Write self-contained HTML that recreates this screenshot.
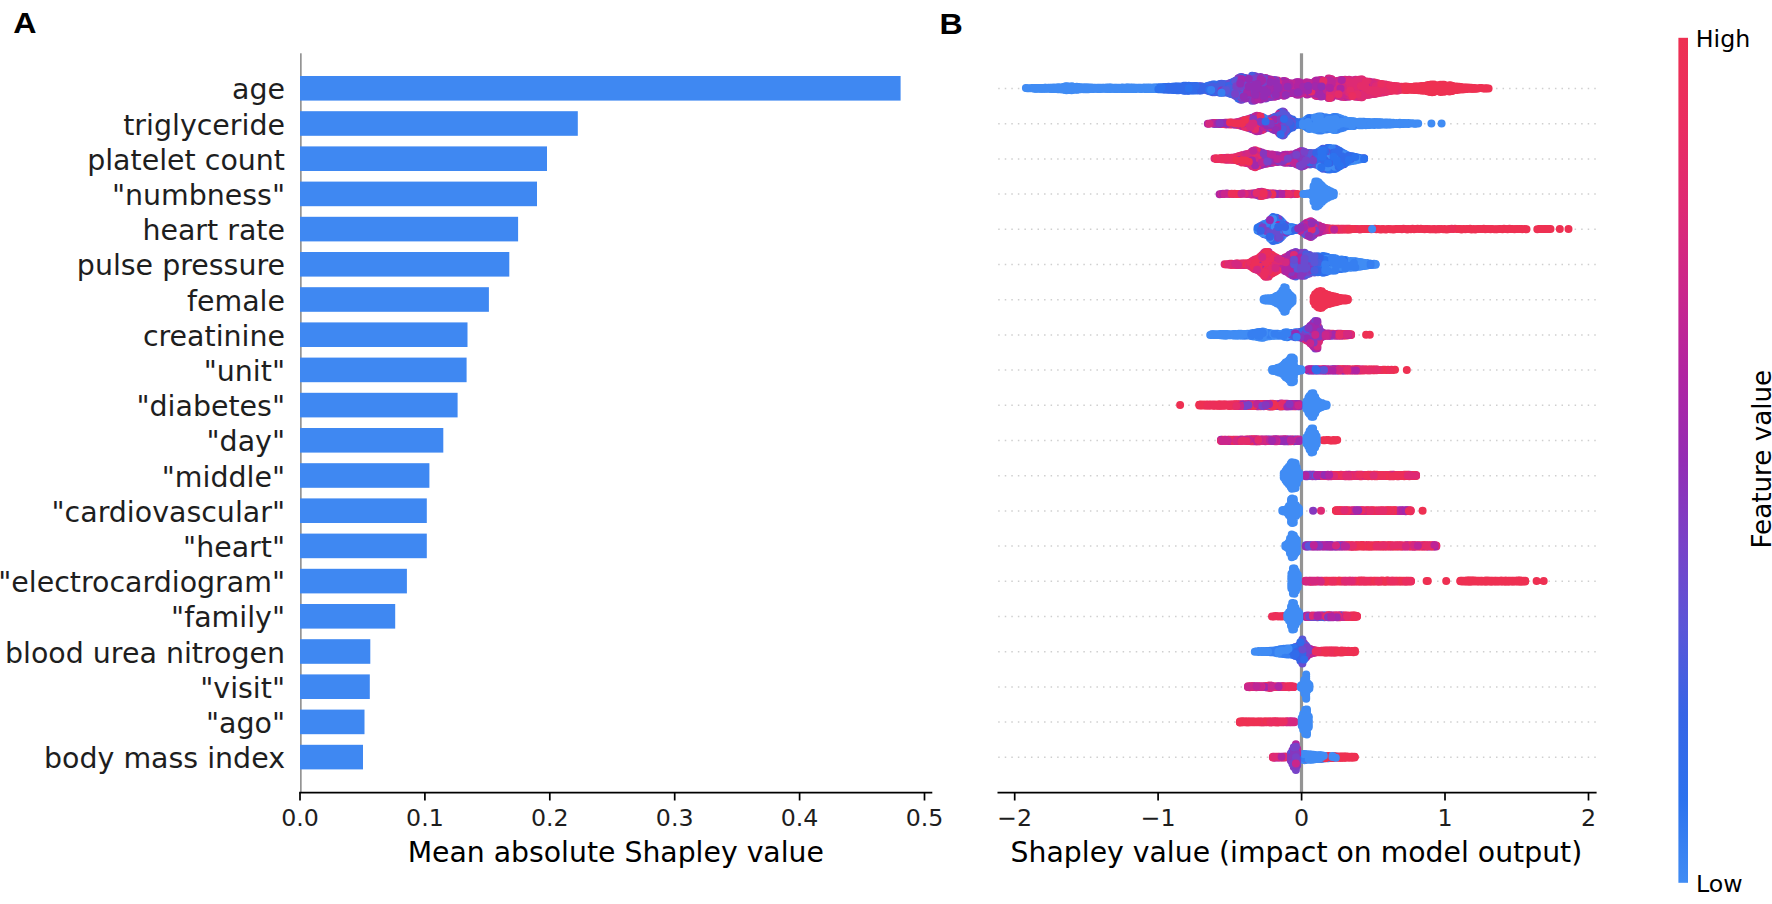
<!DOCTYPE html>
<html lang="en"><head><meta charset="utf-8"><title>Shapley value summary</title>
<style>html,body{margin:0;padding:0;background:#fff}svg{display:block}.dv{font-family:"DejaVu Sans","Liberation Sans",sans-serif}.lb{font-family:"Liberation Sans","DejaVu Sans",sans-serif;font-weight:bold;font-size:28.8px;fill:#000}.yl{font-size:28.45px;fill:#1e1e1e;text-anchor:end}.xt{font-size:23.7px;fill:#1e1e1e;text-anchor:middle}.xl{font-size:28.3px;fill:#000;text-anchor:middle}.cb{font-size:23.7px;fill:#000}.fv{font-size:26.2px;fill:#000;text-anchor:middle}.sw path{fill:none;stroke-width:8.0;stroke-linecap:round}</style></head><body>
<svg width="1772" height="904" viewBox="0 0 1772 904">
<defs><linearGradient id="cbg" x1="0" y1="1" x2="0" y2="0">
<stop offset="0.00" stop-color="#408cf4"/>
<stop offset="0.10" stop-color="#2c72ee"/>
<stop offset="0.20" stop-color="#3664e6"/>
<stop offset="0.30" stop-color="#5a56d8"/>
<stop offset="0.40" stop-color="#7842c8"/>
<stop offset="0.50" stop-color="#942cb4"/>
<stop offset="0.60" stop-color="#b024a2"/>
<stop offset="0.70" stop-color="#ca268c"/>
<stop offset="0.80" stop-color="#de2a74"/>
<stop offset="0.90" stop-color="#ea2d60"/>
<stop offset="1.00" stop-color="#ee3052"/>
</linearGradient></defs>
<rect width="1772" height="904" fill="#fff"/>
<text class="lb" transform="translate(13.3 33.4) scale(1.12 1)">A</text>
<text class="lb" transform="translate(939.6 33.9) scale(1.12 1)">B</text>
<g class="dv">
<rect x="300" y="53.3" width="1.7" height="739.3" fill="#949494"/>
<g fill="#3f88f2">
<rect x="300" y="76.00" width="600.6" height="24.6"/>
<rect x="300" y="111.20" width="277.8" height="24.6"/>
<rect x="300" y="146.40" width="247.0" height="24.6"/>
<rect x="300" y="181.60" width="237.0" height="24.6"/>
<rect x="300" y="216.80" width="218.1" height="24.6"/>
<rect x="300" y="252.00" width="209.3" height="24.6"/>
<rect x="300" y="287.20" width="188.9" height="24.6"/>
<rect x="300" y="322.40" width="167.5" height="24.6"/>
<rect x="300" y="357.60" width="166.6" height="24.6"/>
<rect x="300" y="392.80" width="157.6" height="24.6"/>
<rect x="300" y="428.00" width="143.3" height="24.6"/>
<rect x="300" y="463.20" width="129.4" height="24.6"/>
<rect x="300" y="498.40" width="126.8" height="24.6"/>
<rect x="300" y="533.60" width="126.8" height="24.6"/>
<rect x="300" y="568.80" width="106.9" height="24.6"/>
<rect x="300" y="604.00" width="95.2" height="24.6"/>
<rect x="300" y="639.20" width="70.3" height="24.6"/>
<rect x="300" y="674.40" width="69.8" height="24.6"/>
<rect x="300" y="709.60" width="64.5" height="24.6"/>
<rect x="300" y="744.80" width="63.0" height="24.6"/>
</g>
<text class="yl" x="285.0" y="99.3">age</text>
<text class="yl" x="285.0" y="134.5">triglyceride</text>
<text class="yl" x="285.0" y="169.7">platelet count</text>
<text class="yl" x="285.0" y="204.9">&quot;numbness&quot;</text>
<text class="yl" x="285.0" y="240.1">heart rate</text>
<text class="yl" x="285.0" y="275.3">pulse pressure</text>
<text class="yl" x="285.0" y="310.5">female</text>
<text class="yl" x="285.0" y="345.7">creatinine</text>
<text class="yl" x="285.0" y="380.9">&quot;unit&quot;</text>
<text class="yl" x="285.0" y="416.1">&quot;diabetes&quot;</text>
<text class="yl" x="285.0" y="451.3">&quot;day&quot;</text>
<text class="yl" x="285.0" y="486.5">&quot;middle&quot;</text>
<text class="yl" x="285.0" y="521.7">&quot;cardiovascular&quot;</text>
<text class="yl" x="285.0" y="556.9">&quot;heart&quot;</text>
<text class="yl" x="285.0" y="592.1">&quot;electrocardiogram&quot;</text>
<text class="yl" x="285.0" y="627.3">&quot;family&quot;</text>
<text class="yl" x="285.0" y="662.5">blood urea nitrogen</text>
<text class="yl" x="285.0" y="697.7">&quot;visit&quot;</text>
<text class="yl" x="285.0" y="732.9">&quot;ago&quot;</text>
<text class="yl" x="285.0" y="768.1">body mass index</text>
<path d="M299.2 792.6H932.3" stroke="#000" stroke-width="1.7" fill="none"/>
<text class="xt" x="300.0" y="826.4">0.0</text>
<text class="xt" x="424.9" y="826.4">0.1</text>
<text class="xt" x="549.8" y="826.4">0.2</text>
<text class="xt" x="674.7" y="826.4">0.3</text>
<text class="xt" x="799.6" y="826.4">0.4</text>
<text class="xt" x="924.5" y="826.4">0.5</text>
<path d="M300.0 792.6v8.0M424.9 792.6v8.0M549.8 792.6v8.0M674.7 792.6v8.0M799.6 792.6v8.0M924.5 792.6v8.0" stroke="#000" stroke-width="1.7" fill="none"/>
<text class="xl" x="615.8" y="861.8">Mean absolute Shapley value</text>
<path d="M998.2 88.5H1596M998.2 123.7H1596M998.2 158.9H1596M998.2 194.1H1596M998.2 229.3H1596M998.2 264.5H1596M998.2 299.7H1596M998.2 334.9H1596M998.2 370.1H1596M998.2 405.3H1596M998.2 440.5H1596M998.2 475.7H1596M998.2 510.9H1596M998.2 546.1H1596M998.2 581.3H1596M998.2 616.5H1596M998.2 651.7H1596M998.2 686.9H1596M998.2 722.1H1596M998.2 757.3H1596" stroke="#cfcfcf" stroke-width="1.5" stroke-dasharray="1.5 5.05" fill="none"/>
<rect x="1299.9" y="53.3" width="3.2" height="739.3" fill="#949494"/>
<g class="sw">
<path stroke="#b024a2" d="M1335.1 84.4h0M1284.1 81.0h0M1319.8 88.6h0M1280.9 90.0h0M1352.3 92.1h0M1284.1 82.9h0M1267.1 80.7h0M1292.6 88.1h0M1282.9 93.9h0M1319.8 90.3h0M1303.2 83.6h0M1341.7 96.8h0M1275.8 90.5h0M1294.2 83.4h0M1311.3 83.2h0M1311.3 90.0h0M1292.6 91.8h0M1328.4 82.6h0M1275.8 96.3h0M1294.2 89.7h0M1285.9 86.1h0M1345.1 94.9h0M1336.8 84.4h0M1282.9 95.3h0M1284.1 88.1h0M1318.5 95.8h0M1272.5 86.2h0"/>
<path stroke="#367ff1" d="M1207.5 89.4h0M1197.5 90.3h0"/>
<path stroke="#5a56d8" d="M1250.2 94.0h0M1252.1 81.8h0M1225.0 92.1h0M1223.3 92.7h0M1252.1 96.6h0M1250.2 82.3h0M1219.8 90.6h0M1214.8 88.5h0M1212.8 92.2h0M1247.1 88.2h0M1250.2 90.3h0M1238.3 90.5h0"/>
<path stroke="#694cd0" d="M1238.3 88.6h0M1238.3 82.5h0M1240.3 90.8h0M1250.2 88.1h0M1265.6 98.6h0M1255.2 76.3h0M1236.3 92.2h0M1250.2 86.4h0M1253.4 84.3h0M1250.2 95.9h0M1223.3 88.1h0M1253.4 90.5h0M1255.2 96.2h0M1238.3 84.0h0M1257.3 86.2h0M1238.3 92.2h0M1253.4 82.2h0"/>
<path stroke="#ec2e59" d="M1377.6 84.9h0"/>
<path stroke="#e42c6a" d="M1358.8 92.7h0M1377.6 83.3h0M1374.5 82.5h0M1360.9 81.7h0M1391.2 85.8h0M1360.9 90.3h0M1381.3 90.5h0M1357.4 90.5h0M1391.2 89.8h0M1370.7 82.5h0M1372.9 88.0h0M1377.6 91.6h0M1388.0 88.2h0M1382.8 88.1h0M1362.2 97.2h0M1360.9 79.4h0"/>
<path stroke="#a228ab" d="M1267.1 86.2h0M1264.1 80.3h0M1313.4 84.5h0M1301.4 89.7h0M1238.3 94.4h0M1265.6 96.5h0M1270.4 84.1h0M1270.4 86.2h0M1248.8 95.9h0M1296.4 90.2h0M1289.3 83.3h0M1297.8 94.5h0M1297.8 88.5h0M1270.4 90.6h0M1267.1 84.2h0M1260.6 99.5h0M1289.3 93.3h0M1294.2 91.7h0M1296.4 82.3h0M1268.7 86.3h0M1319.8 86.3h0"/>
<path stroke="#bd2597" d="M1316.5 90.3h0M1329.9 91.9h0M1291.0 86.9h0M1372.9 82.4h0M1287.6 93.6h0M1304.9 91.4h0M1326.6 92.3h0M1345.1 96.9h0M1343.6 90.5h0M1304.9 87.0h0M1326.6 84.8h0M1277.6 92.0h0M1326.6 94.1h0M1319.8 96.3h0M1340.5 80.3h0M1303.2 88.6h0M1316.5 96.0h0M1318.5 82.6h0M1326.6 86.4h0M1289.3 86.6h0M1316.5 82.6h0M1308.1 92.1h0M1274.4 92.6h0M1265.6 78.1h0M1323.4 90.2h0M1299.2 86.5h0"/>
<path stroke="#d42880" d="M1362.2 81.7h0M1349.1 88.5h0M1349.1 90.5h0M1313.4 93.8h0M1358.8 79.8h0M1282.9 82.9h0M1355.6 81.7h0M1360.9 92.6h0M1354.0 88.2h0M1321.5 84.3h0M1343.6 92.7h0M1326.6 90.4h0M1324.8 95.7h0M1336.8 93.6h0M1341.7 84.1h0M1354.0 84.4h0M1309.7 90.0h0M1321.5 90.4h0M1352.3 88.3h0M1346.9 80.3h0M1379.6 90.4h0M1297.8 90.1h0M1329.9 86.6h0M1350.3 88.1h0M1318.5 88.3h0M1315.1 95.3h0M1340.5 94.4h0M1315.1 91.9h0"/>
<path stroke="#ea2d60" d="M1397.9 88.2h0M1375.8 93.6h0M1393.2 86.1h0M1391.2 90.8h0M1363.8 92.1h0M1396.7 90.4h0M1381.3 86.2h0M1389.8 88.1h0M1394.5 86.1h0"/>
<path stroke="#8637be" d="M1233.6 92.7h0M1260.6 77.0h0M1265.6 84.2h0M1264.1 86.2h0M1262.2 82.5h0M1280.9 82.7h0M1264.1 92.4h0M1265.6 86.3h0M1257.3 79.5h0M1255.2 82.2h0M1253.4 98.6h0M1274.4 86.4h0M1267.1 78.8h0M1270.4 94.6h0M1268.7 92.5h0M1250.2 78.7h0M1243.6 84.4h0M1303.2 91.4h0M1258.4 84.2h0"/>
<path stroke="#ca268c" d="M1321.5 82.3h0M1367.6 83.6h0M1324.8 80.9h0M1345.1 79.7h0M1321.5 92.4h0M1285.9 93.1h0M1363.8 81.0h0M1303.2 85.1h0M1308.1 94.2h0M1304.9 88.4h0M1311.3 86.5h0M1358.8 94.6h0M1335.1 86.0h0M1328.4 94.1h0M1335.1 90.5h0M1369.4 81.8h0M1352.3 80.6h0M1374.5 90.3h0M1321.5 94.6h0M1345.1 92.4h0M1341.7 94.5h0M1340.5 84.5h0M1341.7 92.7h0M1335.1 94.4h0M1333.5 83.9h0M1336.8 83.1h0M1304.9 83.7h0M1345.1 81.5h0M1358.8 90.7h0M1333.5 90.2h0M1323.4 84.5h0"/>
<path stroke="#408cf4" d="M1078.3 87.0h0M1144.7 88.9h0M1110.6 89.0h0M1080.5 87.2h0M1155.2 87.5h0M1133.0 87.6h0M1115.7 87.8h0M1122.8 88.9h0M1133.0 88.9h0M1109.4 89.0h0M1127.6 88.6h0M1143.1 88.8h0M1044.8 88.8h0M1041.3 88.7h0M1102.6 88.8h0M1107.2 87.5h0M1052.7 88.9h0M1139.6 88.8h0M1126.4 88.4h0M1054.4 89.0h0M1042.8 88.0h0M1112.4 88.3h0M1075.2 88.6h0M1144.7 87.6h0M1097.4 88.5h0M1045.9 88.5h0M1051.3 87.8h0M1146.8 87.6h0M1117.3 88.9h0M1121.3 88.3h0M1044.8 87.7h0M1138.3 88.7h0M1041.3 88.0h0M1136.4 87.7h0M1117.3 87.7h0M1030.8 88.3h0M1115.7 88.2h0M1083.4 89.2h0M1144.7 88.6h0M1131.1 87.7h0M1148.4 88.3h0M1155.2 89.0h0M1032.6 88.0h0M1126.4 87.6h0M1136.4 88.9h0M1103.8 88.8h0M1138.3 88.0h0M1065.1 86.5h0M1117.3 88.4h0M1051.3 88.9h0M1114.3 88.9h0M1061.6 87.4h0M1057.9 88.3h0M1075.2 87.0h0M1110.6 87.6h0M1100.7 88.5h0M1070.3 89.9h0M1105.6 88.3h0M1076.8 89.8h0M1037.6 87.9h0M1150.3 88.9h0M1129.7 89.0h0M1121.3 87.7h0M1093.6 87.8h0M1146.8 89.0h0M1121.3 88.9h0M1054.4 87.6h0M1036.0 88.0h0M1138.3 87.8h0M1136.4 88.6h0"/>
<path stroke="#3664e6" d="M1209.4 87.1h0M1233.6 84.1h0M1209.4 85.5h0M1217.8 91.7h0M1190.4 88.2h0M1205.8 88.2h0M1212.8 90.5h0M1209.4 91.2h0M1217.8 89.7h0M1195.8 88.1h0M1236.3 84.4h0M1188.8 89.3h0M1199.2 90.4h0"/>
<path stroke="#2c72ee" d="M1158.4 88.0h0M1201.0 88.5h0M1223.3 90.3h0M1188.8 86.9h0M1223.3 84.0h0M1161.7 89.2h0M1214.8 86.1h0"/>
<path stroke="#942cb4" d="M1258.4 86.4h0M1272.5 96.5h0M1284.1 91.9h0M1296.4 84.4h0M1282.9 86.6h0M1260.6 90.3h0M1278.9 86.1h0M1278.9 84.0h0M1265.6 92.2h0M1277.6 96.1h0M1258.4 79.5h0M1262.2 94.5h0M1272.5 80.2h0M1262.2 98.4h0M1262.2 86.0h0M1240.3 99.4h0M1258.4 97.1h0M1247.1 90.1h0M1297.8 84.4h0M1260.6 95.2h0M1253.4 92.2h0M1268.7 95.2h0M1243.6 90.6h0M1247.1 96.2h0M1258.4 81.7h0"/>
<path stroke="#7842c8" d="M1235.2 84.9h0M1253.4 80.0h0M1257.3 77.8h0M1241.7 84.2h0M1241.7 99.8h0M1228.4 88.2h0M1236.3 90.0h0M1245.4 92.6h0M1252.1 100.8h0M1253.4 100.7h0M1253.4 76.0h0M1248.8 84.2h0M1260.6 92.9h0M1248.8 97.9h0M1253.4 96.5h0M1241.7 76.9h0M1262.2 92.3h0M1267.1 88.6h0M1238.3 80.3h0M1274.4 79.9h0"/>
<path stroke="#485ddf" d="M1240.3 77.2h0M1245.4 96.6h0M1238.3 96.5h0M1235.2 89.9h0M1204.5 86.9h0M1228.4 90.9h0M1241.7 88.4h0M1225.0 88.2h0M1248.8 82.3h0M1207.5 87.0h0M1231.3 91.9h0M1216.2 85.0h0M1216.2 89.8h0"/>
<path stroke="#316bea" d="M1175.3 90.0h0M1190.4 86.1h0M1187.7 88.2h0M1199.2 86.2h0M1197.5 86.3h0M1185.9 90.8h0M1204.5 88.2h0M1168.6 86.7h0M1187.7 90.7h0M1173.6 88.2h0M1187.7 89.4h0M1199.2 88.2h0M1176.8 90.2h0M1204.5 89.8h0M1187.7 85.9h0M1194.3 88.1h0M1183.9 87.2h0M1165.0 88.0h0M1238.3 98.4h0M1180.3 88.6h0M1203.0 89.8h0M1173.6 89.9h0M1185.9 89.3h0M1165.0 89.5h0M1235.2 86.2h0M1178.7 90.2h0M1182.2 88.3h0M1163.6 87.2h0M1205.8 89.9h0M1173.6 86.7h0"/>
<path stroke="#ee3052" d="M1405.1 86.6h0M1437.6 87.1h0M1429.0 88.6h0M1439.2 86.7h0M1444.1 86.5h0M1488.6 88.6h0M1424.0 89.4h0M1434.0 92.1h0M1427.1 86.7h0M1437.6 88.3h0M1429.0 90.1h0M1408.0 89.9h0M1399.6 88.3h0M1457.4 86.8h0M1425.0 88.2h0M1442.4 88.3h0M1479.9 88.1h0M1416.8 89.9h0M1445.5 88.2h0M1425.0 86.7h0M1435.5 86.8h0M1424.0 85.9h0M1409.8 89.7h0M1469.7 88.8h0M1452.3 90.9h0M1472.9 87.9h0M1420.5 86.4h0M1405.1 88.4h0M1447.6 90.8h0M1444.1 88.4h0M1430.2 84.7h0M1454.5 88.4h0M1439.2 88.3h0M1439.2 89.7h0M1449.4 85.3h0M1466.1 89.0h0M1447.6 88.2h0M1432.1 86.4h0M1485.1 88.5h0M1437.6 85.6h0M1457.4 88.0h0M1429.0 91.6h0M1449.4 91.4h0M1442.4 91.8h0M1416.8 86.6h0M1449.4 88.3h0M1464.4 88.3h0M1472.9 88.4h0M1459.1 88.4h0M1449.4 89.6h0M1401.8 86.8h0M1469.7 87.8h0M1435.5 88.5h0M1476.5 88.4h0M1459.1 86.7h0M1403.0 86.9h0M1435.5 91.2h0M1467.7 89.1h0M1406.6 89.9h0M1444.1 91.8h0M1421.7 90.5h0"/>
<path stroke="#de2a74" d="M1379.6 92.7h0M1379.6 88.3h0M1357.4 84.2h0M1343.6 96.7h0M1340.5 82.0h0M1352.3 94.3h0M1350.3 82.6h0M1355.6 96.7h0M1389.8 89.6h0M1362.2 94.7h0M1370.7 86.2h0M1352.3 86.3h0M1358.8 84.0h0M1315.1 88.5h0M1393.2 87.0h0M1372.9 92.1h0"/>
<path stroke="#7842c8" d="M1262.2 96.2h0M1250.2 97.8h0M1235.2 95.4h0M1241.7 93.8h0M1253.4 94.3h0M1231.3 84.2h0M1236.3 88.1h0M1241.7 82.8h0M1245.4 77.9h0M1240.3 79.4h0M1240.3 92.5h0M1240.3 88.1h0M1265.6 80.1h0M1275.8 84.2h0M1260.6 97.3h0"/>
<path stroke="#ca268c" d="M1323.4 82.6h0M1319.8 84.2h0M1374.5 94.1h0M1316.5 92.1h0M1309.7 88.4h0M1333.5 92.5h0M1324.8 90.1h0M1321.5 88.3h0M1343.6 84.3h0M1331.7 79.2h0M1349.1 83.9h0M1355.6 79.8h0M1309.7 84.9h0M1343.6 88.4h0M1324.8 82.5h0M1349.1 96.7h0M1341.7 82.0h0M1354.0 86.6h0M1338.5 82.8h0M1370.7 92.3h0M1299.2 88.0h0M1328.4 92.3h0M1367.6 94.8h0M1313.4 86.2h0M1323.4 95.7h0M1372.9 86.5h0M1319.8 92.6h0M1324.8 93.8h0M1345.1 83.8h0M1318.5 84.8h0M1331.7 92.9h0M1299.2 90.1h0M1340.5 96.3h0M1311.3 84.6h0M1289.3 91.4h0M1346.9 92.2h0M1338.5 84.6h0M1358.8 96.9h0"/>
<path stroke="#ee3052" d="M1430.2 88.5h0M1437.6 91.0h0M1464.4 89.2h0M1451.0 88.6h0M1421.7 86.1h0M1432.1 92.2h0M1420.5 90.3h0M1466.1 88.4h0M1486.4 88.3h0M1424.0 88.4h0M1440.4 86.4h0M1444.1 84.8h0M1467.7 88.1h0M1435.5 89.6h0M1425.0 89.5h0M1437.6 89.4h0M1435.5 85.3h0M1403.0 88.2h0M1420.5 88.5h0M1440.4 90.3h0M1432.1 84.4h0M1474.4 88.6h0M1434.0 84.5h0M1425.0 90.8h0M1442.4 86.4h0M1427.1 89.9h0M1406.6 88.2h0M1455.8 90.1h0M1452.3 88.1h0M1471.3 88.3h0M1460.9 89.6h0M1462.8 87.4h0M1411.6 87.0h0M1430.2 91.9h0M1401.8 89.8h0M1406.6 86.7h0M1477.8 88.5h0M1408.0 88.2h0M1439.2 90.9h0M1425.0 85.7h0M1403.0 89.8h0M1409.8 86.9h0M1430.2 90.1h0M1445.5 90.7h0M1427.1 85.3h0M1454.5 89.9h0M1452.3 89.5h0M1440.4 88.3h0M1457.4 89.9h0M1464.4 87.4h0M1427.1 91.3h0M1421.7 88.3h0M1408.0 86.7h0M1411.6 89.7h0M1442.4 84.8h0M1409.8 88.4h0M1440.4 91.9h0M1424.0 90.7h0M1415.0 86.6h0M1459.1 89.8h0M1434.0 88.1h0M1416.8 88.1h0M1471.3 88.8h0M1469.7 88.1h0M1434.0 90.3h0"/>
<path stroke="#408cf4" d="M1099.0 87.7h0M1039.6 88.7h0M1037.6 88.1h0M1083.4 87.5h0M1050.0 88.8h0M1090.7 88.6h0M1059.7 87.4h0M1122.8 88.4h0M1068.2 90.1h0M1129.7 88.0h0M1063.4 88.6h0M1065.1 90.1h0M1156.5 87.5h0M1141.2 88.2h0M1099.0 88.4h0M1097.4 88.9h0M1088.5 87.5h0M1059.7 88.3h0M1143.1 88.1h0M1126.4 89.0h0M1095.2 88.6h0M1105.6 88.8h0M1039.6 88.1h0M1066.5 88.6h0M1087.4 88.3h0M1073.2 86.7h0M1141.2 87.7h0M1036.0 88.7h0M1085.3 89.2h0M1131.1 88.4h0M1135.0 87.8h0M1095.2 88.8h0M1073.2 88.5h0M1083.4 88.3h0M1156.5 89.0h0M1153.1 89.0h0M1061.6 88.4h0M1153.1 88.1h0M1100.7 89.0h0M1068.2 86.5h0M1092.1 87.8h0M1124.4 88.4h0M1027.2 88.3h0M1048.2 87.8h0M1135.0 88.8h0M1063.4 86.9h0M1109.4 88.2h0M1048.2 88.8h0M1042.8 88.7h0M1073.2 89.9h0M1076.8 86.8h0M1141.2 88.9h0M1115.7 88.8h0M1081.9 89.1h0M1088.5 89.2h0M1081.9 87.4h0M1102.6 87.7h0M1151.4 88.5h0M1075.2 89.6h0M1080.5 88.1h0M1048.2 88.2h0M1071.6 90.3h0M1028.9 88.3h0M1092.1 88.1h0M1124.4 88.9h0M1139.6 87.7h0M1054.4 88.2h0M1056.2 88.1h0M1057.9 89.3h0M1052.7 87.8h0M1085.3 88.4h0M1052.7 88.2h0M1034.1 87.9h0M1066.5 90.3h0M1112.4 88.8h0M1129.7 87.6h0M1061.6 89.3h0M1070.3 88.5h0M1146.8 88.4h0M1087.4 89.1h0M1090.7 89.0h0"/>
<path stroke="#8637be" d="M1231.3 90.3h0M1257.3 82.1h0M1274.4 84.2h0M1257.3 98.8h0M1264.1 94.4h0M1253.4 78.0h0M1275.8 86.0h0M1245.4 79.9h0M1277.6 84.3h0M1243.6 94.2h0M1284.1 86.2h0M1268.7 79.5h0M1252.1 98.7h0M1255.2 80.5h0M1247.1 97.9h0M1238.3 78.3h0M1272.5 84.1h0M1260.6 88.5h0M1284.1 84.7h0M1241.7 86.1h0"/>
<path stroke="#ea2d60" d="M1345.1 88.0h0M1397.9 86.4h0M1375.8 88.4h0M1377.6 88.6h0"/>
<path stroke="#5a56d8" d="M1240.3 94.7h0M1214.8 92.3h0M1243.6 81.9h0M1223.3 86.3h0M1241.7 91.9h0M1201.0 86.2h0M1243.6 98.4h0M1235.2 88.1h0M1231.3 82.7h0"/>
<path stroke="#3664e6" d="M1211.2 85.0h0M1212.8 84.5h0M1229.8 86.8h0M1226.2 92.4h0M1203.0 86.7h0M1217.8 86.5h0M1212.8 88.6h0M1205.8 86.7h0M1226.2 88.1h0M1221.5 85.7h0"/>
<path stroke="#bd2597" d="M1324.8 92.2h0M1278.9 82.2h0M1318.5 94.1h0M1277.6 82.6h0M1280.9 86.6h0M1346.9 96.4h0M1346.9 84.3h0M1285.9 81.5h0M1280.9 84.7h0M1328.4 80.3h0M1336.8 95.5h0M1294.2 85.1h0M1294.2 86.8h0M1346.9 82.3h0M1301.4 83.6h0M1289.3 88.2h0M1301.4 88.2h0M1357.4 81.8h0M1315.1 90.1h0M1333.5 88.2h0M1296.4 86.1h0M1294.2 93.1h0M1349.1 95.0h0M1329.9 82.3h0M1326.6 88.0h0"/>
<path stroke="#b024a2" d="M1284.1 95.7h0M1282.9 92.1h0M1297.8 82.2h0M1318.5 92.4h0M1274.4 88.2h0M1291.0 88.2h0M1277.6 90.1h0M1270.4 88.5h0M1309.7 86.6h0M1289.3 90.3h0M1274.4 96.7h0M1324.8 86.6h0M1292.6 89.8h0M1309.7 91.7h0M1287.6 88.1h0M1296.4 92.3h0M1257.3 90.3h0M1306.7 94.4h0M1299.2 94.4h0M1258.4 90.5h0M1296.4 94.5h0M1267.1 82.8h0M1323.4 86.6h0"/>
<path stroke="#ec2e59" d="M1399.6 86.8h0"/>
<path stroke="#942cb4" d="M1260.6 83.6h0M1252.1 84.3h0M1245.4 86.2h0M1252.1 92.7h0M1272.5 82.1h0M1265.6 88.3h0M1250.2 84.6h0M1252.1 88.3h0M1267.1 95.9h0M1268.7 90.4h0M1245.4 98.6h0M1250.2 92.4h0M1247.1 84.5h0M1247.1 78.8h0"/>
<path stroke="#694cd0" d="M1243.6 86.2h0M1236.3 82.5h0M1236.3 80.4h0M1257.3 96.6h0M1226.2 84.2h0M1229.8 91.9h0M1248.8 80.5h0M1258.4 92.8h0M1225.0 86.3h0M1233.6 86.0h0M1236.3 96.3h0M1219.8 88.3h0M1241.7 90.4h0M1231.3 88.2h0M1235.2 82.8h0M1252.1 78.0h0M1252.1 94.4h0M1233.6 88.4h0M1247.1 80.5h0M1272.5 88.5h0"/>
<path stroke="#e42c6a" d="M1382.8 86.4h0M1357.4 92.4h0M1388.0 85.3h0M1362.2 93.0h0M1394.5 88.1h0M1363.8 86.4h0M1388.0 89.7h0M1370.7 88.1h0M1391.2 87.1h0M1367.6 81.8h0M1389.8 91.1h0M1384.9 86.2h0M1336.8 81.1h0M1386.3 91.8h0M1375.8 83.0h0M1379.6 86.1h0M1388.0 87.0h0M1372.9 94.1h0M1386.3 90.2h0M1389.8 86.9h0M1396.7 88.0h0M1358.8 88.3h0M1377.6 86.6h0"/>
<path stroke="#a228ab" d="M1301.4 91.2h0M1248.8 93.8h0M1264.1 88.4h0M1282.9 90.0h0M1274.4 90.4h0M1308.1 88.3h0M1284.1 93.7h0M1255.2 100.3h0M1275.8 92.4h0M1275.8 88.1h0M1315.1 83.0h0M1282.9 81.2h0M1294.2 88.1h0M1306.7 86.0h0M1287.6 83.0h0M1255.2 98.4h0M1272.5 92.7h0M1287.6 84.6h0M1262.2 78.2h0"/>
<path stroke="#d42880" d="M1363.8 82.7h0M1362.2 90.7h0M1350.3 92.4h0M1335.1 82.3h0M1285.9 88.1h0M1335.1 88.4h0M1363.8 88.0h0M1375.8 91.6h0M1329.9 96.3h0M1354.0 80.5h0M1336.8 90.0h0M1341.7 88.2h0M1340.5 92.3h0M1362.2 83.7h0M1372.9 84.2h0M1354.0 90.2h0M1313.4 88.1h0M1335.1 92.5h0M1324.8 84.6h0M1329.9 90.4h0M1350.3 96.1h0M1328.4 88.6h0M1338.5 92.3h0M1341.7 86.1h0M1370.7 84.4h0M1338.5 88.4h0M1336.8 88.2h0M1338.5 90.0h0M1331.7 88.1h0M1323.4 93.9h0M1333.5 94.7h0M1357.4 88.6h0M1349.1 79.8h0M1278.9 92.1h0M1355.6 88.5h0M1355.6 94.5h0M1365.9 90.4h0M1367.6 86.3h0M1354.0 92.1h0"/>
<path stroke="#485ddf" d="M1207.5 90.6h0M1229.8 84.9h0M1225.0 84.5h0M1228.4 83.9h0M1226.2 86.4h0M1245.4 94.4h0"/>
<path stroke="#2c72ee" d="M1192.3 86.2h0M1160.2 88.6h0M1161.7 88.4h0M1192.3 90.4h0M1197.5 88.5h0M1158.4 87.5h0"/>
<path stroke="#316bea" d="M1185.9 86.9h0M1163.6 89.4h0M1166.8 87.0h0M1183.9 89.3h0M1188.8 90.8h0M1166.8 88.3h0M1185.9 85.8h0M1178.7 86.5h0M1207.5 85.9h0M1211.2 86.6h0M1180.3 90.1h0M1180.3 86.4h0M1175.3 86.6h0M1190.4 90.4h0M1182.2 86.4h0M1172.2 89.8h0M1207.5 88.3h0M1165.0 87.1h0M1216.2 91.7h0M1211.2 91.6h0M1176.8 88.5h0M1178.7 88.4h0M1195.8 90.5h0M1194.3 90.6h0M1183.9 85.8h0M1170.3 88.1h0M1163.6 88.1h0M1168.6 89.8h0M1170.3 86.9h0"/>
<path stroke="#de2a74" d="M1349.1 86.1h0M1381.3 88.2h0M1369.4 83.8h0M1365.9 83.7h0M1324.8 88.0h0M1340.5 90.3h0M1369.4 88.2h0M1360.9 88.5h0M1365.9 95.1h0M1346.9 94.5h0M1363.8 95.7h0M1343.6 79.9h0M1374.5 88.1h0M1369.4 86.1h0M1386.3 84.8h0M1341.7 90.2h0M1363.8 90.0h0"/>
<path stroke="#ca268c" d="M1328.4 78.5h0M1292.6 86.9h0M1338.5 95.8h0M1338.5 80.7h0M1343.6 94.4h0M1309.7 83.3h0M1331.7 90.6h0M1303.2 93.0h0M1287.6 89.9h0M1318.5 86.5h0M1277.6 80.5h0M1350.3 94.3h0M1328.4 95.9h0M1354.0 82.5h0M1282.9 84.6h0M1313.4 82.9h0M1360.9 94.8h0M1291.0 90.2h0M1340.5 86.4h0M1355.6 92.4h0M1362.2 88.5h0M1291.0 85.3h0M1343.6 81.7h0M1333.5 86.2h0M1328.4 84.2h0M1355.6 86.0h0M1318.5 80.8h0M1308.1 84.4h0M1277.6 94.0h0M1304.9 93.0h0M1333.5 81.9h0"/>
<path stroke="#d42880" d="M1365.9 92.7h0M1306.7 92.4h0M1357.4 86.4h0M1329.9 78.8h0M1345.1 85.9h0M1374.5 84.2h0M1319.8 82.3h0M1326.6 82.4h0M1331.7 86.1h0M1354.0 94.3h0M1343.6 86.2h0M1336.8 92.0h0M1367.6 90.4h0M1375.8 85.0h0M1316.5 88.5h0M1357.4 96.5h0M1316.5 84.4h0M1362.2 85.9h0M1329.9 84.6h0M1338.5 86.6h0M1346.9 88.0h0M1319.8 80.3h0M1367.6 88.5h0M1306.7 90.2h0M1354.0 96.2h0M1374.5 86.5h0M1346.9 90.5h0M1370.7 94.1h0M1360.9 83.6h0M1306.7 84.4h0M1350.3 80.6h0M1291.0 93.1h0M1326.6 95.6h0M1336.8 86.2h0M1345.1 90.6h0M1384.9 88.1h0M1346.9 86.1h0"/>
<path stroke="#ec2e59" d="M1399.6 89.7h0"/>
<path stroke="#694cd0" d="M1216.2 88.5h0M1245.4 88.1h0M1231.3 86.2h0M1229.8 89.8h0M1245.4 82.3h0M1260.6 86.0h0M1233.6 94.8h0M1229.8 83.2h0M1268.7 97.1h0M1255.2 88.3h0M1245.4 90.6h0"/>
<path stroke="#3664e6" d="M1233.6 81.8h0M1209.4 88.3h0M1216.2 86.6h0M1236.3 94.5h0M1219.8 83.9h0M1243.6 78.2h0M1228.4 86.1h0M1217.8 84.9h0M1194.3 86.1h0M1187.7 87.0h0M1203.0 88.1h0M1201.0 90.4h0"/>
<path stroke="#408cf4" d="M1150.3 87.6h0M1150.3 88.2h0M1071.6 88.2h0M1148.4 89.0h0M1056.2 87.7h0M1080.5 89.3h0M1045.9 88.8h0M1155.2 88.2h0M1095.2 87.7h0M1037.6 88.7h0M1110.6 88.5h0M1124.4 87.7h0M1042.8 88.0h0M1151.4 88.9h0M1093.6 88.0h0M1105.6 87.7h0M1119.2 88.9h0M1090.7 87.5h0M1065.1 88.2h0M1153.1 87.6h0M1045.9 87.8h0M1103.8 87.7h0M1050.0 87.8h0M1056.2 89.0h0M1114.3 87.8h0M1093.6 88.9h0M1135.0 88.2h0M1103.8 88.3h0M1063.4 89.6h0M1066.5 86.3h0M1076.8 88.1h0M1099.0 88.9h0M1034.1 88.7h0M1114.3 88.0h0M1057.9 87.3h0M1122.8 87.6h0M1139.6 88.5h0M1109.4 87.6h0M1070.3 86.7h0M1034.1 88.5h0M1107.2 89.0h0M1107.2 88.3h0M1143.1 87.8h0M1112.4 87.8h0M1078.3 88.3h0M1044.8 88.0h0M1119.2 88.4h0M1081.9 88.2h0M1156.5 88.5h0M1092.1 88.9h0M1102.6 88.1h0M1087.4 87.4h0M1127.6 89.0h0M1059.7 89.2h0M1085.3 87.3h0M1039.6 88.0h0M1071.6 86.3h0M1097.4 87.8h0M1051.3 88.4h0M1100.7 87.7h0M1119.2 87.7h0M1148.4 87.7h0M1151.4 87.7h0M1025.9 88.0h0M1041.3 88.2h0M1078.3 89.6h0M1133.0 88.1h0M1068.2 88.5h0M1127.6 87.6h0M1050.0 88.4h0M1036.0 88.3h0M1131.1 89.0h0M1088.5 88.1h0"/>
<path stroke="#316bea" d="M1176.8 86.4h0M1217.8 88.3h0M1229.8 93.5h0M1188.8 85.8h0M1172.2 88.1h0M1182.2 90.2h0M1175.3 88.1h0M1183.9 88.0h0M1183.9 90.7h0M1192.3 88.3h0M1166.8 89.6h0M1214.8 84.4h0M1172.2 86.7h0M1168.6 88.2h0M1185.9 88.4h0M1170.3 89.8h0M1195.8 86.1h0"/>
<path stroke="#485ddf" d="M1219.8 92.7h0M1212.8 86.6h0M1233.6 90.5h0M1231.3 93.9h0M1221.5 88.6h0M1211.2 88.1h0M1219.8 85.8h0M1252.1 75.8h0M1221.5 83.7h0M1229.8 88.2h0M1214.8 90.1h0M1240.3 97.4h0M1228.4 92.8h0"/>
<path stroke="#2c72ee" d="M1160.2 89.3h0M1160.2 87.2h0M1209.4 90.0h0M1161.7 87.3h0M1188.8 88.2h0M1158.4 89.2h0"/>
<path stroke="#ee3052" d="M1413.8 90.0h0M1466.1 87.5h0M1418.6 88.5h0M1445.5 87.3h0M1471.3 87.8h0M1418.6 86.4h0M1439.2 85.7h0M1440.4 84.8h0M1472.9 88.7h0M1451.0 91.1h0M1405.1 89.9h0M1462.8 89.2h0M1413.8 88.2h0M1445.5 89.8h0M1462.8 88.3h0M1454.5 86.7h0M1481.8 88.1h0M1467.7 87.5h0M1447.6 87.1h0M1444.1 89.9h0M1424.0 86.9h0M1445.5 85.8h0M1455.8 88.5h0M1434.0 86.5h0M1447.6 85.9h0M1474.4 87.9h0M1429.0 86.7h0M1455.8 86.6h0M1452.3 85.8h0M1429.0 85.0h0M1442.4 90.2h0M1474.4 88.7h0M1451.0 89.6h0M1451.0 87.2h0M1483.4 88.5h0M1447.6 89.8h0M1415.0 89.9h0M1449.4 86.6h0M1430.2 86.7h0M1415.0 88.1h0M1418.6 90.2h0M1452.3 87.0h0M1432.1 90.2h0M1427.1 88.0h0M1413.8 86.7h0M1411.6 88.4h0M1401.8 88.6h0M1460.9 87.0h0M1451.0 85.5h0M1432.1 88.4h0M1460.9 88.1h0"/>
<path stroke="#8637be" d="M1264.1 84.6h0M1221.5 90.4h0M1248.8 90.5h0M1243.6 92.2h0M1270.4 97.0h0M1252.1 80.0h0M1241.7 97.9h0M1241.7 80.9h0M1275.8 80.4h0M1247.1 94.2h0M1267.1 97.7h0M1258.4 77.6h0M1284.1 90.3h0M1250.2 80.5h0M1265.6 90.2h0M1282.9 88.4h0"/>
<path stroke="#bd2597" d="M1365.9 85.7h0M1328.4 86.1h0M1292.6 83.5h0M1304.9 85.4h0M1321.5 80.1h0M1329.9 80.3h0M1287.6 91.9h0M1331.7 81.7h0M1323.4 88.1h0M1296.4 88.1h0M1306.7 82.2h0M1280.9 93.9h0M1328.4 90.1h0M1301.4 86.7h0M1311.3 93.3h0M1323.4 92.1h0M1291.0 83.4h0M1315.1 84.9h0M1326.6 80.9h0M1274.4 81.9h0M1301.4 93.0h0M1268.7 81.7h0M1301.4 85.1h0M1328.4 98.0h0M1299.2 84.1h0M1292.6 85.0h0M1291.0 91.5h0M1331.7 83.8h0M1268.7 83.6h0M1285.9 90.4h0M1315.1 81.3h0M1278.9 90.0h0M1308.1 82.4h0M1331.7 97.4h0M1315.1 93.6h0M1313.4 89.9h0M1306.7 88.4h0"/>
<path stroke="#5a56d8" d="M1252.1 90.5h0M1225.0 90.3h0M1243.6 88.1h0M1262.2 84.3h0M1241.7 95.9h0M1258.4 94.9h0M1235.2 92.0h0M1226.2 90.3h0M1265.6 94.6h0M1235.2 81.1h0"/>
<path stroke="#de2a74" d="M1329.9 94.0h0M1369.4 94.8h0M1331.7 95.1h0M1358.8 86.3h0M1355.6 90.4h0M1381.3 92.6h0M1360.9 97.2h0M1352.3 84.7h0M1384.9 92.0h0M1370.7 90.1h0M1375.8 86.3h0M1352.3 82.7h0M1362.2 79.5h0M1357.4 80.0h0M1382.8 92.5h0M1350.3 84.7h0M1369.4 92.6h0M1379.6 83.9h0M1363.8 84.8h0M1350.3 86.1h0M1349.1 82.1h0M1349.1 92.7h0M1358.8 81.5h0M1355.6 83.9h0M1352.3 90.0h0M1363.8 93.6h0M1367.6 92.6h0M1375.8 90.0h0"/>
<path stroke="#b024a2" d="M1258.4 99.0h0M1316.5 94.0h0M1313.4 91.9h0M1304.9 89.8h0M1289.3 85.1h0M1311.3 88.3h0M1267.1 94.3h0M1341.7 79.9h0M1297.8 86.1h0M1316.5 86.3h0M1280.9 88.0h0M1285.9 83.5h0M1278.9 94.4h0M1309.7 93.3h0M1248.8 92.3h0M1316.5 80.5h0M1270.4 92.5h0M1329.9 88.1h0M1303.2 89.7h0M1272.5 94.6h0M1270.4 79.6h0M1299.2 82.3h0M1264.1 82.4h0M1318.5 90.2h0M1340.5 88.4h0M1267.1 90.2h0M1280.9 91.8h0"/>
<path stroke="#7842c8" d="M1248.8 88.1h0M1245.4 84.0h0M1255.2 92.4h0M1255.2 86.5h0M1255.2 78.5h0M1235.2 93.9h0M1238.3 86.4h0M1257.3 92.3h0M1240.3 86.3h0M1247.1 82.8h0M1240.3 81.5h0M1262.2 90.5h0M1253.4 86.5h0M1262.2 88.4h0M1236.3 86.3h0M1253.4 88.1h0M1265.6 82.2h0M1274.4 94.4h0M1264.1 78.6h0M1252.1 86.3h0M1243.6 80.2h0M1247.1 86.5h0"/>
<path stroke="#367ff1" d="M1221.5 92.8h0M1211.2 89.9h0"/>
<path stroke="#e42c6a" d="M1329.9 97.9h0M1323.4 80.9h0M1365.9 88.0h0M1386.3 88.1h0M1365.9 81.6h0M1360.9 86.1h0M1391.2 88.3h0M1384.9 84.6h0M1382.8 90.1h0M1397.9 90.4h0M1377.6 93.3h0M1372.9 90.3h0M1382.8 84.2h0M1388.0 91.3h0M1350.3 90.4h0M1384.9 89.9h0M1374.5 91.9h0M1338.5 94.2h0M1311.3 91.6h0M1357.4 94.3h0M1369.4 90.4h0M1386.3 86.8h0M1377.6 90.1h0"/>
<path stroke="#a228ab" d="M1262.2 80.3h0M1292.6 93.1h0M1247.1 92.2h0M1321.5 96.6h0M1264.1 98.0h0M1315.1 86.3h0M1319.8 94.2h0M1260.6 81.5h0M1241.7 78.9h0M1303.2 86.7h0M1257.3 94.9h0M1308.1 90.2h0M1268.7 88.4h0M1258.4 88.5h0M1260.6 79.0h0M1272.5 90.4h0M1278.9 88.4h0M1299.2 92.1h0"/>
<path stroke="#ea2d60" d="M1396.7 86.3h0M1389.8 85.5h0M1381.3 83.9h0M1393.2 90.5h0M1393.2 88.0h0M1394.5 90.5h0M1352.3 95.9h0M1393.2 89.2h0"/>
<path stroke="#942cb4" d="M1270.4 82.0h0M1275.8 94.4h0M1255.2 94.5h0M1277.6 86.6h0M1264.1 90.3h0M1255.2 84.5h0M1255.2 90.1h0M1257.3 88.4h0M1275.8 82.5h0M1267.1 92.2h0M1264.1 96.0h0M1277.6 88.3h0M1285.9 95.1h0M1297.8 92.4h0M1248.8 86.4h0M1257.3 83.9h0M1287.6 86.7h0M1240.3 83.6h0M1321.5 86.5h0M1243.6 96.8h0M1308.1 86.1h0M1248.8 78.8h0"/>
<path stroke="#ca268c" d="M1258.7 117.9h0M1256.9 115.8h0M1227.8 124.2h0M1248.4 125.4h0M1225.0 124.2h0M1255.1 122.0h0M1265.6 123.7h0"/>
<path stroke="#2c72ee" d="M1321.3 116.5h0"/>
<path stroke="#5a56d8" d="M1277.3 129.2h0M1277.3 125.3h0M1280.6 132.4h0M1282.8 115.5h0M1284.0 114.4h0M1294.6 123.3h0M1262.1 125.4h0M1295.9 125.0h0M1275.7 128.3h0M1280.6 125.8h0"/>
<path stroke="#942cb4" d="M1260.5 130.5h0M1243.7 120.2h0M1284.0 112.3h0M1251.9 117.9h0M1265.6 119.4h0M1267.4 119.8h0M1256.9 123.3h0"/>
<path stroke="#ee3052" d="M1219.8 123.2h0M1223.3 123.6h0M1216.5 123.9h0M1216.5 123.2h0"/>
<path stroke="#de2a74" d="M1272.4 118.0h0M1236.7 123.3h0"/>
<path stroke="#316bea" d="M1290.8 119.6h0M1301.4 124.8h0M1301.4 122.1h0M1282.8 133.5h0"/>
<path stroke="#3664e6" d="M1272.4 119.9h0M1274.3 125.4h0M1290.8 121.2h0M1286.1 119.2h0M1282.8 117.5h0"/>
<path stroke="#367ff1" d="M1348.8 125.7h0M1340.4 118.5h0M1314.9 127.6h0M1335.3 125.5h0M1336.9 117.3h0M1343.9 127.6h0M1309.4 119.8h0M1323.5 117.7h0M1306.4 127.1h0M1377.5 122.3h0M1338.5 123.3h0M1321.3 128.7h0M1335.3 129.8h0M1299.5 123.7h0M1353.8 125.9h0M1326.4 129.5h0M1347.3 124.9h0M1324.8 129.4h0M1336.9 119.4h0M1308.0 120.4h0M1345.5 126.6h0M1306.4 125.5h0M1318.5 123.3h0M1324.8 117.6h0M1367.2 125.0h0M1303.0 121.8h0M1314.9 119.4h0M1330.4 119.8h0M1341.8 123.4h0M1311.2 118.5h0"/>
<path stroke="#408cf4" d="M1416.7 123.5h0M1389.8 123.6h0M1364.1 123.6h0M1398.4 123.5h0M1401.6 123.9h0M1393.1 123.3h0M1338.5 117.8h0M1399.8 122.8h0M1364.1 121.8h0M1314.9 123.3h0M1394.6 123.8h0M1357.5 123.4h0M1367.2 123.5h0M1399.8 124.2h0M1304.6 121.1h0M1380.8 123.5h0M1370.9 122.3h0M1350.6 124.8h0M1323.5 125.3h0M1393.1 122.8h0M1406.9 123.3h0M1394.6 123.0h0M1343.9 125.4h0M1360.8 123.7h0M1369.3 122.1h0M1309.4 123.3h0M1326.4 119.5h0M1345.5 120.3h0M1398.4 123.0h0M1309.4 126.9h0M1316.5 123.6h0M1403.4 123.9h0M1331.7 121.9h0M1311.2 121.7h0M1318.5 122.0h0M1362.6 125.2h0M1377.5 124.7h0M1341.8 126.4h0M1359.1 125.2h0M1362.6 121.7h0M1399.8 123.6h0M1324.8 123.4h0M1319.8 123.6h0M1351.9 121.3h0M1306.4 123.5h0M1340.4 128.5h0M1335.3 127.6h0M1308.0 126.6h0M1321.3 120.0h0M1413.5 123.5h0M1311.2 119.9h0M1389.8 124.5h0M1338.5 127.6h0M1369.3 125.0h0M1312.8 125.0h0M1328.4 127.0h0M1394.6 124.1h0M1403.4 123.0h0M1338.5 125.5h0M1406.9 123.7h0M1376.1 124.7h0M1341.8 120.2h0M1312.8 120.0h0M1319.8 130.3h0M1377.5 123.7h0M1365.8 123.8h0M1364.1 125.1h0M1380.8 124.6h0M1336.9 127.9h0M1384.8 124.4h0M1418.2 123.4h0M1408.5 123.0h0M1360.8 125.2h0M1374.6 124.9h0M1338.5 129.1h0M1318.5 130.4h0M1343.9 121.6h0M1308.0 118.6h0M1357.5 125.1h0M1396.4 122.9h0M1393.1 124.2h0"/>
<path stroke="#694cd0" d="M1275.7 125.7h0M1280.6 116.9h0M1270.9 128.1h0M1280.6 121.5h0M1284.0 116.9h0M1284.0 125.5h0M1270.9 120.3h0M1287.3 123.3h0"/>
<path stroke="#e42c6a" d="M1240.3 125.5h0M1260.5 123.5h0M1225.0 123.2h0"/>
<path stroke="#485ddf" d="M1289.2 118.3h0M1286.1 117.0h0M1290.8 127.5h0M1248.4 121.4h0M1289.2 125.1h0M1294.6 121.5h0M1284.0 134.7h0M1253.3 117.4h0M1269.0 127.8h0"/>
<path stroke="#bd2597" d="M1233.5 123.2h0M1262.1 118.9h0M1256.9 125.3h0M1214.4 123.3h0M1250.3 128.4h0M1251.9 127.3h0"/>
<path stroke="#ec2e59" d="M1214.4 123.1h0"/>
<path stroke="#8637be" d="M1277.3 119.8h0M1214.4 123.9h0M1251.9 129.1h0M1247.0 119.5h0M1262.1 127.9h0"/>
<path stroke="#d42880" d="M1221.0 123.9h0M1256.9 117.4h0M1231.4 124.3h0"/>
<path stroke="#b024a2" d="M1251.9 121.8h0"/>
<path stroke="#a228ab" d="M1255.1 126.8h0M1240.3 121.5h0M1272.4 123.3h0"/>
<path stroke="#7842c8" d="M1280.6 123.3h0M1279.2 121.5h0M1262.1 117.1h0M1218.1 123.5h0M1282.8 111.6h0M1258.7 123.5h0M1248.4 127.8h0"/>
<path stroke="#5a56d8" d="M1295.9 123.4h0M1290.8 123.6h0M1284.0 127.7h0M1297.6 123.7h0M1287.3 116.9h0M1289.2 123.2h0M1275.7 123.8h0M1280.6 114.8h0"/>
<path stroke="#e42c6a" d="M1247.0 125.4h0M1267.4 121.4h0M1251.9 125.1h0"/>
<path stroke="#ee3052" d="M1242.0 120.9h0"/>
<path stroke="#3664e6" d="M1295.9 121.9h0M1289.2 126.9h0M1292.5 127.4h0M1287.3 125.7h0M1292.5 119.5h0M1280.6 112.5h0M1287.3 130.2h0"/>
<path stroke="#a228ab" d="M1260.5 120.0h0M1270.9 118.9h0M1221.0 123.1h0M1274.3 127.8h0M1221.0 123.4h0M1256.9 129.1h0M1250.3 120.2h0M1284.0 121.2h0M1264.0 129.0h0M1245.0 121.9h0M1253.3 129.5h0"/>
<path stroke="#2c72ee" d="M1319.8 127.0h0M1286.1 132.0h0"/>
<path stroke="#8637be" d="M1274.3 129.9h0M1260.5 125.5h0M1272.4 127.1h0"/>
<path stroke="#942cb4" d="M1274.3 123.4h0M1275.7 116.8h0M1272.4 129.0h0M1211.4 123.2h0M1262.1 121.6h0M1256.9 131.2h0M1277.3 131.0h0M1277.3 123.5h0M1258.7 119.9h0"/>
<path stroke="#b024a2" d="M1247.0 121.5h0M1225.0 122.8h0M1265.6 127.6h0M1251.9 123.5h0"/>
<path stroke="#ca268c" d="M1227.8 122.8h0"/>
<path stroke="#de2a74" d="M1238.4 125.0h0M1255.1 119.7h0M1262.1 130.0h0M1218.1 123.8h0M1260.5 128.6h0"/>
<path stroke="#7842c8" d="M1279.2 127.3h0M1279.2 129.5h0M1258.7 121.8h0M1264.0 120.0h0M1258.7 127.4h0"/>
<path stroke="#694cd0" d="M1286.1 121.6h0M1280.6 130.0h0M1292.5 121.7h0M1231.4 123.8h0M1269.0 119.2h0M1216.5 123.7h0M1287.3 118.9h0M1284.0 132.7h0M1289.2 119.9h0M1277.3 117.7h0M1260.5 127.2h0"/>
<path stroke="#d42880" d="M1258.7 116.0h0M1253.3 125.3h0M1233.5 124.4h0M1243.7 121.7h0M1256.9 127.3h0M1236.7 122.3h0"/>
<path stroke="#367ff1" d="M1355.6 123.6h0M1316.5 117.5h0M1304.6 123.7h0M1321.3 125.5h0M1316.5 129.4h0M1323.5 119.4h0M1336.9 123.5h0M1309.4 121.4h0M1333.6 123.8h0M1340.4 127.1h0M1333.6 125.7h0M1336.9 129.7h0M1321.3 123.6h0M1335.3 117.1h0M1299.5 122.3h0M1333.6 117.0h0M1331.7 125.1h0M1301.4 123.6h0M1319.8 118.2h0M1304.6 122.1h0M1365.8 121.9h0M1333.6 127.7h0M1321.3 130.5h0M1330.4 118.1h0M1341.8 124.9h0M1350.6 123.6h0M1326.4 123.2h0M1311.2 128.6h0M1308.0 128.3h0M1304.6 125.9h0M1333.6 119.0h0M1321.3 121.5h0M1335.3 123.7h0M1333.6 121.5h0M1280.6 128.0h0M1330.4 123.4h0"/>
<path stroke="#408cf4" d="M1374.6 122.0h0M1321.3 118.0h0M1312.8 123.3h0M1345.5 125.3h0M1345.5 122.0h0M1312.8 121.7h0M1286.1 125.7h0M1311.2 123.8h0M1348.8 121.3h0M1341.8 119.0h0M1351.9 123.3h0M1350.6 125.9h0M1365.8 125.2h0M1382.5 122.6h0M1316.5 119.5h0M1328.4 118.2h0M1350.6 121.0h0M1353.8 123.6h0M1319.8 125.4h0M1321.3 126.8h0M1319.8 120.1h0M1379.2 122.3h0M1343.9 123.2h0M1333.6 130.0h0M1379.2 124.7h0M1318.5 120.2h0M1387.7 123.3h0M1297.6 124.5h0M1343.9 119.5h0M1415.1 123.7h0M1323.5 129.3h0M1386.2 122.6h0M1389.8 122.6h0M1355.6 125.3h0M1396.4 123.5h0M1353.8 122.4h0M1355.6 121.7h0M1306.4 119.8h0M1387.7 122.6h0M1372.4 124.8h0M1369.3 123.5h0M1323.5 127.5h0M1386.2 124.4h0M1353.8 121.2h0M1348.8 123.3h0M1328.4 121.6h0M1391.0 122.7h0M1330.4 129.0h0M1328.4 123.6h0M1384.8 122.6h0M1330.4 125.3h0M1370.9 124.7h0M1379.2 123.6h0M1311.2 125.5h0M1324.8 119.8h0M1367.2 121.9h0M1372.4 122.2h0M1398.4 124.1h0M1391.0 123.5h0"/>
<path stroke="#316bea" d="M1294.6 125.5h0M1272.4 121.5h0M1264.0 122.0h0M1287.3 127.7h0M1269.0 125.6h0M1297.6 122.6h0M1279.2 117.6h0"/>
<path stroke="#485ddf" d="M1279.2 125.3h0M1286.1 127.9h0M1277.3 116.1h0M1282.8 123.5h0M1287.3 121.1h0"/>
<path stroke="#ea2d60" d="M1251.9 119.9h0M1226.4 122.7h0M1230.0 124.4h0M1258.7 125.5h0M1247.0 127.4h0"/>
<path stroke="#bd2597" d="M1242.0 126.0h0M1255.1 116.5h0M1256.9 121.7h0M1234.9 122.7h0M1226.4 124.3h0M1279.2 133.3h0M1279.2 113.7h0M1250.3 123.6h0"/>
<path stroke="#ec2e59" d="M1223.3 124.1h0M1250.3 122.0h0"/>
<path stroke="#5a56d8" d="M1286.1 115.0h0M1282.8 113.2h0M1279.2 131.5h0M1292.5 123.3h0M1282.8 125.3h0M1279.2 115.4h0M1292.5 125.4h0M1284.0 130.5h0"/>
<path stroke="#367ff1" d="M1331.7 118.0h0M1311.2 127.1h0M1331.7 127.4h0M1338.5 121.8h0M1328.4 128.8h0M1304.6 124.6h0M1340.4 124.9h0M1347.3 126.1h0M1340.4 120.3h0M1318.5 128.9h0M1264.0 118.0h0M1316.5 125.3h0M1336.9 121.4h0M1318.5 116.6h0M1314.9 121.7h0M1341.8 128.1h0M1312.8 126.8h0M1326.4 117.4h0M1312.8 118.6h0M1308.0 125.1h0M1353.8 124.9h0M1347.3 122.0h0M1338.5 119.8h0M1330.4 127.2h0M1324.8 125.3h0"/>
<path stroke="#3664e6" d="M1290.8 125.3h0M1275.7 121.2h0M1289.2 128.7h0"/>
<path stroke="#694cd0" d="M1282.8 121.3h0M1272.4 125.6h0M1279.2 119.5h0M1282.8 127.7h0M1279.2 123.6h0M1282.8 119.4h0M1282.8 135.4h0M1286.1 130.1h0M1286.1 123.8h0M1265.6 125.4h0M1284.0 123.8h0"/>
<path stroke="#7842c8" d="M1282.8 131.2h0M1262.1 123.3h0M1267.4 127.3h0M1227.8 123.4h0"/>
<path stroke="#de2a74" d="M1236.7 124.7h0M1256.9 119.4h0M1231.4 122.5h0M1233.5 122.7h0M1258.7 129.5h0"/>
<path stroke="#b024a2" d="M1230.0 123.3h0M1277.3 121.5h0M1243.7 125.3h0M1269.0 123.7h0M1258.7 131.0h0M1245.0 125.0h0M1207.8 123.8h0"/>
<path stroke="#ca268c" d="M1275.7 119.2h0M1260.5 118.2h0M1245.0 123.6h0M1264.0 125.3h0M1270.9 126.9h0M1243.7 126.6h0M1238.4 121.9h0"/>
<path stroke="#bd2597" d="M1255.1 130.5h0M1240.3 123.7h0M1213.1 123.3h0M1247.0 123.5h0M1255.1 118.1h0M1242.0 124.8h0M1264.0 127.1h0"/>
<path stroke="#2c72ee" d="M1299.5 124.7h0M1308.0 123.4h0M1309.4 118.0h0M1306.4 121.7h0"/>
<path stroke="#485ddf" d="M1267.4 123.5h0M1274.3 117.2h0M1289.2 122.0h0M1274.3 121.2h0M1282.8 129.3h0"/>
<path stroke="#a228ab" d="M1277.3 127.5h0M1255.1 123.3h0M1219.8 123.9h0M1274.3 119.5h0M1264.0 123.2h0M1270.9 121.9h0M1218.1 123.2h0M1250.3 118.6h0"/>
<path stroke="#942cb4" d="M1253.3 127.6h0M1226.4 123.5h0M1250.3 125.3h0M1267.4 125.6h0M1275.7 130.1h0M1270.9 125.3h0M1223.3 122.9h0"/>
<path stroke="#ea2d60" d="M1260.5 116.6h0"/>
<path stroke="#ec2e59" d="M1253.3 121.6h0M1255.1 125.3h0"/>
<path stroke="#e42c6a" d="M1245.0 126.8h0M1269.0 121.6h0M1248.4 119.3h0M1255.1 129.0h0"/>
<path stroke="#8637be" d="M1270.9 123.7h0M1280.6 119.4h0M1243.7 123.3h0M1234.9 124.4h0M1253.3 119.1h0M1260.5 121.8h0M1219.8 123.2h0"/>
<path stroke="#d42880" d="M1250.3 126.9h0M1248.4 123.5h0M1253.3 123.6h0M1209.1 123.7h0M1242.0 122.2h0"/>
<path stroke="#ee3052" d="M1238.4 123.6h0M1242.0 123.5h0M1245.0 120.1h0M1234.9 123.5h0M1230.0 122.6h0"/>
<path stroke="#316bea" d="M1284.0 118.9h0M1280.6 134.5h0M1265.6 121.4h0"/>
<path stroke="#408cf4" d="M1359.1 121.8h0M1336.9 125.6h0M1309.4 125.3h0M1331.7 123.4h0M1335.3 121.1h0M1323.5 121.7h0M1345.5 123.6h0M1403.4 123.7h0M1380.8 122.3h0M1319.8 116.7h0M1328.4 125.0h0M1319.8 128.5h0M1372.4 123.3h0M1309.4 128.9h0M1410.3 123.4h0M1351.9 125.7h0M1314.9 129.6h0M1401.6 123.0h0M1347.3 123.8h0M1324.8 121.7h0M1331.7 129.1h0M1357.5 121.9h0M1316.5 127.6h0M1326.4 127.6h0M1401.6 123.6h0M1326.4 121.6h0M1328.4 119.7h0M1408.5 123.4h0M1316.5 121.2h0M1318.5 127.3h0M1376.1 122.3h0M1341.8 121.8h0M1406.9 123.2h0M1374.6 123.3h0M1384.8 123.3h0M1308.0 122.1h0M1331.7 119.6h0M1318.5 118.1h0M1319.8 121.6h0M1404.7 123.1h0M1335.3 119.1h0M1360.8 121.8h0M1314.9 117.5h0M1340.4 121.9h0M1408.5 124.0h0M1387.7 124.5h0M1359.1 123.7h0M1370.9 123.4h0M1347.3 120.9h0M1324.8 127.5h0M1312.8 128.4h0M1330.4 121.5h0M1411.7 123.3h0M1362.6 123.4h0M1382.5 123.5h0M1323.5 123.7h0M1303.0 123.3h0M1318.5 125.2h0M1326.4 125.3h0M1376.1 123.3h0M1340.4 123.8h0M1382.5 124.4h0M1303.0 125.2h0M1386.2 123.7h0M1396.4 124.0h0M1404.7 123.4h0M1404.7 123.8h0M1391.0 124.3h0M1314.9 125.4h0M1350.6 121.9h0"/>
<path stroke="#408cf4" d="M1431.4 123.5h0M1441.6 123.5h0"/>
<path stroke="#694cd0" d="M1306.0 162.3h0M1314.8 164.2h0M1318.2 152.0h0M1310.0 156.8h0M1318.2 163.3h0"/>
<path stroke="#ca268c" d="M1263.7 154.8h0M1275.9 161.9h0M1250.2 160.6h0M1250.2 155.2h0M1253.4 156.8h0M1257.1 162.4h0M1258.8 151.6h0M1272.1 156.5h0"/>
<path stroke="#de2a74" d="M1229.5 158.0h0M1260.3 154.6h0M1241.8 155.2h0M1219.9 158.4h0M1214.5 158.6h0M1257.1 158.6h0M1252.0 158.6h0M1235.2 160.1h0M1265.5 161.9h0M1260.3 156.3h0M1241.8 158.4h0M1258.8 155.3h0M1241.8 157.1h0M1255.2 158.9h0"/>
<path stroke="#d42880" d="M1216.5 159.0h0M1248.8 155.4h0M1273.7 156.6h0M1229.5 158.5h0M1246.7 163.0h0M1239.9 158.5h0M1231.3 157.7h0M1265.5 157.0h0"/>
<path stroke="#2c72ee" d="M1345.3 160.8h0M1328.0 164.9h0M1332.1 168.8h0M1325.0 157.0h0M1340.1 164.2h0M1333.5 164.5h0M1356.9 157.4h0M1329.8 152.4h0M1329.8 156.8h0M1327.0 156.6h0M1335.0 156.4h0M1332.1 162.9h0"/>
<path stroke="#942cb4" d="M1252.0 164.4h0M1294.2 154.6h0M1306.0 164.5h0M1275.9 155.4h0M1303.1 157.0h0M1304.3 160.3h0M1301.4 166.4h0M1291.3 160.9h0"/>
<path stroke="#367ff1" d="M1338.7 160.7h0M1347.1 162.1h0M1329.8 167.5h0M1336.8 158.9h0M1323.0 154.8h0M1335.0 169.0h0"/>
<path stroke="#485ddf" d="M1335.0 160.7h0M1304.3 153.7h0M1362.1 159.0h0M1327.0 148.2h0M1325.0 164.2h0M1319.8 158.9h0M1323.0 148.7h0M1314.8 154.8h0M1310.0 164.4h0M1316.3 162.9h0M1292.7 162.3h0M1362.1 158.4h0M1360.4 158.5h0"/>
<path stroke="#ec2e59" d="M1239.9 160.4h0M1218.1 158.4h0M1216.5 158.2h0"/>
<path stroke="#7842c8" d="M1304.3 162.5h0M1311.6 155.1h0M1316.3 160.8h0M1323.0 164.5h0M1304.3 158.5h0M1308.1 162.5h0"/>
<path stroke="#e42c6a" d="M1245.2 162.7h0M1218.1 158.9h0M1255.2 162.8h0"/>
<path stroke="#ee3052" d="M1252.0 157.0h0M1238.5 157.5h0"/>
<path stroke="#408cf4" d="M1358.7 159.6h0M1340.1 151.3h0M1348.8 161.5h0M1332.1 154.9h0M1332.1 150.4h0M1327.0 162.7h0M1345.3 158.9h0M1345.3 154.3h0M1333.5 163.0h0M1360.4 158.2h0M1358.7 158.4h0M1362.1 159.0h0M1347.1 160.5h0M1336.8 156.8h0M1336.8 164.5h0M1329.8 160.7h0M1335.0 158.8h0"/>
<path stroke="#a228ab" d="M1303.1 151.5h0M1268.6 162.9h0M1297.8 163.0h0M1292.7 155.1h0M1250.2 162.1h0M1260.3 158.8h0M1296.3 158.5h0M1277.5 155.3h0M1268.6 156.6h0M1294.2 156.9h0M1275.9 156.9h0"/>
<path stroke="#316bea" d="M1328.0 154.3h0M1333.5 150.7h0M1348.8 158.6h0M1341.9 152.5h0M1333.5 168.7h0M1304.3 163.8h0M1327.0 158.9h0M1336.8 151.3h0"/>
<path stroke="#8637be" d="M1311.6 160.4h0M1270.8 156.6h0M1287.8 156.8h0M1283.9 162.4h0M1311.6 158.6h0M1279.1 158.4h0M1364.1 158.6h0M1308.1 160.5h0"/>
<path stroke="#5a56d8" d="M1344.0 160.3h0M1318.2 154.3h0M1350.7 156.2h0M1310.0 154.9h0M1325.0 168.1h0M1313.1 164.1h0M1347.1 157.1h0M1308.1 153.3h0"/>
<path stroke="#b024a2" d="M1297.8 156.6h0M1268.6 154.6h0M1291.3 154.5h0M1294.2 158.8h0M1270.8 161.0h0M1250.2 158.8h0M1267.3 154.0h0M1291.3 158.7h0M1260.3 163.0h0M1279.1 155.9h0"/>
<path stroke="#3664e6" d="M1332.1 152.7h0M1333.5 166.6h0M1355.3 158.9h0M1310.0 160.8h0M1344.0 158.6h0M1328.0 148.1h0M1344.0 164.2h0M1319.8 160.5h0M1329.8 165.0h0M1321.3 163.2h0M1325.0 166.3h0M1310.0 152.9h0M1311.6 164.1h0"/>
<path stroke="#ea2d60" d="M1222.7 158.2h0M1239.9 161.5h0M1224.8 159.4h0M1241.8 162.4h0M1253.4 164.8h0"/>
<path stroke="#bd2597" d="M1280.7 159.9h0M1261.8 152.6h0M1292.7 158.6h0M1285.6 162.7h0M1243.2 160.5h0M1289.0 160.4h0M1299.8 162.4h0M1257.1 153.1h0M1280.7 158.6h0M1258.8 163.8h0M1289.0 154.9h0M1261.8 159.0h0M1270.8 158.7h0"/>
<path stroke="#7842c8" d="M1301.4 150.9h0M1303.1 165.9h0M1350.7 157.3h0"/>
<path stroke="#485ddf" d="M1321.3 165.2h0M1333.5 158.4h0M1314.8 153.3h0M1311.6 162.5h0M1316.3 155.0h0M1323.0 162.9h0M1316.3 158.9h0M1319.8 162.5h0"/>
<path stroke="#a228ab" d="M1289.0 158.8h0M1301.4 153.0h0M1267.3 155.6h0M1304.3 155.1h0M1252.0 151.4h0M1296.3 162.6h0M1261.8 154.5h0"/>
<path stroke="#ca268c" d="M1282.5 157.1h0M1279.1 157.3h0M1272.1 159.0h0M1250.2 164.1h0M1267.3 163.5h0M1255.2 154.3h0M1236.4 158.6h0M1255.2 152.4h0M1252.0 153.2h0M1258.8 153.2h0"/>
<path stroke="#694cd0" d="M1313.1 156.9h0M1314.8 156.9h0M1313.1 155.4h0M1296.3 164.2h0M1303.1 162.6h0M1303.1 153.3h0M1306.0 154.5h0"/>
<path stroke="#316bea" d="M1353.8 158.7h0M1332.1 160.7h0M1364.1 158.3h0M1338.7 165.0h0M1328.0 169.2h0M1328.0 150.0h0M1332.1 158.9h0M1329.8 149.9h0M1319.8 153.1h0"/>
<path stroke="#b024a2" d="M1291.3 156.5h0M1270.8 162.8h0M1261.8 164.8h0M1257.1 160.7h0M1280.7 161.6h0M1283.9 155.1h0M1277.5 162.1h0M1279.1 160.2h0M1280.7 157.4h0M1250.2 156.6h0M1287.8 162.5h0"/>
<path stroke="#8637be" d="M1283.9 158.9h0M1308.1 164.1h0M1299.8 157.2h0"/>
<path stroke="#ee3052" d="M1218.1 159.1h0M1226.7 157.7h0M1221.3 159.2h0"/>
<path stroke="#3664e6" d="M1340.1 162.1h0M1336.8 166.0h0M1296.3 160.4h0M1336.8 152.8h0M1325.0 149.3h0M1327.0 154.2h0M1304.3 157.0h0M1341.9 160.5h0M1321.3 149.9h0"/>
<path stroke="#942cb4" d="M1299.8 164.0h0M1296.3 153.2h0M1321.3 154.2h0M1258.8 159.0h0M1304.3 165.6h0M1294.2 160.9h0M1297.8 158.6h0M1306.0 152.9h0M1299.8 155.3h0M1260.3 152.4h0"/>
<path stroke="#de2a74" d="M1265.5 160.4h0M1253.4 154.7h0M1263.7 157.0h0M1226.7 159.7h0M1263.7 158.9h0M1246.7 154.3h0"/>
<path stroke="#367ff1" d="M1335.0 165.2h0M1338.7 152.6h0M1350.7 161.2h0M1329.8 154.2h0M1323.0 152.6h0M1332.1 156.8h0M1338.7 154.9h0M1327.0 165.3h0M1333.5 160.5h0M1319.8 150.9h0"/>
<path stroke="#bd2597" d="M1235.2 157.2h0M1301.4 157.0h0M1297.8 160.6h0M1260.3 164.9h0M1252.0 155.3h0M1289.0 162.6h0M1253.4 166.6h0M1263.7 160.7h0M1299.8 151.8h0M1265.5 163.8h0M1285.6 160.9h0M1232.8 159.7h0M1267.3 156.8h0"/>
<path stroke="#408cf4" d="M1323.0 160.6h0M1328.0 152.1h0M1321.3 158.8h0M1356.9 160.0h0M1332.1 166.6h0M1325.0 158.6h0M1340.1 159.0h0M1352.2 158.7h0M1328.0 161.1h0M1333.5 148.7h0M1328.0 156.7h0M1352.2 161.1h0M1341.9 158.5h0M1355.3 160.5h0M1338.7 158.6h0M1338.7 156.5h0M1344.0 162.5h0"/>
<path stroke="#ec2e59" d="M1219.9 159.0h0M1216.5 159.1h0M1221.3 158.5h0M1257.1 151.4h0M1221.3 158.1h0"/>
<path stroke="#e42c6a" d="M1222.7 159.3h0M1238.5 161.0h0M1263.7 162.1h0M1246.7 161.2h0M1255.2 150.3h0M1229.5 159.5h0M1268.6 158.7h0M1261.8 160.6h0M1277.5 157.1h0"/>
<path stroke="#ea2d60" d="M1243.2 156.8h0M1255.2 167.2h0M1224.8 158.4h0M1257.1 164.4h0M1238.5 156.3h0M1231.3 158.5h0M1245.2 158.8h0M1253.4 160.9h0M1246.7 156.3h0"/>
<path stroke="#5a56d8" d="M1308.1 156.9h0M1341.9 164.8h0M1319.8 154.9h0M1319.8 164.8h0M1308.1 155.0h0M1299.8 160.4h0M1325.0 153.2h0M1311.6 156.7h0M1329.8 158.5h0"/>
<path stroke="#2c72ee" d="M1336.8 168.0h0M1318.2 161.2h0M1338.7 162.7h0M1327.0 150.3h0M1327.0 169.3h0M1340.1 156.6h0M1308.1 159.0h0M1335.0 150.2h0M1358.7 157.8h0M1345.3 163.1h0M1329.8 147.9h0M1323.0 166.5h0M1329.8 169.5h0M1340.1 153.1h0M1335.0 148.4h0M1335.0 154.3h0"/>
<path stroke="#d42880" d="M1258.8 162.0h0M1258.8 156.7h0M1252.0 162.5h0M1257.1 154.9h0M1224.8 158.1h0M1228.4 159.5h0M1265.5 153.7h0M1267.3 158.7h0"/>
<path stroke="#485ddf" d="M1318.2 156.7h0M1325.0 154.7h0M1336.8 149.4h0M1327.0 160.7h0M1316.3 156.5h0M1352.2 159.7h0M1336.8 154.8h0M1313.1 153.4h0M1306.0 156.5h0M1323.0 168.7h0M1314.8 162.2h0"/>
<path stroke="#942cb4" d="M1313.1 162.5h0M1272.1 162.8h0M1291.3 163.0h0M1263.7 164.0h0M1282.5 161.5h0M1299.8 153.1h0M1301.4 160.6h0M1292.7 160.3h0M1282.5 155.8h0M1285.6 158.9h0"/>
<path stroke="#ec2e59" d="M1222.7 158.8h0"/>
<path stroke="#694cd0" d="M1303.1 155.3h0M1316.3 164.5h0M1344.0 155.0h0M1319.8 157.0h0M1301.4 154.6h0M1303.1 158.8h0M1306.0 158.9h0"/>
<path stroke="#ca268c" d="M1239.9 157.6h0M1248.8 158.8h0M1287.8 154.8h0M1257.1 156.6h0M1243.2 155.3h0M1297.8 164.7h0M1273.7 162.3h0M1245.2 154.6h0M1260.3 160.7h0"/>
<path stroke="#367ff1" d="M1347.1 158.9h0M1332.1 148.6h0M1328.0 167.4h0M1321.3 160.6h0M1352.2 156.3h0M1350.7 160.2h0M1344.0 153.4h0M1340.1 154.7h0M1360.4 159.2h0"/>
<path stroke="#5a56d8" d="M1310.0 159.0h0M1318.2 165.3h0M1327.0 152.2h0M1311.6 153.2h0M1313.1 158.5h0M1301.4 162.8h0M1303.1 160.6h0"/>
<path stroke="#b024a2" d="M1297.8 154.9h0M1258.8 165.8h0M1265.5 155.2h0M1273.7 158.8h0M1285.6 154.7h0M1314.8 159.0h0M1289.0 157.0h0M1267.3 160.3h0"/>
<path stroke="#de2a74" d="M1232.8 158.4h0M1239.9 155.9h0M1243.2 158.9h0M1282.5 158.5h0M1287.8 160.9h0M1255.2 156.7h0M1248.8 157.3h0M1261.8 156.4h0"/>
<path stroke="#408cf4" d="M1332.1 164.7h0M1328.0 158.9h0M1319.8 166.5h0M1327.0 167.2h0M1345.3 156.7h0M1335.0 162.8h0M1335.0 166.7h0M1333.5 154.5h0M1341.9 154.2h0M1356.9 158.6h0M1353.8 160.5h0M1347.1 155.3h0"/>
<path stroke="#3664e6" d="M1350.7 159.0h0M1316.3 152.9h0M1325.0 160.5h0M1310.0 162.4h0M1353.8 156.8h0M1301.4 164.8h0M1333.5 152.8h0M1329.8 162.8h0M1323.0 158.9h0"/>
<path stroke="#e42c6a" d="M1236.4 157.2h0M1258.8 160.3h0M1257.1 166.1h0M1253.4 152.9h0M1253.4 158.8h0M1228.4 158.6h0M1228.4 157.8h0M1273.7 160.6h0"/>
<path stroke="#ea2d60" d="M1243.2 162.1h0M1238.5 158.7h0M1226.7 158.5h0M1232.8 157.7h0M1231.3 159.8h0M1248.8 160.5h0M1235.2 158.9h0M1250.2 153.3h0M1219.9 159.0h0"/>
<path stroke="#d42880" d="M1245.2 156.9h0M1252.0 166.0h0M1275.9 158.7h0M1253.4 162.6h0M1246.7 158.5h0M1255.2 160.6h0M1248.8 153.7h0M1277.5 160.4h0M1248.8 163.6h0"/>
<path stroke="#a228ab" d="M1297.8 152.7h0M1255.2 165.3h0M1272.1 160.9h0M1273.7 155.0h0M1299.8 159.0h0M1285.6 156.9h0M1282.5 160.3h0M1238.5 160.1h0M1275.9 160.5h0M1252.0 160.6h0M1280.7 155.9h0"/>
<path stroke="#8637be" d="M1296.3 157.1h0M1265.5 158.4h0M1263.7 153.4h0M1301.4 158.4h0M1292.7 156.9h0M1279.1 161.4h0M1268.6 160.9h0M1283.9 160.4h0"/>
<path stroke="#bd2597" d="M1277.5 158.9h0M1294.2 162.7h0M1272.1 154.5h0M1253.4 150.8h0M1270.8 154.5h0M1283.9 156.7h0M1261.8 162.6h0"/>
<path stroke="#316bea" d="M1325.0 151.3h0M1344.0 157.0h0M1341.9 156.3h0M1335.0 152.5h0M1338.7 166.7h0M1352.2 157.3h0M1338.7 150.6h0M1348.8 155.8h0M1348.8 157.2h0M1325.0 162.5h0M1340.1 160.8h0M1341.9 163.0h0M1314.8 160.4h0M1318.2 158.4h0"/>
<path stroke="#ee3052" d="M1248.8 161.8h0M1236.4 160.2h0M1241.8 160.3h0M1245.2 160.6h0"/>
<path stroke="#7842c8" d="M1304.3 151.8h0M1306.0 160.4h0M1267.3 161.6h0M1299.8 165.7h0M1287.8 158.8h0M1296.3 154.8h0M1303.1 164.2h0M1313.1 160.5h0"/>
<path stroke="#2c72ee" d="M1321.3 167.6h0M1323.0 150.6h0M1336.8 160.3h0M1355.3 156.9h0M1321.3 151.9h0M1333.5 156.7h0M1336.8 162.2h0M1328.0 163.2h0M1364.1 159.1h0M1321.3 156.6h0M1340.1 166.0h0M1348.8 160.1h0M1323.0 156.5h0"/>
<path stroke="#ca268c" d="M1291.0 194.2h0M1292.8 193.7h0M1286.0 193.8h0M1255.3 194.6h0M1228.0 193.7h0M1279.3 193.7h0"/>
<path stroke="#de2a74" d="M1253.6 194.3h0M1275.9 193.7h0"/>
<path stroke="#b024a2" d="M1295.8 194.1h0M1253.6 193.5h0"/>
<path stroke="#a228ab" d="M1270.6 194.3h0M1261.7 194.1h0"/>
<path stroke="#8637be" d="M1243.1 193.6h0"/>
<path stroke="#ee3052" d="M1251.7 194.0h0M1265.6 194.0h0M1260.1 193.7h0"/>
<path stroke="#e42c6a" d="M1248.8 193.8h0"/>
<path stroke="#d42880" d="M1280.5 193.7h0M1294.4 193.7h0"/>
<path stroke="#ec2e59" d="M1259.0 193.6h0"/>
<path stroke="#ea2d60" d="M1273.9 194.0h0M1253.6 194.0h0"/>
<path stroke="#bd2597" d="M1272.4 193.5h0M1265.6 195.0h0M1267.4 193.2h0"/>
<path stroke="#a228ab" d="M1226.4 193.6h0"/>
<path stroke="#bd2597" d="M1273.9 194.3h0M1246.9 193.9h0M1233.1 194.0h0"/>
<path stroke="#ee3052" d="M1297.5 194.1h0M1256.7 193.8h0M1234.6 193.8h0"/>
<path stroke="#7842c8" d="M1259.0 195.8h0"/>
<path stroke="#ea2d60" d="M1240.2 194.0h0M1272.4 193.9h0M1270.6 194.0h0M1260.1 195.8h0"/>
<path stroke="#ec2e59" d="M1270.6 193.4h0M1236.4 194.0h0M1268.7 193.5h0M1251.7 193.5h0"/>
<path stroke="#d42880" d="M1251.7 194.4h0M1229.6 194.1h0"/>
<path stroke="#b024a2" d="M1219.6 194.2h0M1261.7 191.7h0"/>
<path stroke="#de2a74" d="M1284.3 194.1h0"/>
<path stroke="#ca268c" d="M1221.6 194.0h0M1273.9 193.5h0M1268.7 194.1h0M1250.5 193.9h0"/>
<path stroke="#8637be" d="M1255.3 193.2h0"/>
<path stroke="#942cb4" d="M1277.2 194.0h0M1256.7 194.8h0"/>
<path stroke="#d42880" d="M1268.7 194.3h0M1260.1 192.0h0"/>
<path stroke="#de2a74" d="M1244.7 193.7h0M1265.6 192.7h0"/>
<path stroke="#ee3052" d="M1272.4 194.3h0M1287.3 193.9h0M1261.7 196.0h0M1238.0 193.9h0"/>
<path stroke="#bd2597" d="M1255.3 194.1h0"/>
<path stroke="#694cd0" d="M1267.4 194.0h0"/>
<path stroke="#b024a2" d="M1282.4 194.0h0M1223.0 193.7h0"/>
<path stroke="#ca268c" d="M1267.4 194.6h0M1224.5 194.0h0M1259.0 192.0h0M1241.5 193.8h0"/>
<path stroke="#e42c6a" d="M1256.7 193.0h0M1288.9 193.9h0M1263.6 195.5h0M1263.6 192.3h0"/>
<path stroke="#ec2e59" d="M1231.7 193.8h0M1263.6 193.6h0"/>
<path stroke="#408cf4" d="M1327.3 189.7h0M1330.4 192.8h0M1313.6 201.7h0M1323.7 194.1h0M1320.1 186.1h0M1315.3 189.5h0M1320.1 195.7h0M1315.3 195.7h0M1322.0 185.8h0M1328.5 195.6h0M1317.0 185.2h0M1320.1 193.7h0M1320.1 202.1h0M1322.0 202.1h0M1313.6 188.0h0M1318.5 183.9h0M1315.3 192.1h0M1315.3 183.5h0M1323.7 198.0h0M1320.1 203.8h0M1323.7 196.3h0M1313.6 189.9h0M1318.5 197.7h0M1318.5 191.8h0M1318.5 203.6h0M1323.7 191.7h0M1317.0 189.9h0M1320.1 190.1h0M1313.6 191.8h0M1318.5 185.9h0M1322.0 195.8h0M1318.5 194.2h0M1323.7 200.2h0M1315.3 185.7h0M1325.1 195.7h0M1318.5 200.0h0M1310.1 193.5h0M1317.0 196.1h0M1306.9 193.7h0M1315.3 206.3h0M1303.3 194.1h0M1315.3 204.6h0M1325.1 193.8h0M1328.5 194.0h0M1331.9 194.2h0M1327.3 198.1h0M1325.1 199.3h0M1322.0 194.0h0M1330.4 191.2h0M1318.5 196.0h0M1331.9 191.9h0M1312.1 195.5h0M1323.7 187.7h0M1333.7 192.7h0M1327.3 191.6h0M1310.1 193.6h0"/>
<path stroke="#408cf4" d="M1317.0 206.4h0M1325.1 188.6h0M1320.1 200.1h0M1317.0 198.4h0M1320.1 197.6h0M1308.2 193.6h0M1310.1 194.3h0M1330.4 195.3h0M1322.0 197.9h0M1318.5 188.0h0M1333.7 195.2h0M1325.1 192.4h0M1313.6 197.6h0M1320.1 191.7h0M1313.6 200.0h0M1317.0 200.2h0M1312.1 193.9h0M1320.1 184.1h0M1317.0 202.4h0M1331.9 195.9h0M1317.0 187.3h0M1315.3 187.8h0M1328.5 197.1h0M1315.3 193.7h0M1315.3 198.2h0M1317.0 193.7h0M1318.5 189.7h0M1312.1 192.3h0M1330.4 196.5h0M1327.3 193.9h0M1315.3 202.3h0M1325.1 197.5h0M1328.5 190.6h0M1317.0 181.4h0M1318.5 201.6h0M1322.0 187.9h0M1325.1 190.3h0M1323.7 189.9h0M1333.7 193.7h0M1317.0 204.2h0M1328.5 192.3h0M1330.4 194.1h0M1317.0 183.6h0M1313.6 194.0h0M1322.0 189.6h0M1304.8 193.9h0M1313.6 196.1h0M1320.1 188.1h0M1318.5 205.6h0M1317.0 191.6h0M1327.3 196.3h0M1322.0 191.6h0M1313.6 186.0h0M1315.3 181.5h0M1315.3 200.0h0M1318.5 182.3h0M1322.0 200.2h0"/>
<path stroke="#b024a2" d="M1325.4 228.0h0"/>
<path stroke="#ec2e59" d="M1348.0 228.8h0M1337.7 229.1h0M1419.1 228.9h0M1427.6 229.1h0M1332.5 228.7h0M1393.8 229.4h0M1334.2 228.7h0M1376.4 229.3h0M1412.6 228.8h0M1329.2 229.7h0M1366.1 228.9h0M1459.8 229.1h0"/>
<path stroke="#5a56d8" d="M1274.8 235.8h0M1281.2 237.2h0M1273.0 231.2h0M1281.2 233.3h0M1268.1 224.5h0"/>
<path stroke="#694cd0" d="M1305.3 227.7h0M1269.9 223.4h0M1291.5 229.2h0M1274.8 224.6h0M1274.8 231.6h0"/>
<path stroke="#3664e6" d="M1266.4 229.3h0M1262.6 231.2h0M1279.6 231.1h0M1273.0 227.0h0M1281.2 221.1h0M1269.9 225.3h0M1274.8 222.3h0"/>
<path stroke="#408cf4" d="M1281.2 225.1h0M1273.0 229.1h0M1273.0 224.9h0M1271.5 222.7h0M1262.6 224.9h0M1274.8 229.4h0M1273.0 223.2h0M1271.5 225.1h0M1268.1 231.3h0M1291.5 227.3h0M1269.9 221.7h0M1259.0 229.0h0"/>
<path stroke="#942cb4" d="M1279.6 235.0h0M1320.2 226.5h0M1298.2 229.8h0M1311.7 232.9h0M1316.8 225.6h0"/>
<path stroke="#8637be" d="M1306.7 227.3h0M1308.8 228.9h0"/>
<path stroke="#bd2597" d="M1313.7 223.1h0M1310.6 231.3h0M1318.7 228.8h0"/>
<path stroke="#367ff1" d="M1296.7 228.9h0M1286.4 225.9h0M1264.1 230.8h0M1285.1 231.0h0M1278.2 231.3h0M1296.7 228.6h0M1290.3 229.1h0"/>
<path stroke="#ee3052" d="M1468.3 229.1h0M1504.0 228.8h0M1482.2 229.0h0M1549.0 228.9h0M1550.5 229.1h0M1444.4 229.1h0M1448.3 229.2h0M1512.4 228.9h0M1516.0 228.9h0M1519.6 228.9h0M1492.0 229.1h0M1475.2 229.4h0M1453.1 229.1h0M1414.1 229.3h0M1477.1 229.1h0M1371.4 229.3h0M1497.1 229.3h0M1443.3 229.3h0M1483.8 228.8h0M1388.6 228.9h0M1509.5 228.8h0M1502.5 229.2h0M1486.9 228.9h0M1408.7 229.0h0M1458.5 229.1h0M1499.4 228.9h0"/>
<path stroke="#7842c8" d="M1322.2 231.1h0M1305.3 229.0h0M1278.2 239.6h0M1325.4 230.2h0M1271.5 229.3h0M1301.8 230.7h0"/>
<path stroke="#316bea" d="M1262.6 228.9h0M1271.5 239.4h0M1269.9 229.4h0M1268.1 226.8h0"/>
<path stroke="#485ddf" d="M1306.7 231.1h0M1268.1 235.7h0M1301.8 226.5h0M1305.3 230.9h0M1273.0 233.4h0M1268.1 222.4h0M1282.9 228.9h0"/>
<path stroke="#d42880" d="M1334.2 229.4h0M1315.5 229.3h0M1325.4 229.1h0M1311.7 235.0h0M1316.8 231.1h0"/>
<path stroke="#ea2d60" d="M1338.9 229.4h0M1324.1 227.8h0M1327.5 228.2h0"/>
<path stroke="#2c72ee" d="M1276.5 229.2h0M1279.6 232.7h0M1269.9 234.8h0M1273.0 239.3h0M1281.2 231.3h0M1282.9 231.4h0M1278.2 233.0h0M1274.8 233.6h0M1276.5 227.0h0M1259.0 231.1h0"/>
<path stroke="#a228ab" d="M1274.8 219.9h0M1264.1 229.2h0M1308.8 222.3h0M1301.8 227.7h0M1310.6 233.3h0"/>
<path stroke="#e42c6a" d="M1308.8 232.4h0M1330.8 229.1h0M1336.0 229.5h0M1338.9 229.3h0"/>
<path stroke="#de2a74" d="M1330.8 228.8h0M1320.2 230.6h0M1337.7 228.7h0M1320.2 227.8h0"/>
<path stroke="#ca268c" d="M1303.7 233.1h0M1306.7 222.8h0M1311.7 227.3h0"/>
<path stroke="#8637be" d="M1311.7 221.7h0M1301.8 228.9h0M1308.8 227.6h0M1276.5 220.3h0M1278.2 229.0h0M1310.6 229.2h0M1313.7 235.0h0"/>
<path stroke="#3664e6" d="M1260.7 229.2h0M1276.5 233.7h0M1276.5 238.0h0M1276.5 224.4h0M1285.1 233.2h0M1271.5 218.7h0M1281.2 223.3h0M1288.4 226.7h0"/>
<path stroke="#367ff1" d="M1288.4 228.9h0M1282.9 222.7h0M1281.2 229.0h0M1257.6 230.4h0"/>
<path stroke="#694cd0" d="M1322.2 229.0h0M1279.6 225.3h0M1279.6 221.6h0M1310.6 235.1h0M1271.5 226.9h0M1306.7 228.9h0"/>
<path stroke="#bd2597" d="M1320.2 231.7h0M1330.8 229.5h0M1316.8 227.2h0"/>
<path stroke="#ee3052" d="M1361.0 229.1h0M1417.6 228.8h0M1470.1 228.8h0M1397.3 229.1h0M1429.5 229.3h0M1348.0 229.2h0M1356.1 229.1h0M1505.7 229.0h0M1455.0 228.8h0M1422.7 229.1h0M1378.2 229.1h0M1543.7 229.1h0M1489.0 229.0h0M1410.9 229.2h0M1354.7 229.0h0M1405.8 229.1h0M1471.5 229.4h0M1545.7 229.0h0M1524.8 229.1h0M1510.7 229.1h0M1415.8 229.1h0M1456.5 229.0h0M1395.6 229.1h0M1403.5 228.8h0M1327.5 230.0h0M1463.2 229.0h0M1449.6 228.9h0M1522.5 229.2h0M1480.4 229.1h0M1425.7 229.0h0M1465.3 229.2h0"/>
<path stroke="#316bea" d="M1308.8 234.3h0M1273.0 241.1h0M1279.6 238.7h0M1279.6 219.5h0M1276.5 217.8h0M1271.5 220.7h0M1279.6 223.1h0M1295.1 228.9h0M1260.7 232.0h0"/>
<path stroke="#de2a74" d="M1311.7 231.1h0"/>
<path stroke="#e42c6a" d="M1318.7 227.5h0M1324.1 229.0h0M1316.8 228.8h0"/>
<path stroke="#408cf4" d="M1282.9 235.5h0M1278.2 220.7h0M1264.1 224.0h0M1293.1 230.5h0M1266.4 225.1h0M1257.6 229.2h0M1269.9 230.7h0M1271.5 233.2h0M1290.3 231.1h0M1290.3 227.0h0"/>
<path stroke="#7842c8" d="M1273.0 220.8h0M1266.4 227.3h0M1300.2 229.2h0M1285.1 224.9h0M1308.8 230.9h0M1278.2 218.7h0M1303.7 225.1h0"/>
<path stroke="#485ddf" d="M1264.1 225.5h0M1264.1 227.3h0M1274.8 238.1h0M1264.1 232.6h0"/>
<path stroke="#a228ab" d="M1310.6 224.9h0"/>
<path stroke="#5a56d8" d="M1264.1 234.2h0M1308.8 224.1h0M1269.9 226.9h0M1260.7 226.1h0"/>
<path stroke="#ea2d60" d="M1344.3 228.7h0M1348.0 229.4h0M1351.1 229.2h0M1340.9 229.3h0M1349.6 228.9h0M1344.3 229.0h0M1336.0 229.1h0M1344.3 229.6h0"/>
<path stroke="#ec2e59" d="M1390.3 229.3h0M1342.6 228.7h0M1342.6 229.5h0M1381.6 229.3h0M1349.6 228.8h0M1346.3 228.8h0M1401.9 229.3h0M1340.9 228.8h0M1385.4 229.4h0M1367.9 229.0h0M1364.7 228.9h0M1342.6 229.1h0M1372.9 229.1h0"/>
<path stroke="#b024a2" d="M1329.2 229.3h0M1315.5 227.1h0"/>
<path stroke="#d42880" d="M1327.5 229.4h0M1310.6 226.9h0M1313.7 231.4h0"/>
<path stroke="#2c72ee" d="M1268.1 229.0h0M1281.2 235.5h0M1278.2 235.5h0M1274.8 217.9h0M1278.2 222.8h0M1286.4 229.2h0M1279.6 228.8h0M1296.7 229.7h0M1271.5 231.1h0M1291.5 230.9h0M1288.4 227.9h0"/>
<path stroke="#ca268c" d="M1318.7 225.6h0M1313.7 233.2h0"/>
<path stroke="#367ff1" d="M1266.4 234.7h0M1268.1 233.8h0M1260.7 227.6h0M1293.1 227.6h0M1282.9 233.3h0M1266.4 223.6h0M1273.0 237.1h0M1276.5 240.3h0M1281.2 227.1h0"/>
<path stroke="#5a56d8" d="M1282.9 227.1h0M1308.8 225.4h0M1306.7 233.5h0M1285.1 229.4h0"/>
<path stroke="#ca268c" d="M1298.2 229.0h0M1306.7 235.3h0M1324.1 230.4h0M1313.7 224.9h0M1313.7 228.9h0M1310.6 221.3h0M1310.6 236.9h0"/>
<path stroke="#2c72ee" d="M1276.5 222.2h0M1259.0 227.0h0M1257.6 227.8h0M1276.5 235.7h0M1295.1 228.2h0"/>
<path stroke="#b024a2" d="M1315.5 233.2h0M1303.7 229.1h0M1316.8 232.7h0M1318.7 230.6h0M1320.2 228.9h0M1301.8 231.6h0M1318.7 232.5h0M1278.2 225.1h0M1305.3 224.1h0"/>
<path stroke="#8637be" d="M1286.4 232.4h0M1315.5 225.1h0M1303.7 230.9h0M1311.7 225.5h0M1311.7 236.6h0"/>
<path stroke="#316bea" d="M1279.6 227.1h0M1273.0 235.3h0M1288.4 231.6h0M1305.3 226.0h0M1282.9 224.8h0M1266.4 233.1h0M1274.8 240.3h0M1273.0 217.1h0"/>
<path stroke="#485ddf" d="M1271.5 237.5h0M1305.3 234.0h0M1271.5 235.1h0"/>
<path stroke="#ea2d60" d="M1337.7 229.5h0M1338.9 228.7h0M1346.3 229.1h0M1340.9 229.5h0"/>
<path stroke="#408cf4" d="M1293.1 229.3h0M1286.4 227.6h0M1286.4 230.6h0M1269.9 238.3h0M1262.6 233.3h0M1288.4 230.5h0M1274.8 226.8h0M1273.0 219.0h0"/>
<path stroke="#d42880" d="M1313.7 227.1h0M1329.2 228.5h0"/>
<path stroke="#7842c8" d="M1315.5 230.9h0M1266.4 230.9h0M1305.3 232.2h0M1278.2 237.7h0M1262.6 227.3h0"/>
<path stroke="#ec2e59" d="M1438.1 229.0h0M1451.7 228.8h0M1346.3 229.5h0M1357.9 228.9h0M1434.2 229.1h0M1332.5 228.8h0M1359.9 229.4h0M1374.9 228.8h0"/>
<path stroke="#ee3052" d="M1399.0 229.0h0M1386.9 229.3h0M1420.9 228.8h0M1478.9 229.1h0M1424.6 229.3h0M1500.7 228.9h0M1430.8 229.2h0M1542.0 229.1h0M1435.8 229.4h0M1494.2 229.2h0M1461.5 229.4h0M1485.3 229.2h0M1392.0 229.3h0M1441.2 228.9h0M1521.4 228.9h0M1336.0 228.7h0M1540.2 228.9h0M1400.3 229.0h0M1538.4 229.1h0M1432.6 229.2h0M1526.5 229.3h0M1407.3 229.4h0M1514.5 229.3h0M1362.8 229.0h0M1507.6 229.3h0M1490.6 229.2h0M1332.5 229.5h0M1495.8 229.2h0M1439.2 229.2h0M1380.3 229.4h0M1473.8 229.0h0M1383.2 229.0h0M1446.3 229.4h0M1352.7 229.0h0M1466.8 229.0h0M1537.3 229.3h0M1369.6 229.0h0M1349.6 229.4h0M1517.9 229.0h0M1547.3 229.1h0"/>
<path stroke="#e42c6a" d="M1311.7 229.4h0"/>
<path stroke="#694cd0" d="M1276.5 231.2h0M1269.9 232.9h0M1310.6 223.2h0M1279.6 237.0h0"/>
<path stroke="#bd2597" d="M1334.2 229.4h0M1306.7 224.9h0M1300.2 230.4h0M1322.2 227.1h0"/>
<path stroke="#3664e6" d="M1285.1 226.9h0M1269.9 236.8h0M1295.1 230.1h0M1278.2 227.1h0M1260.7 230.7h0"/>
<path stroke="#a228ab" d="M1303.7 227.3h0"/>
<path stroke="#942cb4" d="M1269.9 219.9h0M1308.8 236.0h0M1311.7 223.2h0M1298.2 228.4h0M1300.2 227.7h0"/>
<path stroke="#408cf4" d="M1372.1 229.1h0"/>
<path stroke="#ee3052" d="M1559.8 229.1h0M1568.5 229.1h0"/>
<path stroke="#ea2d60" d="M1271.9 266.4h0M1268.7 276.6h0M1252.1 266.0h0M1271.9 260.4h0M1252.1 261.3h0M1268.7 260.0h0M1273.6 262.2h0M1280.7 265.8h0M1258.7 268.8h0M1255.2 259.4h0"/>
<path stroke="#ca268c" d="M1270.6 270.2h0M1282.5 264.3h0M1280.7 264.1h0M1258.7 264.3h0M1271.9 262.3h0M1240.3 263.7h0M1268.7 262.5h0"/>
<path stroke="#367ff1" d="M1313.3 265.8h0M1328.1 259.6h0M1330.2 260.1h0M1343.9 264.6h0M1325.2 258.5h0M1369.3 264.5h0M1340.4 262.3h0M1341.6 261.4h0M1330.2 264.5h0M1326.9 269.9h0M1335.4 262.3h0M1333.7 259.9h0M1316.2 272.0h0M1355.3 261.2h0M1335.4 258.2h0M1326.9 262.4h0M1330.2 266.3h0M1374.0 263.8h0M1347.2 264.6h0M1323.0 268.8h0"/>
<path stroke="#5a56d8" d="M1302.6 275.6h0M1301.0 254.5h0M1309.4 262.3h0M1314.4 258.2h0M1309.4 266.3h0M1299.6 266.5h0M1313.3 269.9h0M1307.8 266.2h0M1313.3 262.5h0"/>
<path stroke="#316bea" d="M1317.9 256.3h0M1316.2 266.5h0M1321.3 268.7h0"/>
<path stroke="#d42880" d="M1260.5 260.2h0M1264.0 253.0h0M1280.7 269.1h0M1243.5 264.6h0M1264.0 270.9h0M1231.8 264.8h0M1289.6 266.4h0M1295.7 256.2h0M1243.5 265.1h0"/>
<path stroke="#e42c6a" d="M1273.6 259.9h0M1265.3 264.2h0M1262.2 264.3h0M1271.9 271.8h0M1280.7 267.3h0M1265.3 255.8h0M1255.2 265.9h0M1262.2 259.0h0M1253.7 264.4h0M1240.3 264.9h0M1267.1 266.4h0M1264.0 269.0h0M1275.6 262.5h0M1267.1 276.6h0"/>
<path stroke="#de2a74" d="M1265.3 251.9h0M1270.6 266.1h0M1236.6 265.0h0M1224.6 264.2h0M1271.9 264.4h0M1282.5 266.0h0M1275.6 269.9h0M1270.6 260.3h0M1280.7 259.5h0M1262.2 255.1h0M1268.7 272.6h0M1255.2 261.0h0M1273.6 266.6h0M1260.5 262.1h0"/>
<path stroke="#ec2e59" d="M1273.6 270.4h0M1262.2 267.9h0M1262.2 266.0h0M1265.3 253.7h0M1253.7 262.1h0M1248.4 263.3h0M1237.9 264.5h0M1241.8 264.2h0M1277.4 262.2h0M1245.1 263.5h0M1260.5 270.4h0M1271.9 270.1h0M1226.6 264.6h0"/>
<path stroke="#bd2597" d="M1289.6 272.0h0M1268.7 266.1h0M1277.4 260.0h0"/>
<path stroke="#8637be" d="M1295.7 268.2h0M1285.6 266.1h0M1304.5 266.4h0M1304.5 273.8h0M1295.7 270.2h0M1299.6 274.7h0M1289.6 258.7h0M1297.5 257.7h0M1307.8 268.2h0"/>
<path stroke="#7842c8" d="M1295.7 252.1h0M1317.9 258.3h0M1307.8 264.1h0M1307.8 269.8h0M1297.5 259.9h0M1299.6 253.9h0M1302.6 259.7h0M1301.0 272.0h0M1284.4 260.3h0M1297.5 264.1h0M1304.5 275.8h0M1301.0 262.6h0M1285.6 268.0h0M1284.4 266.5h0"/>
<path stroke="#2c72ee" d="M1337.1 262.7h0M1323.0 255.9h0M1321.3 260.0h0M1359.1 264.4h0M1330.2 270.6h0M1321.3 266.4h0M1350.5 262.6h0M1326.9 266.2h0M1316.2 267.9h0M1321.3 258.0h0M1332.0 270.5h0M1319.6 264.4h0M1323.0 258.1h0"/>
<path stroke="#942cb4" d="M1295.7 266.2h0M1285.6 259.0h0M1306.3 272.5h0M1284.4 268.7h0M1287.8 264.5h0M1297.5 262.3h0M1294.0 275.7h0M1307.8 254.9h0"/>
<path stroke="#b024a2" d="M1292.5 255.2h0M1292.5 253.2h0"/>
<path stroke="#3664e6" d="M1316.2 256.7h0M1319.6 260.2h0M1311.6 271.9h0M1311.6 268.1h0M1306.3 274.4h0M1319.6 266.4h0M1314.4 266.5h0"/>
<path stroke="#ee3052" d="M1267.1 264.5h0M1245.1 264.5h0M1271.9 273.6h0M1262.2 269.8h0M1262.2 262.4h0M1252.1 264.3h0M1253.7 268.4h0"/>
<path stroke="#694cd0" d="M1302.6 262.1h0M1291.0 256.5h0M1309.4 255.1h0M1289.6 260.5h0M1307.8 262.6h0M1302.6 266.8h0"/>
<path stroke="#485ddf" d="M1295.7 276.4h0M1304.5 264.3h0M1311.6 266.5h0M1309.4 257.1h0M1314.4 264.4h0"/>
<path stroke="#a228ab" d="M1301.0 252.9h0M1297.5 253.6h0M1294.0 269.2h0"/>
<path stroke="#408cf4" d="M1375.6 264.8h0M1337.1 264.5h0M1333.7 266.5h0M1341.6 264.1h0M1350.5 264.2h0M1369.3 265.1h0M1359.1 265.3h0M1337.1 267.2h0M1352.1 262.5h0M1353.9 264.4h0M1367.2 264.5h0M1355.3 263.0h0M1341.6 262.8h0M1353.9 266.0h0M1350.5 260.9h0M1357.5 261.8h0M1328.1 268.7h0M1340.4 266.2h0M1347.2 260.8h0M1374.0 264.8h0M1352.1 264.3h0M1348.6 262.7h0M1326.9 260.7h0M1348.6 261.0h0M1357.5 265.4h0M1357.5 266.8h0M1353.9 267.2h0M1347.2 262.4h0"/>
<path stroke="#3664e6" d="M1309.4 260.9h0M1311.6 260.7h0M1323.0 266.4h0M1311.6 258.3h0M1306.3 262.3h0M1317.9 266.1h0M1316.2 258.4h0M1313.3 258.8h0M1309.4 271.5h0"/>
<path stroke="#de2a74" d="M1270.6 264.6h0M1260.5 266.5h0M1267.1 268.3h0M1232.9 263.9h0M1255.2 267.4h0M1277.4 258.3h0"/>
<path stroke="#942cb4" d="M1291.0 266.0h0M1285.6 264.5h0M1291.0 264.6h0M1299.6 272.5h0M1297.5 266.3h0M1302.6 269.0h0M1307.8 258.6h0"/>
<path stroke="#a228ab" d="M1289.6 273.7h0M1291.0 270.1h0M1299.6 264.4h0M1295.7 254.3h0M1289.6 262.5h0M1294.0 266.4h0M1284.4 264.2h0"/>
<path stroke="#7842c8" d="M1304.5 252.8h0M1291.0 260.3h0M1304.5 254.5h0M1304.5 272.0h0M1292.5 270.9h0M1311.6 264.4h0M1287.8 258.0h0M1297.5 275.0h0M1309.4 273.5h0M1295.7 264.0h0M1302.6 271.1h0"/>
<path stroke="#b024a2" d="M1297.5 272.6h0M1291.0 258.4h0M1289.6 268.1h0"/>
<path stroke="#ee3052" d="M1275.6 257.2h0M1273.6 268.5h0M1257.1 260.8h0M1264.0 255.3h0M1252.1 262.6h0M1270.6 268.4h0M1273.6 272.4h0M1257.1 262.2h0M1246.7 263.4h0M1231.8 263.8h0M1265.3 258.0h0M1268.7 274.7h0"/>
<path stroke="#8637be" d="M1285.6 260.9h0M1297.5 255.8h0M1284.4 258.0h0M1297.5 271.0h0M1301.0 264.5h0M1295.7 260.0h0M1306.3 270.5h0M1289.6 270.0h0M1295.7 272.6h0M1299.6 256.1h0M1307.8 256.7h0M1294.0 252.9h0M1301.0 260.3h0M1301.0 273.7h0"/>
<path stroke="#694cd0" d="M1299.6 270.3h0M1295.7 262.5h0M1299.6 268.7h0M1306.3 264.4h0"/>
<path stroke="#ea2d60" d="M1262.2 260.8h0M1258.7 270.6h0M1268.7 253.7h0M1265.3 268.7h0M1264.0 262.3h0M1265.3 270.4h0M1275.6 266.2h0M1270.6 274.1h0M1243.5 263.5h0M1268.7 264.4h0M1265.3 266.5h0"/>
<path stroke="#bd2597" d="M1295.7 257.9h0M1278.8 267.6h0M1245.1 265.1h0M1292.5 268.6h0M1278.8 264.1h0M1291.0 274.2h0M1264.0 264.6h0M1292.5 259.6h0M1287.8 272.3h0"/>
<path stroke="#485ddf" d="M1309.4 269.7h0M1291.0 262.1h0M1313.3 264.3h0M1313.3 267.9h0M1309.4 267.8h0"/>
<path stroke="#5a56d8" d="M1314.4 260.2h0M1314.4 272.5h0M1302.6 255.3h0M1307.8 273.8h0M1302.6 264.5h0M1304.5 260.4h0M1313.3 260.7h0"/>
<path stroke="#367ff1" d="M1338.8 267.6h0M1340.4 268.5h0M1326.9 256.7h0M1353.9 261.4h0M1367.2 265.5h0M1333.7 270.5h0M1360.7 262.3h0M1362.5 266.1h0M1330.2 258.0h0M1328.1 257.7h0M1335.4 268.7h0M1337.1 265.8h0M1341.6 266.0h0M1357.5 262.8h0M1343.9 268.5h0M1333.7 258.2h0M1340.4 264.1h0M1341.6 269.0h0M1332.0 260.2h0M1364.2 264.1h0M1332.0 264.5h0M1337.1 269.0h0M1330.2 268.3h0M1372.3 264.6h0"/>
<path stroke="#d42880" d="M1289.6 256.9h0M1282.5 262.5h0M1270.6 262.2h0M1277.4 266.6h0M1241.8 265.0h0M1287.8 262.1h0M1285.6 257.3h0M1267.1 274.7h0M1278.8 266.1h0M1264.0 257.2h0"/>
<path stroke="#2c72ee" d="M1323.0 272.7h0M1325.2 256.4h0M1321.3 270.7h0M1360.7 266.4h0M1316.2 264.3h0M1317.9 268.2h0M1350.5 267.6h0M1325.2 268.5h0M1338.8 266.1h0M1338.8 262.6h0M1325.2 262.6h0"/>
<path stroke="#ec2e59" d="M1258.7 260.0h0M1275.6 271.4h0M1277.4 264.5h0M1262.2 271.8h0M1273.6 264.6h0M1248.4 264.3h0M1240.3 264.4h0"/>
<path stroke="#316bea" d="M1319.6 262.4h0M1311.6 262.4h0M1362.5 264.4h0M1314.4 268.3h0M1317.9 272.3h0M1317.9 264.1h0M1319.6 270.6h0"/>
<path stroke="#e42c6a" d="M1268.7 268.6h0M1241.8 263.6h0M1230.0 263.8h0M1246.7 264.2h0M1260.5 268.5h0M1264.0 273.2h0M1278.8 260.5h0M1257.1 264.2h0M1264.0 266.5h0M1273.6 256.2h0M1253.7 260.2h0M1267.1 260.1h0"/>
<path stroke="#ca268c" d="M1292.5 264.4h0M1268.7 252.0h0M1262.2 273.5h0M1265.3 274.6h0M1277.4 268.4h0M1284.4 270.6h0"/>
<path stroke="#408cf4" d="M1335.4 260.0h0M1347.2 266.0h0M1359.1 262.0h0M1328.1 266.3h0M1352.1 261.2h0M1359.1 266.5h0M1326.9 264.3h0M1333.7 264.4h0M1326.9 258.8h0M1360.7 264.5h0M1326.9 271.8h0M1372.3 264.5h0M1326.9 268.4h0M1355.3 264.2h0M1359.1 262.9h0M1332.0 266.5h0M1352.1 265.6h0M1333.7 268.7h0M1365.8 265.6h0M1328.1 264.2h0M1370.6 264.5h0M1328.1 261.8h0"/>
<path stroke="#942cb4" d="M1301.0 270.2h0M1294.0 257.6h0M1292.5 275.4h0M1294.0 271.1h0M1299.6 262.4h0M1292.5 257.7h0M1304.5 256.4h0M1292.5 273.0h0"/>
<path stroke="#ca268c" d="M1270.6 256.5h0M1282.5 269.2h0M1270.6 254.6h0M1265.3 260.1h0"/>
<path stroke="#ee3052" d="M1230.0 264.7h0M1258.7 262.3h0M1232.9 264.7h0M1271.9 255.0h0M1250.3 264.4h0M1264.0 259.8h0M1232.9 264.1h0M1252.1 267.3h0M1267.1 270.8h0M1267.1 257.9h0M1268.7 258.2h0M1270.6 271.9h0M1267.1 262.4h0M1271.9 256.5h0M1260.5 258.6h0M1246.7 265.1h0M1267.1 251.9h0M1271.9 258.8h0"/>
<path stroke="#7842c8" d="M1304.5 270.3h0M1301.0 265.9h0M1307.8 271.8h0M1306.3 266.5h0M1291.0 254.3h0M1309.4 264.2h0M1307.8 260.3h0M1302.6 257.3h0M1302.6 253.1h0"/>
<path stroke="#e42c6a" d="M1248.4 265.3h0M1280.7 262.5h0M1273.6 258.2h0M1231.8 264.4h0M1237.9 263.6h0M1267.1 272.3h0M1260.5 272.1h0M1257.1 266.2h0M1271.9 268.2h0M1255.2 264.3h0M1268.7 255.9h0M1278.8 269.5h0M1268.7 270.7h0M1275.6 258.9h0"/>
<path stroke="#316bea" d="M1325.2 272.3h0M1323.0 260.3h0M1319.6 268.4h0M1338.8 268.9h0M1313.3 271.2h0M1325.2 266.5h0"/>
<path stroke="#bd2597" d="M1294.0 273.2h0M1278.8 262.3h0M1287.8 256.2h0M1282.5 267.7h0M1284.4 262.3h0M1275.6 261.0h0M1289.6 264.6h0"/>
<path stroke="#408cf4" d="M1362.5 262.5h0M1365.8 263.0h0M1365.8 264.2h0M1335.4 266.6h0M1347.2 267.8h0M1338.8 260.9h0M1348.6 264.3h0M1323.0 262.0h0M1352.1 267.4h0M1364.2 265.9h0M1348.6 267.5h0M1367.2 263.1h0M1323.0 264.3h0M1372.3 264.0h0M1316.2 262.6h0M1375.6 264.1h0M1374.0 264.4h0M1375.6 263.9h0M1332.0 268.4h0M1337.1 259.6h0M1343.9 266.2h0M1364.2 262.7h0M1345.4 260.0h0M1321.3 262.3h0M1355.3 265.6h0M1345.4 262.4h0M1341.6 267.6h0M1357.5 264.5h0M1333.7 262.2h0M1345.4 264.6h0M1369.3 263.6h0"/>
<path stroke="#a228ab" d="M1282.5 259.5h0M1260.5 264.4h0M1289.6 254.8h0M1299.6 259.9h0M1295.7 274.5h0M1287.8 270.3h0"/>
<path stroke="#2c72ee" d="M1323.0 270.8h0M1325.2 260.1h0M1340.4 260.1h0M1343.9 260.1h0M1330.2 262.3h0M1321.3 264.5h0"/>
<path stroke="#8637be" d="M1306.3 260.3h0M1301.0 275.7h0M1291.0 272.2h0M1301.0 256.7h0M1301.0 258.4h0M1292.5 262.3h0M1302.6 273.3h0M1311.6 270.3h0"/>
<path stroke="#de2a74" d="M1230.0 264.2h0M1275.6 264.4h0M1250.3 266.0h0M1235.1 264.8h0M1294.0 255.0h0M1255.2 269.2h0M1228.1 264.3h0M1257.1 267.9h0M1265.3 276.8h0M1282.5 261.1h0M1280.7 260.8h0"/>
<path stroke="#ea2d60" d="M1258.7 266.4h0M1235.1 264.5h0M1250.3 262.5h0M1277.4 270.3h0M1236.6 263.6h0M1270.6 258.4h0M1258.7 258.0h0M1264.0 275.6h0M1265.3 262.3h0M1267.1 256.3h0M1265.3 272.4h0M1257.1 258.9h0M1260.5 256.4h0"/>
<path stroke="#ec2e59" d="M1255.2 262.4h0M1253.7 266.3h0M1267.1 253.7h0"/>
<path stroke="#3664e6" d="M1316.2 260.2h0M1319.6 258.1h0M1316.2 269.9h0M1317.9 270.5h0M1317.9 260.1h0"/>
<path stroke="#b024a2" d="M1292.5 266.5h0M1287.8 260.1h0M1291.0 268.5h0M1294.0 261.8h0M1299.6 258.0h0M1285.6 271.3h0M1287.8 266.3h0M1285.6 269.6h0M1287.8 268.1h0"/>
<path stroke="#485ddf" d="M1313.3 257.3h0M1317.9 262.5h0M1309.4 258.6h0M1314.4 270.6h0M1306.3 254.3h0M1306.3 258.0h0"/>
<path stroke="#367ff1" d="M1335.4 264.2h0M1338.8 264.4h0M1338.8 259.7h0M1337.1 261.0h0M1348.6 265.8h0M1355.3 267.4h0M1332.0 262.2h0M1345.4 266.7h0M1341.6 259.6h0M1335.4 270.4h0M1370.6 263.8h0M1325.2 270.2h0M1370.6 264.9h0M1343.9 262.1h0M1353.9 263.0h0M1345.4 268.6h0M1325.2 264.6h0M1332.0 258.1h0M1350.5 266.0h0M1328.1 271.0h0"/>
<path stroke="#5a56d8" d="M1314.4 256.2h0M1294.0 264.3h0M1304.5 268.4h0M1297.5 268.7h0M1306.3 256.4h0M1314.4 262.3h0M1311.6 256.6h0"/>
<path stroke="#694cd0" d="M1304.5 258.7h0M1304.5 262.6h0M1301.0 268.3h0M1294.0 259.8h0M1306.3 268.1h0"/>
<path stroke="#d42880" d="M1275.6 267.9h0M1257.1 269.8h0M1236.6 264.3h0M1262.2 257.1h0M1285.6 262.3h0M1237.9 265.0h0M1235.1 263.8h0M1278.8 259.0h0"/>
<path stroke="#408cf4" d="M1285.7 299.6h0M1287.7 303.4h0M1287.7 305.1h0M1290.6 303.5h0M1277.2 297.5h0M1287.7 292.3h0M1263.7 300.0h0M1272.1 300.9h0M1278.9 294.9h0M1285.7 293.7h0M1278.9 298.2h0M1290.6 299.6h0M1268.9 298.3h0M1275.6 302.5h0M1273.9 297.4h0M1289.0 295.7h0M1282.4 308.5h0M1270.3 298.5h0M1284.2 309.7h0M1289.0 301.6h0M1265.2 300.4h0M1285.7 303.2h0M1282.4 299.5h0M1282.4 294.8h0M1284.2 301.6h0M1280.6 293.3h0M1275.6 297.7h0M1285.7 301.3h0M1277.2 299.5h0M1265.2 298.6h0M1284.2 293.6h0M1275.6 296.5h0M1285.7 297.2h0M1289.0 297.4h0M1282.4 306.1h0M1285.7 311.3h0"/>
<path stroke="#ee3052" d="M1325.3 293.8h0M1318.5 299.7h0M1328.5 295.1h0M1339.1 297.7h0M1323.8 301.6h0M1318.5 303.9h0M1315.1 303.1h0M1331.9 295.9h0M1343.8 300.4h0M1320.5 305.6h0M1320.5 295.2h0M1323.8 299.5h0M1326.8 299.6h0M1331.9 299.7h0M1325.3 305.1h0M1330.4 297.6h0M1343.8 299.3h0M1316.9 297.1h0M1328.5 301.9h0M1342.7 300.6h0M1315.1 294.3h0M1345.7 300.5h0M1331.9 303.1h0M1323.8 304.0h0M1316.9 292.8h0M1340.9 300.8h0M1328.5 299.3h0M1334.0 299.8h0M1347.7 298.9h0M1320.5 297.5h0M1334.0 297.8h0M1337.0 297.2h0M1323.8 293.2h0M1318.5 297.2h0M1328.5 303.9h0M1315.1 297.9h0M1347.7 300.1h0"/>
<path stroke="#408cf4" d="M1287.7 294.4h0M1287.7 297.8h0M1292.5 297.3h0M1290.6 297.7h0M1278.9 301.2h0M1273.9 299.2h0M1284.2 305.6h0M1277.2 295.7h0M1287.7 301.0h0M1278.9 304.1h0M1290.6 301.3h0M1278.9 299.2h0M1284.2 287.2h0M1263.7 299.3h0M1280.6 303.8h0M1280.6 295.3h0M1289.0 294.2h0M1284.2 303.4h0M1278.9 302.6h0M1285.7 287.7h0M1275.6 301.3h0M1284.2 295.4h0M1268.9 299.6h0M1263.7 299.0h0M1284.2 311.8h0M1289.0 299.5h0M1285.7 289.4h0M1284.2 291.0h0M1278.9 296.2h0M1268.9 300.6h0M1282.4 301.6h0M1280.6 297.4h0M1289.0 303.0h0M1282.4 290.5h0M1292.5 301.8h0M1282.4 297.1h0M1285.7 295.3h0"/>
<path stroke="#ee3052" d="M1318.5 291.4h0M1325.3 299.4h0M1326.8 296.0h0M1315.1 304.7h0M1337.0 301.8h0M1326.8 302.7h0M1335.5 296.8h0M1321.8 295.1h0M1318.5 295.6h0M1321.8 293.4h0M1315.1 299.3h0M1315.1 301.4h0M1321.8 306.0h0M1330.4 301.5h0M1337.0 298.3h0M1325.3 297.9h0M1321.8 301.7h0M1321.8 291.2h0M1313.7 301.9h0M1345.7 299.6h0M1337.0 300.9h0M1320.5 301.9h0M1320.5 303.8h0M1326.8 304.2h0M1313.7 299.3h0M1323.8 295.0h0M1316.9 294.9h0M1323.8 305.9h0M1335.5 300.8h0M1318.5 301.5h0M1313.7 298.0h0M1320.5 293.2h0M1316.9 306.3h0M1343.8 298.6h0M1342.7 298.4h0M1320.5 291.1h0"/>
<path stroke="#ee3052" d="M1335.5 298.2h0M1325.3 301.4h0M1313.7 297.1h0M1334.0 296.4h0M1316.9 301.7h0M1318.5 293.3h0M1339.1 299.3h0M1337.0 299.7h0M1320.5 307.9h0M1334.0 300.8h0M1328.5 297.3h0M1345.7 298.5h0M1325.3 303.1h0M1335.5 302.2h0M1318.5 307.6h0M1326.8 300.9h0M1313.7 301.0h0M1335.5 299.5h0M1321.8 307.8h0M1340.9 299.7h0M1339.1 301.3h0M1323.8 297.3h0M1318.5 305.4h0M1315.1 295.9h0M1342.7 299.7h0M1326.8 298.1h0M1334.0 302.6h0M1316.9 304.2h0M1321.8 299.6h0M1320.5 299.6h0M1331.9 301.2h0M1330.4 299.7h0M1325.3 295.9h0M1330.4 295.7h0M1321.8 297.4h0M1347.7 299.5h0M1321.8 303.9h0M1316.9 299.6h0M1340.9 298.2h0M1326.8 294.8h0M1331.9 297.7h0M1330.4 303.5h0"/>
<path stroke="#408cf4" d="M1289.0 304.8h0M1285.7 291.7h0M1280.6 305.7h0M1265.2 299.6h0M1282.4 303.9h0M1284.2 289.0h0M1273.9 301.6h0M1275.6 299.7h0M1290.6 295.5h0M1287.7 299.7h0M1267.0 298.5h0M1284.2 299.7h0M1284.2 307.5h0M1270.3 299.4h0M1267.0 299.5h0M1277.2 301.7h0M1285.7 305.3h0M1285.7 307.6h0M1287.7 296.0h0M1270.3 300.4h0M1280.6 299.6h0M1280.6 301.5h0M1272.1 299.8h0M1277.2 303.4h0M1292.5 299.4h0M1284.2 297.5h0M1287.7 306.7h0M1272.1 298.0h0M1285.7 309.2h0M1267.0 300.4h0M1282.4 292.7h0"/>
<path stroke="#ca268c" d="M1310.3 334.7h0M1319.0 333.2h0M1312.2 330.9h0M1315.3 322.7h0M1306.9 334.8h0M1329.2 335.7h0"/>
<path stroke="#d42880" d="M1322.3 332.6h0M1335.7 335.4h0M1315.3 330.8h0M1322.3 335.0h0M1320.4 336.4h0"/>
<path stroke="#942cb4" d="M1305.6 334.5h0M1312.2 332.9h0M1313.6 326.6h0M1310.3 326.1h0M1319.0 331.3h0M1305.6 336.2h0M1315.3 344.4h0M1335.7 334.0h0"/>
<path stroke="#316bea" d="M1288.4 336.4h0"/>
<path stroke="#b024a2" d="M1319.0 329.5h0M1315.3 328.8h0M1337.6 333.7h0M1310.3 330.6h0M1315.3 342.7h0M1313.6 330.4h0M1312.2 342.8h0M1320.4 334.8h0"/>
<path stroke="#bd2597" d="M1330.9 334.7h0M1337.6 334.4h0M1317.4 323.3h0M1313.6 322.8h0M1317.4 343.7h0M1300.5 332.0h0M1313.6 324.9h0"/>
<path stroke="#a228ab" d="M1295.4 334.6h0"/>
<path stroke="#408cf4" d="M1249.7 335.5h0M1213.8 335.1h0M1264.4 337.3h0M1220.3 334.0h0M1247.5 335.6h0M1276.4 333.8h0M1252.5 333.1h0M1230.4 335.2h0M1242.2 333.9h0M1218.5 334.4h0M1266.3 336.7h0M1247.5 333.8h0M1238.9 335.6h0M1281.4 334.5h0M1259.6 334.7h0M1229.0 334.5h0M1233.9 334.0h0M1235.4 335.4h0M1256.4 336.8h0M1272.9 335.7h0M1242.2 334.5h0M1235.4 334.7h0M1232.3 335.2h0M1269.9 336.2h0M1223.8 334.7h0M1213.8 334.4h0M1247.5 334.6h0M1268.3 336.3h0M1217.3 335.1h0M1264.4 336.0h0M1226.9 334.0h0M1251.2 333.7h0M1261.6 333.4h0M1233.9 334.6h0M1262.8 331.6h0M1254.4 334.8h0M1254.4 336.5h0M1217.3 334.3h0"/>
<path stroke="#ec2e59" d="M1344.4 335.4h0"/>
<path stroke="#3664e6" d="M1293.5 336.5h0M1305.6 337.9h0"/>
<path stroke="#694cd0" d="M1298.3 335.9h0M1302.0 336.6h0"/>
<path stroke="#7842c8" d="M1322.3 336.7h0M1313.6 332.5h0M1319.0 327.7h0M1303.8 334.5h0M1308.6 334.7h0M1302.0 333.2h0M1308.6 332.2h0"/>
<path stroke="#5a56d8" d="M1293.5 334.9h0M1305.6 329.8h0M1296.6 334.8h0"/>
<path stroke="#485ddf" d="M1315.3 332.5h0M1308.6 338.9h0M1303.8 331.1h0"/>
<path stroke="#e42c6a" d="M1342.9 334.5h0"/>
<path stroke="#2c72ee" d="M1296.6 333.4h0"/>
<path stroke="#367ff1" d="M1257.9 334.6h0M1259.6 331.9h0M1283.5 333.4h0M1287.1 334.5h0M1268.3 334.5h0M1266.3 334.5h0M1249.7 333.7h0M1271.7 333.8h0M1259.6 337.5h0M1232.3 334.8h0M1264.4 334.5h0M1261.6 334.6h0M1288.4 334.5h0"/>
<path stroke="#de2a74" d="M1306.9 332.4h0M1330.9 333.7h0M1317.4 325.9h0"/>
<path stroke="#8637be" d="M1312.2 328.5h0M1315.3 340.7h0M1313.6 344.6h0M1303.8 338.4h0"/>
<path stroke="#2c72ee" d="M1291.5 336.3h0M1300.5 335.0h0M1287.1 337.2h0M1303.8 332.7h0M1288.4 332.9h0M1289.9 336.2h0M1296.6 332.4h0"/>
<path stroke="#942cb4" d="M1308.6 341.3h0M1302.0 338.0h0M1330.9 335.8h0M1303.8 336.7h0M1308.6 337.1h0M1313.6 334.9h0M1312.2 324.6h0"/>
<path stroke="#ec2e59" d="M1346.3 335.4h0M1342.9 334.0h0"/>
<path stroke="#408cf4" d="M1222.1 334.5h0M1284.9 336.9h0M1279.8 333.9h0M1211.8 334.6h0M1242.2 335.5h0M1230.4 334.2h0M1220.3 335.3h0M1245.7 335.5h0M1215.2 334.5h0M1229.0 334.2h0M1210.2 334.9h0M1232.3 334.2h0M1252.5 336.2h0M1298.3 333.4h0M1233.9 335.4h0M1226.9 335.5h0M1223.8 335.4h0M1237.3 334.5h0M1256.4 332.6h0M1245.7 334.0h0M1261.6 337.4h0M1220.3 334.5h0M1225.6 335.0h0M1230.4 335.0h0M1269.9 333.3h0M1235.4 334.0h0M1223.8 334.1h0M1252.5 334.8h0M1229.0 335.2h0M1211.8 335.1h0M1271.7 335.6h0M1276.4 334.9h0M1277.9 334.7h0M1245.7 334.5h0M1213.8 334.3h0"/>
<path stroke="#a228ab" d="M1305.6 331.3h0M1312.2 340.7h0M1312.2 337.0h0M1319.0 339.9h0M1313.6 328.5h0M1313.6 340.9h0M1315.3 337.0h0"/>
<path stroke="#367ff1" d="M1284.9 332.4h0M1284.9 334.5h0M1284.9 336.1h0M1277.9 333.8h0M1254.4 332.9h0M1272.9 334.5h0M1244.2 335.4h0M1262.8 334.8h0M1266.3 332.7h0M1268.3 333.1h0M1271.7 334.4h0M1251.2 335.7h0M1269.9 334.7h0M1283.5 334.9h0M1262.8 336.0h0"/>
<path stroke="#ca268c" d="M1315.3 324.6h0M1319.0 338.1h0M1334.6 335.5h0M1329.2 333.7h0"/>
<path stroke="#ee3052" d="M1349.6 334.3h0M1332.9 333.8h0M1342.9 335.4h0"/>
<path stroke="#5a56d8" d="M1317.4 332.2h0M1291.5 333.0h0M1312.2 339.0h0M1320.4 332.7h0M1298.3 332.2h0M1306.9 331.0h0"/>
<path stroke="#8637be" d="M1317.4 328.2h0M1324.1 333.4h0M1302.0 334.8h0"/>
<path stroke="#d42880" d="M1344.4 334.5h0M1341.0 334.8h0M1346.3 334.7h0M1305.6 339.7h0"/>
<path stroke="#bd2597" d="M1319.0 334.4h0M1341.0 335.7h0M1341.0 333.7h0M1312.2 344.8h0M1317.4 341.8h0"/>
<path stroke="#ea2d60" d="M1351.1 334.7h0M1335.7 334.9h0M1351.1 334.3h0"/>
<path stroke="#3664e6" d="M1295.4 335.9h0M1302.0 331.5h0"/>
<path stroke="#7842c8" d="M1332.9 335.6h0M1315.3 321.0h0M1315.3 348.4h0"/>
<path stroke="#e42c6a" d="M1339.3 333.7h0"/>
<path stroke="#316bea" d="M1293.5 332.9h0M1289.9 333.2h0"/>
<path stroke="#b024a2" d="M1312.2 334.5h0M1313.6 346.5h0M1334.6 334.0h0M1317.4 348.2h0M1310.3 328.5h0"/>
<path stroke="#408cf4" d="M1215.2 335.1h0M1272.9 333.8h0M1241.0 335.6h0M1295.4 332.3h0M1211.8 334.3h0M1257.9 337.1h0M1238.9 334.5h0M1241.0 333.8h0M1244.2 334.6h0M1225.6 334.0h0M1287.1 335.7h0M1281.4 335.5h0M1262.8 337.8h0M1279.8 334.9h0M1274.6 334.8h0M1281.4 333.9h0M1249.7 334.5h0M1226.9 334.9h0M1261.6 335.9h0M1277.9 335.7h0M1276.4 335.7h0M1222.1 334.0h0M1264.4 333.3h0M1215.2 334.4h0M1225.6 335.5h0M1287.1 332.2h0M1264.4 332.0h0M1218.5 335.1h0M1217.3 334.7h0M1244.2 334.1h0M1238.9 333.8h0M1241.0 334.6h0M1289.9 334.5h0M1274.6 335.7h0M1222.1 335.3h0M1218.5 334.6h0M1237.3 335.4h0M1237.3 334.0h0M1259.6 333.1h0"/>
<path stroke="#316bea" d="M1300.5 333.3h0"/>
<path stroke="#ec2e59" d="M1348.1 335.3h0"/>
<path stroke="#ee3052" d="M1349.6 334.7h0M1344.4 334.0h0"/>
<path stroke="#b024a2" d="M1313.6 336.7h0M1320.4 338.1h0M1327.8 335.7h0M1317.4 335.0h0M1337.6 335.7h0M1315.3 346.5h0M1325.6 333.7h0M1308.6 330.5h0M1313.6 338.8h0M1310.3 339.2h0M1317.4 330.2h0"/>
<path stroke="#694cd0" d="M1300.5 335.8h0M1310.3 341.3h0M1306.9 336.7h0"/>
<path stroke="#ea2d60" d="M1334.6 334.6h0"/>
<path stroke="#de2a74" d="M1351.1 335.1h0M1329.2 334.4h0M1349.6 335.1h0M1319.0 341.6h0M1306.9 340.5h0"/>
<path stroke="#a228ab" d="M1312.2 326.4h0M1310.3 332.7h0M1315.3 327.0h0M1332.9 334.6h0M1296.6 335.6h0M1324.1 334.8h0"/>
<path stroke="#5a56d8" d="M1298.3 335.0h0M1291.5 334.8h0"/>
<path stroke="#7842c8" d="M1305.6 333.3h0M1298.3 337.3h0M1310.3 337.0h0"/>
<path stroke="#bd2597" d="M1327.8 333.6h0M1327.8 334.5h0M1348.1 334.9h0M1324.1 336.1h0M1317.4 336.7h0"/>
<path stroke="#942cb4" d="M1317.4 321.2h0M1295.4 333.3h0M1306.9 338.5h0M1315.3 338.9h0"/>
<path stroke="#d42880" d="M1346.3 334.1h0M1317.4 339.3h0M1348.1 334.0h0M1317.4 346.2h0"/>
<path stroke="#485ddf" d="M1306.9 328.9h0M1295.4 337.2h0"/>
<path stroke="#8637be" d="M1313.6 342.5h0M1308.6 328.1h0M1300.5 337.3h0M1320.4 331.3h0M1319.0 336.5h0"/>
<path stroke="#e42c6a" d="M1339.3 335.6h0M1339.3 334.7h0"/>
<path stroke="#367ff1" d="M1279.8 335.5h0M1287.1 333.2h0M1262.8 333.1h0M1257.9 333.6h0M1259.6 336.0h0M1257.9 335.7h0M1274.6 333.8h0M1283.5 336.0h0M1256.4 334.5h0M1284.9 333.3h0M1296.6 337.0h0M1251.2 334.5h0M1261.6 331.9h0M1257.9 332.3h0"/>
<path stroke="#ca268c" d="M1310.3 343.2h0M1325.6 335.7h0M1325.6 334.7h0M1315.3 334.7h0"/>
<path stroke="#ee3052" d="M1366.1 334.7h0M1369.8 334.7h0"/>
<path stroke="#ea2d60" d="M1366.2 370.2h0M1374.6 369.5h0M1345.7 370.6h0M1377.9 369.8h0"/>
<path stroke="#e42c6a" d="M1338.8 369.2h0M1373.2 370.3h0M1322.3 369.2h0M1320.5 369.2h0M1328.6 370.0h0M1351.0 369.9h0"/>
<path stroke="#bd2597" d="M1318.4 370.5h0M1324.0 369.3h0"/>
<path stroke="#942cb4" d="M1308.4 370.0h0M1328.6 369.4h0M1333.9 370.6h0"/>
<path stroke="#d42880" d="M1315.5 370.5h0M1330.3 370.0h0"/>
<path stroke="#de2a74" d="M1343.8 369.8h0M1357.5 369.6h0"/>
<path stroke="#ca268c" d="M1313.3 369.2h0M1333.9 369.6h0M1366.2 369.7h0"/>
<path stroke="#ee3052" d="M1369.9 370.1h0M1391.5 369.8h0M1349.1 370.5h0M1356.0 369.8h0M1362.9 370.4h0M1376.7 369.6h0M1364.6 369.6h0M1373.2 370.0h0M1361.5 370.4h0"/>
<path stroke="#8637be" d="M1337.3 370.5h0M1343.8 370.4h0"/>
<path stroke="#b024a2" d="M1343.8 369.3h0M1308.4 370.6h0M1337.3 369.2h0M1318.4 369.4h0M1322.3 370.6h0"/>
<path stroke="#a228ab" d="M1326.9 370.5h0"/>
<path stroke="#5a56d8" d="M1309.9 370.6h0"/>
<path stroke="#7842c8" d="M1315.5 370.0h0M1311.7 369.2h0"/>
<path stroke="#ec2e59" d="M1374.6 370.1h0M1373.2 369.6h0"/>
<path stroke="#694cd0" d="M1326.9 370.1h0"/>
<path stroke="#485ddf" d="M1309.9 369.8h0"/>
<path stroke="#d42880" d="M1359.3 369.6h0"/>
<path stroke="#de2a74" d="M1328.6 370.5h0M1351.0 370.5h0M1359.3 370.4h0M1354.4 369.3h0"/>
<path stroke="#ca268c" d="M1311.7 370.6h0M1361.5 369.8h0M1335.7 369.2h0M1309.9 369.2h0M1361.5 369.4h0M1330.3 369.4h0"/>
<path stroke="#5a56d8" d="M1340.4 370.1h0"/>
<path stroke="#e42c6a" d="M1349.1 369.7h0M1371.2 369.5h0M1354.4 369.9h0M1342.5 369.7h0"/>
<path stroke="#bd2597" d="M1337.3 370.0h0M1333.9 369.3h0"/>
<path stroke="#8637be" d="M1332.5 369.3h0M1335.7 370.5h0M1316.7 369.3h0M1325.2 370.4h0"/>
<path stroke="#ea2d60" d="M1381.8 370.1h0M1357.5 370.4h0"/>
<path stroke="#b024a2" d="M1318.4 369.8h0M1322.3 369.7h0M1324.0 370.5h0"/>
<path stroke="#942cb4" d="M1330.3 370.5h0M1313.3 370.2h0"/>
<path stroke="#ee3052" d="M1369.9 369.4h0M1349.1 369.3h0M1342.5 369.3h0M1356.0 369.3h0M1340.4 370.5h0M1368.0 370.3h0M1352.6 369.4h0M1383.1 369.7h0M1374.6 370.3h0"/>
<path stroke="#ec2e59" d="M1386.3 370.1h0M1345.7 369.3h0M1376.7 370.2h0M1371.2 370.0h0M1316.7 369.9h0"/>
<path stroke="#a228ab" d="M1352.6 370.0h0M1320.5 370.1h0M1342.5 370.4h0"/>
<path stroke="#7842c8" d="M1313.3 370.6h0M1320.5 370.6h0"/>
<path stroke="#942cb4" d="M1335.7 370.0h0"/>
<path stroke="#de2a74" d="M1338.8 370.6h0M1359.3 369.4h0M1362.9 369.5h0"/>
<path stroke="#ca268c" d="M1325.2 370.1h0"/>
<path stroke="#ee3052" d="M1354.4 370.5h0M1351.0 369.4h0M1340.4 369.3h0M1366.2 369.6h0M1395.0 369.7h0M1385.0 369.8h0M1364.6 370.3h0M1368.0 369.6h0M1393.7 370.0h0M1388.0 369.8h0"/>
<path stroke="#d42880" d="M1332.5 369.9h0M1338.8 369.7h0M1345.7 370.0h0M1347.2 369.2h0"/>
<path stroke="#bd2597" d="M1352.6 370.5h0M1325.2 369.3h0M1326.9 369.3h0"/>
<path stroke="#ec2e59" d="M1368.0 370.2h0M1389.8 369.9h0M1371.2 370.3h0M1380.1 370.1h0"/>
<path stroke="#e42c6a" d="M1357.5 369.3h0M1369.9 370.3h0M1347.2 370.6h0M1362.9 369.7h0M1376.7 369.8h0M1347.2 370.1h0M1364.6 370.1h0"/>
<path stroke="#5a56d8" d="M1324.0 370.0h0"/>
<path stroke="#b024a2" d="M1311.7 369.8h0M1332.5 370.5h0M1308.4 369.2h0M1356.0 370.5h0"/>
<path stroke="#316bea" d="M1316.7 370.5h0M1315.5 369.3h0"/>
<path stroke="#408cf4" d="M1292.5 382.2h0M1277.5 369.8h0M1290.8 363.9h0M1293.8 375.6h0M1289.3 374.2h0M1289.3 376.2h0M1280.6 366.9h0M1289.3 372.2h0M1293.8 359.9h0M1292.5 370.1h0M1301.3 370.5h0M1290.8 357.6h0M1297.8 370.0h0M1289.3 364.0h0M1275.5 368.7h0M1289.3 367.6h0M1293.8 358.4h0M1287.4 371.8h0M1295.6 371.9h0M1285.6 377.2h0M1292.5 380.3h0M1284.1 371.9h0M1284.1 364.3h0M1285.6 364.2h0M1293.8 381.5h0M1287.4 374.3h0M1287.4 376.1h0M1293.8 366.1h0M1287.4 363.3h0M1278.8 372.5h0M1293.8 367.8h0M1282.1 373.8h0M1273.5 369.0h0M1280.6 373.0h0M1292.5 365.9h0M1289.3 370.0h0M1292.5 377.9h0M1293.8 371.9h0M1289.3 380.0h0M1290.8 371.9h0M1278.8 367.4h0M1299.1 370.7h0M1284.1 373.7h0M1287.4 370.2h0M1280.6 368.4h0M1275.5 371.1h0M1278.8 371.3h0M1272.2 370.6h0M1293.8 369.7h0M1292.5 359.5h0M1272.2 369.9h0M1277.5 371.9h0M1284.1 375.4h0M1282.1 369.6h0M1290.8 382.2h0M1285.6 368.2h0M1292.5 357.5h0"/>
<path stroke="#408cf4" d="M1292.5 363.4h0M1285.6 362.6h0M1289.3 359.8h0M1295.6 369.7h0M1301.3 370.1h0M1292.5 361.8h0M1292.5 373.8h0M1287.4 378.2h0M1301.3 369.3h0M1287.4 361.5h0M1285.6 373.5h0M1299.1 369.9h0M1290.8 370.2h0M1289.3 362.0h0M1284.1 366.2h0M1290.8 377.9h0M1290.8 361.4h0M1297.8 368.8h0M1284.1 367.9h0M1285.6 371.9h0M1273.5 370.1h0M1293.8 363.9h0M1278.8 369.8h0M1290.8 374.0h0M1285.6 366.4h0M1273.5 370.9h0M1287.4 365.7h0M1280.6 371.6h0M1289.3 365.6h0M1284.1 370.0h0M1293.8 373.7h0M1290.8 375.9h0M1285.6 370.1h0M1289.3 378.3h0M1295.6 367.9h0M1292.5 376.3h0M1278.8 368.5h0M1293.8 362.0h0M1292.5 367.6h0M1285.6 375.4h0M1290.8 359.7h0M1272.2 369.2h0M1290.8 365.6h0M1275.5 369.9h0M1277.5 368.1h0M1280.6 369.8h0M1299.1 369.0h0M1297.8 371.0h0M1292.5 372.0h0M1282.1 372.0h0M1282.1 367.9h0M1290.8 380.2h0M1290.8 368.0h0M1293.8 379.7h0M1287.4 367.8h0M1293.8 377.7h0M1282.1 366.0h0"/>
<path stroke="#ee3052" d="M1406.8 369.9h0"/>
<path stroke="#ca268c" d="M1253.6 404.2h0M1272.7 403.8h0M1240.2 404.2h0"/>
<path stroke="#e42c6a" d="M1275.6 406.0h0M1242.0 405.2h0M1234.9 405.9h0M1226.4 404.6h0M1291.0 403.9h0"/>
<path stroke="#de2a74" d="M1270.7 405.2h0M1238.5 406.0h0M1275.6 404.9h0M1274.0 405.3h0M1250.6 406.0h0"/>
<path stroke="#7842c8" d="M1299.3 404.0h0M1294.9 405.4h0"/>
<path stroke="#3664e6" d="M1292.7 405.3h0M1298.3 406.2h0"/>
<path stroke="#5a56d8" d="M1257.1 405.2h0"/>
<path stroke="#ea2d60" d="M1258.6 405.1h0M1228.2 404.7h0"/>
<path stroke="#a228ab" d="M1299.3 406.2h0M1296.3 405.3h0"/>
<path stroke="#b024a2" d="M1255.5 404.9h0M1285.8 406.3h0M1275.6 404.2h0M1262.3 404.8h0"/>
<path stroke="#942cb4" d="M1263.7 405.3h0"/>
<path stroke="#485ddf" d="M1299.3 405.0h0M1294.9 404.0h0"/>
<path stroke="#ec2e59" d="M1221.2 405.7h0M1213.1 404.8h0M1224.7 405.0h0M1231.4 404.4h0M1294.9 406.2h0M1243.7 406.1h0M1216.3 405.4h0M1214.5 404.9h0M1292.7 406.2h0M1260.8 404.9h0M1231.4 405.8h0M1229.7 405.1h0M1223.3 404.9h0M1238.5 405.3h0M1213.1 405.2h0"/>
<path stroke="#d42880" d="M1270.7 406.4h0M1277.4 404.3h0M1250.6 404.2h0M1245.5 405.4h0M1247.0 405.1h0"/>
<path stroke="#316bea" d="M1282.5 406.3h0"/>
<path stroke="#ee3052" d="M1201.0 404.6h0M1272.7 406.4h0M1209.7 404.7h0M1269.0 406.4h0M1216.3 404.7h0M1258.6 404.0h0M1204.3 404.8h0M1199.4 404.7h0M1211.1 404.9h0M1206.0 404.8h0"/>
<path stroke="#ca268c" d="M1248.5 404.1h0M1284.0 404.9h0M1284.0 403.8h0M1252.1 406.0h0M1242.0 404.2h0"/>
<path stroke="#bd2597" d="M1298.3 404.0h0M1279.4 404.9h0M1247.0 404.3h0"/>
<path stroke="#b024a2" d="M1277.4 406.1h0M1285.8 405.4h0M1287.4 404.9h0M1291.0 405.1h0M1252.1 404.2h0M1281.0 403.5h0"/>
<path stroke="#8637be" d="M1263.7 404.1h0M1258.6 406.2h0"/>
<path stroke="#de2a74" d="M1238.5 404.2h0M1289.5 405.0h0"/>
<path stroke="#ea2d60" d="M1221.2 405.2h0M1226.4 405.0h0M1262.3 404.1h0M1221.2 404.4h0"/>
<path stroke="#942cb4" d="M1253.6 405.1h0M1243.7 404.2h0M1252.1 405.1h0M1296.3 403.9h0M1279.4 406.3h0"/>
<path stroke="#ee3052" d="M1233.1 405.6h0M1201.0 405.2h0M1260.8 406.2h0M1250.6 405.1h0M1206.0 405.1h0M1226.4 405.6h0M1224.7 404.6h0M1206.0 405.5h0M1218.4 405.4h0M1228.2 405.7h0M1218.4 405.7h0"/>
<path stroke="#d42880" d="M1245.5 404.2h0M1257.1 406.2h0M1284.0 406.3h0M1255.5 404.2h0M1248.5 406.0h0"/>
<path stroke="#694cd0" d="M1277.4 405.3h0"/>
<path stroke="#e42c6a" d="M1234.9 405.1h0M1282.5 405.3h0"/>
<path stroke="#ec2e59" d="M1236.5 405.4h0M1247.0 405.9h0M1219.5 404.6h0M1228.2 405.2h0M1233.1 404.4h0M1207.6 405.5h0M1214.5 404.4h0M1233.1 405.2h0"/>
<path stroke="#a228ab" d="M1267.5 404.1h0M1289.5 406.2h0M1279.4 403.9h0M1263.7 406.2h0M1285.8 403.8h0M1255.5 406.0h0"/>
<path stroke="#5a56d8" d="M1267.5 406.1h0"/>
<path stroke="#942cb4" d="M1291.0 406.2h0M1240.2 405.3h0M1243.7 405.0h0"/>
<path stroke="#ee3052" d="M1281.0 404.9h0M1204.3 404.8h0M1203.0 405.4h0M1274.0 404.2h0M1270.7 403.8h0M1216.3 405.6h0M1214.5 405.7h0M1253.6 406.0h0M1207.6 404.6h0M1203.0 404.8h0M1267.5 405.0h0M1203.0 405.5h0M1201.0 405.6h0M1219.5 405.1h0M1218.4 404.6h0M1274.0 405.9h0M1281.0 406.6h0M1272.7 405.2h0M1199.4 405.5h0M1199.4 404.8h0M1209.7 405.4h0M1204.3 405.6h0"/>
<path stroke="#b024a2" d="M1292.7 404.0h0M1296.3 406.2h0"/>
<path stroke="#ea2d60" d="M1234.9 404.2h0M1260.8 404.0h0M1229.7 404.4h0M1231.4 405.2h0M1224.7 405.6h0M1242.0 406.0h0"/>
<path stroke="#d42880" d="M1265.7 406.0h0"/>
<path stroke="#bd2597" d="M1265.7 404.1h0M1257.1 404.0h0"/>
<path stroke="#7842c8" d="M1248.5 405.0h0M1245.5 405.9h0M1262.3 406.1h0"/>
<path stroke="#ec2e59" d="M1209.7 405.5h0M1223.3 405.7h0M1213.1 405.5h0M1229.7 405.9h0M1211.1 405.5h0M1219.5 405.7h0M1223.3 404.4h0M1211.1 404.6h0M1269.0 404.9h0M1236.5 404.2h0M1207.6 405.3h0"/>
<path stroke="#ca268c" d="M1287.4 403.8h0M1240.2 406.0h0M1298.3 405.3h0"/>
<path stroke="#e42c6a" d="M1282.5 403.8h0M1236.5 406.0h0"/>
<path stroke="#a228ab" d="M1287.4 406.5h0M1269.0 403.9h0"/>
<path stroke="#8637be" d="M1265.7 405.3h0M1289.5 404.0h0"/>
<path stroke="#408cf4" d="M1321.9 403.1h0M1315.2 405.2h0M1317.9 401.5h0M1313.3 409.0h0M1306.5 401.2h0M1311.5 406.9h0M1325.3 405.4h0M1319.9 402.4h0M1313.3 416.8h0M1315.2 411.3h0M1319.9 403.8h0M1306.5 403.3h0M1311.5 409.2h0M1313.3 410.8h0M1313.3 393.3h0M1323.7 405.4h0M1316.5 403.3h0M1311.5 401.3h0M1311.5 399.2h0M1313.3 403.1h0M1313.3 399.1h0M1319.9 406.2h0M1306.5 407.0h0M1308.4 403.5h0M1326.5 405.4h0M1309.5 402.6h0M1313.3 412.9h0M1315.2 402.9h0M1315.2 401.2h0M1311.5 397.5h0M1326.5 405.8h0M1308.4 397.8h0M1313.3 406.9h0M1313.3 395.4h0M1308.4 412.4h0M1309.5 400.4h0M1319.9 407.8h0M1313.3 405.0h0M1306.5 404.9h0M1308.4 399.6h0M1311.5 393.5h0M1316.5 401.6h0M1325.3 406.1h0"/>
<path stroke="#408cf4" d="M1315.2 399.1h0M1309.5 414.1h0M1315.2 413.2h0M1311.5 403.3h0M1309.5 398.2h0M1317.9 403.2h0M1311.5 410.7h0M1321.9 407.1h0M1309.5 412.0h0M1316.5 406.6h0M1311.5 414.7h0M1309.5 409.8h0M1319.9 405.1h0M1316.5 405.4h0M1317.9 408.7h0M1321.9 405.3h0M1309.5 396.1h0M1308.4 410.7h0M1311.5 416.8h0M1317.9 405.1h0M1323.7 403.9h0M1311.5 413.0h0M1316.5 400.0h0M1325.3 404.2h0M1309.5 405.4h0M1315.2 407.4h0M1326.5 404.5h0M1313.3 396.9h0M1323.7 406.2h0M1306.5 408.9h0M1308.4 405.3h0M1309.5 407.2h0M1313.3 415.0h0M1315.2 409.0h0M1316.5 410.3h0M1308.4 406.7h0M1308.4 401.5h0M1311.5 405.4h0M1316.5 408.8h0M1315.2 396.9h0M1311.5 395.1h0M1313.3 401.4h0M1317.9 407.0h0M1308.4 408.5h0"/>
<path stroke="#ee3052" d="M1180.1 405.1h0"/>
<path stroke="#bd2597" d="M1263.0 439.5h0M1280.5 441.0h0M1288.8 441.2h0M1256.7 439.3h0M1268.3 439.5h0M1272.0 439.6h0M1294.0 439.6h0M1229.1 440.4h0"/>
<path stroke="#d42880" d="M1229.1 439.7h0M1254.9 439.3h0M1297.5 441.1h0M1294.0 440.4h0M1239.9 439.7h0"/>
<path stroke="#694cd0" d="M1294.0 441.2h0"/>
<path stroke="#8637be" d="M1283.9 441.3h0"/>
<path stroke="#e42c6a" d="M1221.0 440.3h0M1222.3 439.7h0M1251.2 439.3h0"/>
<path stroke="#ee3052" d="M1233.1 440.4h0M1323.3 440.3h0M1239.9 440.2h0M1249.5 441.0h0M1330.3 440.6h0M1234.6 440.2h0M1333.8 440.1h0M1236.2 440.4h0M1328.5 440.1h0M1231.0 439.8h0"/>
<path stroke="#de2a74" d="M1275.0 441.3h0M1249.5 440.2h0"/>
<path stroke="#ca268c" d="M1287.4 440.3h0M1233.1 439.8h0M1222.3 440.6h0M1285.5 439.3h0M1292.1 441.1h0"/>
<path stroke="#a228ab" d="M1273.5 440.9h0M1283.9 440.4h0M1299.2 439.5h0"/>
<path stroke="#b024a2" d="M1221.0 439.7h0M1266.4 440.0h0M1280.5 439.6h0"/>
<path stroke="#942cb4" d="M1295.9 441.1h0M1281.8 440.3h0M1229.1 440.9h0M1280.5 440.6h0"/>
<path stroke="#ea2d60" d="M1224.5 440.4h0M1224.5 439.8h0M1237.9 440.4h0M1227.9 439.7h0M1234.6 439.8h0"/>
<path stroke="#ca268c" d="M1237.9 439.7h0M1283.9 439.3h0M1256.7 441.3h0M1244.9 440.8h0M1261.6 439.5h0M1278.5 441.1h0"/>
<path stroke="#e42c6a" d="M1253.1 439.2h0M1247.8 440.9h0M1224.5 440.8h0M1292.1 439.4h0M1236.2 439.8h0M1234.6 440.9h0M1254.9 440.5h0M1221.0 440.9h0"/>
<path stroke="#ee3052" d="M1261.6 440.0h0M1337.2 440.0h0M1332.1 440.6h0M1246.5 440.1h0M1335.2 440.6h0M1242.9 440.8h0"/>
<path stroke="#de2a74" d="M1278.5 439.5h0M1253.1 440.2h0M1258.3 441.3h0M1254.9 441.3h0M1258.3 439.4h0M1259.6 439.4h0"/>
<path stroke="#a228ab" d="M1285.5 441.3h0M1273.5 440.3h0M1268.3 440.5h0"/>
<path stroke="#8637be" d="M1287.4 441.2h0M1297.5 440.2h0"/>
<path stroke="#bd2597" d="M1265.4 441.2h0M1263.0 440.3h0M1253.1 441.3h0M1265.4 440.0h0M1231.0 440.9h0M1276.7 439.3h0M1227.9 440.8h0M1237.9 441.0h0M1281.8 439.5h0"/>
<path stroke="#ea2d60" d="M1246.5 439.6h0M1239.9 440.9h0M1251.2 441.3h0"/>
<path stroke="#942cb4" d="M1275.0 439.3h0M1263.0 441.0h0M1244.9 440.3h0"/>
<path stroke="#d42880" d="M1292.1 440.1h0M1225.7 440.9h0"/>
<path stroke="#b024a2" d="M1276.7 440.5h0"/>
<path stroke="#694cd0" d="M1288.8 439.5h0"/>
<path stroke="#8637be" d="M1269.9 439.5h0M1285.5 440.1h0"/>
<path stroke="#5a56d8" d="M1295.9 439.5h0"/>
<path stroke="#7842c8" d="M1295.9 440.3h0"/>
<path stroke="#694cd0" d="M1266.4 439.5h0"/>
<path stroke="#ee3052" d="M1233.1 440.8h0M1325.0 440.2h0M1326.6 440.1h0"/>
<path stroke="#de2a74" d="M1290.8 441.2h0M1241.5 440.5h0M1261.6 441.0h0M1247.8 439.6h0M1259.6 441.3h0"/>
<path stroke="#ea2d60" d="M1242.9 439.7h0"/>
<path stroke="#b024a2" d="M1278.5 440.2h0M1287.4 439.4h0"/>
<path stroke="#ec2e59" d="M1231.0 440.2h0M1251.2 440.2h0"/>
<path stroke="#d42880" d="M1268.3 441.1h0M1266.4 441.1h0M1236.2 440.8h0M1273.5 439.6h0M1247.8 440.1h0M1265.4 439.4h0M1225.7 440.2h0M1299.2 440.5h0M1269.9 440.9h0"/>
<path stroke="#942cb4" d="M1272.0 441.0h0M1288.8 440.2h0M1290.8 439.4h0M1281.8 441.1h0"/>
<path stroke="#ca268c" d="M1297.5 439.6h0M1276.7 441.2h0M1249.5 439.6h0M1225.7 439.8h0M1227.9 440.4h0M1259.6 440.2h0M1222.3 440.9h0"/>
<path stroke="#bd2597" d="M1269.9 440.2h0M1290.8 440.2h0M1275.0 440.1h0M1241.5 439.6h0M1256.7 440.4h0M1244.9 439.7h0"/>
<path stroke="#e42c6a" d="M1242.9 440.5h0M1246.5 441.1h0M1241.5 441.0h0M1258.3 440.0h0"/>
<path stroke="#a228ab" d="M1299.2 441.1h0M1272.0 440.5h0"/>
<path stroke="#408cf4" d="M1315.1 447.4h0M1308.1 445.9h0M1315.1 442.2h0M1313.1 444.0h0M1309.6 436.4h0M1311.5 444.1h0M1313.1 452.0h0M1315.1 433.2h0M1315.1 436.8h0M1311.5 428.4h0M1313.1 440.3h0M1309.6 434.7h0M1313.1 442.2h0M1306.4 441.8h0M1316.6 436.3h0M1316.6 440.2h0M1308.1 436.7h0M1306.4 438.9h0M1306.4 443.4h0M1306.4 440.1h0M1313.1 428.6h0M1311.5 452.4h0M1313.1 448.1h0M1311.5 448.4h0M1313.1 436.4h0M1313.1 446.5h0M1308.1 434.6h0M1306.4 437.3h0M1308.1 442.3h0M1309.6 433.1h0M1316.6 444.3h0"/>
<path stroke="#408cf4" d="M1313.1 450.4h0M1311.5 450.4h0M1313.1 432.5h0M1308.1 438.4h0M1309.6 447.9h0M1311.5 434.1h0M1313.1 438.0h0M1309.6 443.8h0M1315.1 440.5h0M1308.1 443.8h0M1311.5 438.2h0M1313.1 434.5h0M1311.5 440.1h0M1309.6 449.4h0M1316.6 438.3h0M1315.1 438.3h0M1315.1 445.9h0M1311.5 436.4h0M1313.1 430.1h0M1311.5 430.3h0M1308.1 440.2h0M1316.6 442.5h0M1309.6 438.7h0M1315.1 435.0h0M1315.1 443.8h0M1311.5 432.3h0M1309.6 446.0h0M1311.5 446.4h0M1311.5 442.3h0M1309.6 440.1h0M1309.6 431.1h0M1309.6 442.0h0"/>
<path stroke="#7842c8" d="M1307.2 476.2h0M1318.9 475.3h0"/>
<path stroke="#942cb4" d="M1305.6 476.2h0M1312.5 476.2h0M1326.2 475.5h0M1313.9 475.3h0"/>
<path stroke="#e42c6a" d="M1331.1 474.8h0M1382.1 476.0h0M1360.0 475.5h0M1371.9 476.2h0M1361.6 476.2h0"/>
<path stroke="#d42880" d="M1390.6 475.3h0"/>
<path stroke="#8637be" d="M1312.5 475.7h0M1309.3 475.4h0M1305.6 474.8h0M1310.6 475.5h0M1318.9 475.0h0"/>
<path stroke="#ca268c" d="M1398.7 476.2h0M1358.3 475.3h0M1322.7 475.7h0M1313.9 476.1h0"/>
<path stroke="#a228ab" d="M1312.5 474.8h0"/>
<path stroke="#ee3052" d="M1383.8 475.7h0M1383.8 475.0h0M1409.3 476.2h0M1379.0 474.9h0M1398.7 475.6h0M1376.9 474.8h0M1376.9 475.5h0M1393.9 474.7h0M1407.8 474.7h0M1361.6 474.8h0M1416.1 476.1h0M1355.0 474.9h0M1385.8 475.6h0M1413.0 475.0h0M1387.1 475.7h0M1411.0 474.9h0"/>
<path stroke="#ec2e59" d="M1351.4 474.9h0M1360.0 476.3h0M1355.0 475.4h0M1344.9 474.9h0M1380.3 476.1h0M1380.3 475.6h0M1416.1 474.9h0M1407.8 476.1h0M1385.8 475.0h0"/>
<path stroke="#ea2d60" d="M1382.1 474.9h0M1349.7 474.8h0M1371.9 475.7h0M1373.7 474.8h0M1370.5 475.4h0M1385.8 476.0h0M1365.3 476.1h0M1343.0 476.0h0M1356.7 475.5h0M1413.0 475.3h0M1346.3 474.8h0M1336.2 475.3h0M1344.9 475.3h0"/>
<path stroke="#bd2597" d="M1344.9 476.2h0M1320.5 474.9h0"/>
<path stroke="#de2a74" d="M1343.0 475.5h0M1339.3 474.9h0M1337.9 475.7h0M1339.3 476.1h0"/>
<path stroke="#ee3052" d="M1336.2 476.1h0M1414.3 476.1h0M1387.1 476.1h0M1368.2 476.2h0M1387.1 474.9h0M1404.2 476.2h0M1390.6 474.8h0M1393.9 475.4h0M1411.0 476.1h0M1406.0 476.1h0M1368.2 474.8h0M1382.1 475.3h0"/>
<path stroke="#ca268c" d="M1333.0 475.0h0M1348.4 475.4h0"/>
<path stroke="#942cb4" d="M1313.9 474.8h0M1320.5 476.0h0M1320.5 475.8h0"/>
<path stroke="#bd2597" d="M1333.0 475.5h0M1310.6 476.1h0"/>
<path stroke="#ec2e59" d="M1351.4 475.6h0M1409.3 475.8h0M1389.2 475.5h0M1379.0 476.1h0M1337.9 476.1h0M1361.6 475.5h0M1406.0 475.5h0M1334.2 475.6h0M1358.3 476.1h0M1334.2 474.9h0M1353.1 475.8h0M1366.7 476.1h0"/>
<path stroke="#b024a2" d="M1356.7 474.8h0M1329.1 476.2h0M1365.3 475.6h0M1324.5 476.0h0"/>
<path stroke="#a228ab" d="M1318.9 476.1h0M1310.6 474.8h0"/>
<path stroke="#7842c8" d="M1309.3 474.8h0M1309.3 476.1h0"/>
<path stroke="#d42880" d="M1371.9 474.9h0M1356.7 476.1h0M1402.6 475.5h0M1392.4 474.7h0M1351.4 476.2h0M1333.0 476.0h0M1326.2 475.0h0M1409.3 474.8h0"/>
<path stroke="#8637be" d="M1315.6 476.2h0M1317.2 476.1h0M1315.6 474.9h0"/>
<path stroke="#ea2d60" d="M1374.9 475.3h0M1337.9 474.9h0M1346.3 476.2h0M1397.2 474.9h0M1365.3 475.0h0"/>
<path stroke="#e42c6a" d="M1400.9 476.1h0M1404.2 475.3h0M1355.0 476.1h0M1389.2 475.0h0M1353.1 476.0h0"/>
<path stroke="#de2a74" d="M1327.9 475.3h0M1353.1 474.9h0M1379.0 475.5h0M1400.9 474.9h0M1402.6 474.9h0M1395.6 474.9h0"/>
<path stroke="#5a56d8" d="M1315.6 475.3h0"/>
<path stroke="#bd2597" d="M1348.4 474.8h0M1322.7 474.9h0M1317.2 474.9h0"/>
<path stroke="#e42c6a" d="M1363.6 475.5h0M1358.3 474.8h0M1390.6 476.3h0M1341.0 476.1h0M1341.0 474.8h0M1326.2 476.1h0M1322.7 476.0h0M1363.6 476.0h0M1343.0 475.0h0"/>
<path stroke="#d42880" d="M1331.1 476.2h0M1339.3 475.8h0M1363.6 475.0h0M1395.6 476.1h0M1349.7 475.6h0"/>
<path stroke="#ea2d60" d="M1360.0 474.7h0M1370.5 476.1h0M1349.7 476.2h0M1413.0 476.1h0M1400.9 475.6h0M1393.9 476.3h0M1373.7 476.1h0M1383.8 476.0h0M1341.0 475.7h0M1370.5 474.8h0"/>
<path stroke="#ca268c" d="M1331.1 475.7h0M1392.4 475.4h0M1327.9 476.3h0M1327.9 474.8h0M1324.5 475.4h0M1329.1 475.8h0"/>
<path stroke="#ee3052" d="M1389.2 476.2h0M1374.9 474.8h0M1368.2 475.6h0M1366.7 475.6h0M1395.6 475.7h0M1398.7 474.9h0M1406.0 474.8h0M1374.9 476.2h0M1336.2 474.9h0M1397.2 476.2h0M1414.3 475.0h0M1402.6 476.0h0"/>
<path stroke="#ec2e59" d="M1380.3 474.9h0M1366.7 475.0h0M1414.3 475.3h0M1376.9 476.2h0M1392.4 476.2h0M1397.2 475.3h0M1404.2 474.8h0"/>
<path stroke="#de2a74" d="M1411.0 475.6h0M1334.2 476.1h0M1416.1 475.6h0M1373.7 475.4h0M1407.8 475.4h0M1346.3 475.5h0M1348.4 476.2h0"/>
<path stroke="#942cb4" d="M1324.5 475.0h0M1307.2 475.5h0"/>
<path stroke="#7842c8" d="M1307.2 474.8h0"/>
<path stroke="#b024a2" d="M1317.2 475.6h0M1305.6 475.4h0M1329.1 474.9h0"/>
<path stroke="#408cf4" d="M1286.9 482.3h0M1296.8 467.6h0M1291.8 466.7h0M1296.8 483.4h0M1285.5 473.8h0M1291.8 482.2h0M1299.1 473.9h0M1288.7 477.8h0M1295.6 483.8h0M1286.9 475.5h0M1283.7 477.6h0M1283.7 473.3h0M1295.6 463.2h0M1290.7 469.4h0M1288.7 471.0h0M1299.1 475.3h0M1293.5 473.6h0M1293.5 475.4h0M1288.7 480.1h0M1291.8 479.7h0M1290.7 473.5h0M1283.7 475.2h0M1288.7 484.3h0M1285.5 470.9h0M1290.7 463.8h0M1296.8 473.3h0M1291.8 464.1h0M1286.9 480.2h0M1290.7 477.2h0M1295.6 469.4h0M1286.9 470.7h0M1291.8 471.1h0M1293.5 480.2h0M1286.9 473.4h0M1295.6 486.0h0M1293.5 471.4h0M1291.8 473.6h0M1295.6 477.6h0M1291.8 486.9h0M1295.6 487.9h0M1295.6 475.2h0M1296.8 475.5h0M1285.5 478.9h0M1295.6 473.6h0M1296.8 479.5h0M1293.5 482.3h0"/>
<path stroke="#408cf4" d="M1293.5 466.5h0M1291.8 462.2h0M1290.7 475.3h0M1290.7 483.4h0M1296.8 477.3h0M1285.5 477.2h0M1295.6 471.4h0M1290.7 485.5h0M1285.5 480.2h0M1290.7 479.2h0M1296.8 471.3h0M1293.5 462.5h0M1296.8 469.8h0M1290.7 471.3h0M1293.5 486.3h0M1295.6 465.1h0M1293.5 464.7h0M1299.1 472.7h0M1295.6 467.6h0M1286.9 478.0h0M1288.7 469.0h0M1290.7 481.4h0M1291.8 475.3h0M1295.6 481.7h0M1290.7 467.9h0M1293.5 488.5h0M1291.8 468.8h0M1299.1 477.2h0M1296.8 481.8h0M1285.5 475.6h0M1285.5 472.2h0M1288.7 482.3h0M1293.5 469.1h0M1291.8 477.7h0M1293.5 477.8h0M1288.7 466.8h0M1299.1 478.3h0M1288.7 475.5h0M1293.5 484.0h0M1290.7 487.1h0M1290.7 465.7h0M1291.8 484.7h0M1288.7 473.1h0M1291.8 488.8h0M1295.6 479.6h0M1286.9 468.7h0"/>
<path stroke="#ca268c" d="M1361.7 511.1h0M1397.5 511.0h0M1365.2 511.0h0"/>
<path stroke="#ea2d60" d="M1395.3 510.3h0M1337.7 510.6h0M1346.3 510.7h0M1366.8 510.3h0M1337.7 510.3h0M1392.4 511.1h0M1410.6 511.2h0"/>
<path stroke="#a228ab" d="M1405.8 511.2h0M1354.9 510.8h0M1399.1 510.6h0M1399.1 510.4h0"/>
<path stroke="#bd2597" d="M1361.7 510.4h0M1397.5 510.4h0M1397.5 510.8h0"/>
<path stroke="#e42c6a" d="M1363.1 510.3h0M1347.6 510.8h0M1385.0 511.0h0M1380.1 511.0h0"/>
<path stroke="#ec2e59" d="M1346.3 511.1h0M1388.6 510.8h0M1390.7 510.3h0M1336.0 510.4h0"/>
<path stroke="#de2a74" d="M1376.9 510.8h0M1366.8 510.9h0"/>
<path stroke="#d42880" d="M1360.0 510.3h0"/>
<path stroke="#ee3052" d="M1383.5 510.4h0M1387.2 510.4h0M1410.6 510.3h0M1343.0 510.9h0M1385.0 510.4h0M1347.6 510.3h0M1376.9 511.0h0M1370.2 510.4h0M1392.4 510.9h0M1393.6 511.0h0M1392.4 510.4h0"/>
<path stroke="#942cb4" d="M1354.9 511.1h0M1402.7 510.5h0"/>
<path stroke="#b024a2" d="M1353.3 511.0h0M1358.2 511.1h0M1407.2 510.3h0M1356.4 511.1h0"/>
<path stroke="#942cb4" d="M1403.8 510.4h0"/>
<path stroke="#ee3052" d="M1344.5 511.1h0M1395.3 510.6h0M1336.0 510.3h0M1378.7 510.4h0M1388.6 511.0h0M1381.7 510.5h0M1375.1 510.4h0M1341.0 511.1h0M1341.0 510.3h0M1387.2 510.3h0M1373.2 510.3h0"/>
<path stroke="#de2a74" d="M1395.3 511.1h0M1351.3 510.7h0M1353.3 510.5h0M1407.2 511.1h0"/>
<path stroke="#e42c6a" d="M1375.1 511.1h0M1368.1 511.0h0M1408.9 510.2h0M1368.1 510.3h0"/>
<path stroke="#b024a2" d="M1402.7 510.4h0"/>
<path stroke="#d42880" d="M1366.8 511.1h0"/>
<path stroke="#a228ab" d="M1400.7 510.2h0"/>
<path stroke="#ec2e59" d="M1346.3 510.3h0M1349.4 510.4h0M1343.0 511.0h0M1380.1 510.4h0M1375.1 510.9h0M1385.0 510.5h0M1371.5 510.4h0M1373.2 510.7h0M1344.5 510.8h0M1383.5 511.0h0"/>
<path stroke="#8637be" d="M1356.4 510.5h0M1354.9 510.4h0"/>
<path stroke="#ca268c" d="M1360.0 511.0h0M1399.1 511.0h0M1365.2 511.0h0M1407.2 510.4h0"/>
<path stroke="#ea2d60" d="M1408.9 511.0h0M1371.5 510.4h0M1365.2 510.4h0M1373.2 511.0h0M1381.7 510.3h0M1371.5 511.1h0"/>
<path stroke="#7842c8" d="M1400.7 510.8h0"/>
<path stroke="#ca268c" d="M1351.3 510.4h0M1403.8 510.9h0M1358.2 511.0h0"/>
<path stroke="#8637be" d="M1405.8 510.6h0"/>
<path stroke="#ee3052" d="M1349.4 510.7h0M1368.1 510.8h0M1349.4 511.0h0M1336.0 511.1h0M1381.7 511.0h0M1393.6 511.1h0M1393.6 510.3h0M1378.7 511.0h0M1370.2 510.8h0M1339.2 510.6h0M1390.7 510.6h0M1337.7 511.0h0"/>
<path stroke="#bd2597" d="M1363.1 511.1h0M1351.3 511.0h0M1400.7 511.1h0"/>
<path stroke="#d42880" d="M1363.1 510.8h0M1353.3 510.3h0M1360.0 510.7h0"/>
<path stroke="#ea2d60" d="M1410.6 510.7h0M1361.7 510.4h0M1339.2 510.3h0M1347.6 511.0h0M1380.1 510.9h0M1390.7 511.0h0"/>
<path stroke="#b024a2" d="M1402.7 511.1h0M1403.8 511.1h0"/>
<path stroke="#942cb4" d="M1358.2 510.3h0"/>
<path stroke="#a228ab" d="M1356.4 510.3h0M1405.8 510.4h0"/>
<path stroke="#ec2e59" d="M1339.2 511.0h0M1341.0 510.4h0M1387.2 511.1h0M1376.9 510.4h0M1343.0 510.3h0M1408.9 511.0h0M1388.6 510.3h0"/>
<path stroke="#de2a74" d="M1344.5 510.3h0"/>
<path stroke="#e42c6a" d="M1370.2 511.1h0M1378.7 510.8h0M1383.5 510.8h0"/>
<path stroke="#408cf4" d="M1293.8 522.5h0M1296.0 516.1h0M1296.0 505.3h0M1285.4 511.6h0M1291.0 506.1h0M1293.8 510.6h0M1288.9 512.4h0M1296.0 510.4h0M1298.9 509.3h0M1292.1 516.6h0M1292.1 506.8h0M1293.8 503.0h0M1282.3 510.8h0M1282.3 511.1h0M1297.6 507.3h0M1297.6 514.1h0M1293.8 512.9h0M1282.3 510.2h0M1288.9 511.0h0M1298.9 513.0h0M1297.6 512.2h0M1292.1 511.0h0M1288.9 509.0h0M1293.8 516.6h0M1287.6 509.5h0M1283.6 511.4h0M1293.8 500.9h0M1293.8 518.6h0M1297.6 510.7h0M1291.0 499.4h0M1288.9 507.4h0M1292.1 508.9h0M1298.9 508.5h0M1293.8 520.6h0M1291.0 510.7h0M1288.9 515.3h0M1292.1 512.5h0"/>
<path stroke="#408cf4" d="M1298.9 510.4h0M1291.0 522.0h0M1285.4 510.8h0M1291.0 512.9h0M1297.6 509.2h0M1291.0 517.8h0M1291.0 515.2h0M1292.1 522.9h0M1291.0 504.1h0M1293.8 504.5h0M1298.9 512.2h0M1296.0 512.3h0M1292.1 518.7h0M1293.8 514.9h0M1285.4 509.8h0M1292.1 500.5h0M1292.1 502.6h0M1283.6 510.1h0M1291.0 501.7h0M1293.8 508.9h0M1283.6 511.0h0M1287.6 511.9h0M1296.0 507.0h0M1292.1 504.5h0M1291.0 519.6h0M1296.0 514.3h0M1293.8 507.0h0M1296.0 509.0h0M1292.1 514.9h0M1287.6 513.2h0M1292.1 498.5h0M1287.6 510.5h0M1287.6 508.2h0M1291.0 508.3h0M1288.9 506.0h0M1288.9 513.6h0M1293.8 498.9h0M1292.1 520.9h0"/>
<path stroke="#de2a74" d="M1321.0 510.7h0"/>
<path stroke="#8637be" d="M1313.1 510.7h0"/>
<path stroke="#ee3052" d="M1422.6 510.7h0"/>
<path stroke="#de2a74" d="M1360.1 545.2h0M1383.7 546.6h0M1405.9 545.3h0M1402.5 545.4h0M1317.4 546.0h0M1427.6 546.5h0M1419.5 545.3h0M1432.7 546.0h0M1337.8 546.4h0"/>
<path stroke="#ee3052" d="M1385.3 545.2h0M1356.7 545.3h0M1423.0 546.6h0M1349.8 546.0h0M1363.3 546.0h0M1382.1 546.5h0M1395.7 545.8h0M1371.5 546.2h0M1351.6 546.0h0M1351.6 546.7h0M1348.1 546.6h0M1386.9 545.3h0"/>
<path stroke="#8637be" d="M1334.5 545.4h0M1308.6 546.5h0M1308.6 545.2h0M1310.3 546.5h0M1322.4 545.3h0M1326.1 546.5h0"/>
<path stroke="#942cb4" d="M1313.8 546.0h0M1319.1 545.2h0M1326.1 545.3h0M1334.5 546.5h0M1315.8 546.5h0M1339.4 546.4h0M1312.5 545.9h0"/>
<path stroke="#a228ab" d="M1407.4 545.3h0M1342.6 546.6h0"/>
<path stroke="#d42880" d="M1402.5 546.5h0"/>
<path stroke="#ca268c" d="M1307.0 545.2h0"/>
<path stroke="#e42c6a" d="M1414.1 546.7h0M1409.5 545.2h0M1380.3 545.8h0M1421.4 545.4h0M1431.2 545.9h0M1371.5 546.5h0M1352.9 546.7h0M1356.7 546.5h0M1405.9 545.8h0M1410.9 545.3h0M1432.7 546.6h0M1424.3 546.5h0"/>
<path stroke="#7842c8" d="M1315.8 545.3h0M1329.5 545.2h0"/>
<path stroke="#ec2e59" d="M1373.3 545.3h0M1361.6 545.1h0M1358.1 545.2h0M1363.3 546.6h0M1397.5 545.2h0M1371.5 545.4h0"/>
<path stroke="#ea2d60" d="M1390.5 545.9h0M1404.1 546.1h0M1421.4 546.5h0M1399.3 546.6h0M1429.5 545.9h0M1400.9 546.4h0"/>
<path stroke="#b024a2" d="M1337.8 545.3h0M1332.3 546.5h0M1324.0 545.3h0M1341.2 545.3h0M1346.1 545.7h0"/>
<path stroke="#694cd0" d="M1305.8 545.3h0M1310.3 545.6h0"/>
<path stroke="#bd2597" d="M1407.4 546.5h0M1324.0 546.4h0M1415.8 546.6h0M1312.5 546.6h0M1375.4 545.7h0M1341.2 546.5h0M1419.5 545.7h0"/>
<path stroke="#7842c8" d="M1334.5 546.1h0"/>
<path stroke="#ee3052" d="M1364.7 545.3h0M1363.3 545.1h0M1385.3 546.0h0M1385.3 546.6h0M1417.9 546.5h0M1368.2 546.2h0M1382.1 545.2h0M1366.9 546.5h0M1368.2 545.3h0M1382.1 545.9h0M1388.9 546.5h0M1386.9 546.1h0"/>
<path stroke="#694cd0" d="M1307.0 546.5h0"/>
<path stroke="#e42c6a" d="M1397.5 546.6h0M1423.0 545.7h0M1349.8 545.3h0M1375.4 545.3h0M1415.8 545.7h0M1397.5 546.0h0M1356.7 545.8h0M1412.7 545.3h0M1402.5 546.1h0"/>
<path stroke="#5a56d8" d="M1327.7 546.1h0"/>
<path stroke="#b024a2" d="M1332.3 546.2h0M1336.0 546.2h0"/>
<path stroke="#de2a74" d="M1349.8 546.6h0M1322.4 545.9h0M1424.3 545.2h0M1429.5 545.3h0M1432.7 545.3h0M1426.1 546.5h0M1329.5 546.5h0M1410.9 546.5h0"/>
<path stroke="#ca268c" d="M1358.1 546.0h0M1436.3 545.9h0M1326.1 545.6h0M1404.1 546.6h0M1436.3 546.4h0"/>
<path stroke="#ea2d60" d="M1399.3 546.1h0M1392.1 545.3h0M1383.7 545.6h0M1436.3 545.4h0M1392.1 545.7h0M1364.7 545.9h0M1392.1 546.4h0M1351.6 545.2h0M1409.5 546.5h0"/>
<path stroke="#ec2e59" d="M1431.2 545.3h0M1388.9 545.3h0M1364.7 546.5h0M1393.7 546.5h0M1426.1 545.3h0M1355.1 545.2h0M1361.6 546.0h0M1434.5 546.2h0M1376.6 545.2h0M1352.9 545.3h0"/>
<path stroke="#942cb4" d="M1336.0 546.5h0M1429.5 546.5h0M1327.7 546.6h0M1339.4 545.4h0M1330.8 546.5h0"/>
<path stroke="#bd2597" d="M1424.3 545.8h0M1342.6 545.3h0M1339.4 545.8h0"/>
<path stroke="#8637be" d="M1315.8 545.6h0M1330.8 545.1h0"/>
<path stroke="#d42880" d="M1415.8 545.2h0M1341.2 545.6h0M1412.7 546.6h0M1407.4 545.7h0M1344.5 546.5h0"/>
<path stroke="#a228ab" d="M1322.4 546.6h0M1321.0 546.6h0M1321.0 545.2h0M1330.8 545.6h0M1321.0 545.7h0"/>
<path stroke="#a228ab" d="M1317.4 546.6h0M1313.8 546.6h0M1307.0 545.7h0M1434.5 546.6h0"/>
<path stroke="#ec2e59" d="M1399.3 545.2h0M1366.9 545.3h0M1368.2 546.4h0M1423.0 545.2h0M1390.5 545.3h0M1373.3 546.5h0"/>
<path stroke="#7842c8" d="M1317.4 545.1h0M1310.3 545.3h0"/>
<path stroke="#942cb4" d="M1305.8 546.5h0M1327.7 545.1h0M1305.8 546.2h0M1332.3 545.4h0"/>
<path stroke="#694cd0" d="M1337.8 545.6h0"/>
<path stroke="#b024a2" d="M1324.0 546.0h0M1329.5 545.9h0M1319.1 546.6h0"/>
<path stroke="#8637be" d="M1342.6 545.7h0M1344.5 545.3h0M1319.1 546.1h0M1312.5 545.2h0"/>
<path stroke="#de2a74" d="M1427.6 545.3h0M1409.5 545.8h0M1390.5 546.5h0"/>
<path stroke="#5a56d8" d="M1308.6 546.1h0"/>
<path stroke="#ca268c" d="M1421.4 546.0h0"/>
<path stroke="#ea2d60" d="M1417.9 545.3h0M1410.9 546.1h0M1369.8 546.2h0M1366.9 546.0h0M1419.5 546.6h0M1355.1 546.2h0M1412.7 545.8h0M1386.9 546.5h0M1348.1 545.6h0M1369.8 545.3h0M1388.9 545.6h0"/>
<path stroke="#ee3052" d="M1378.6 545.1h0M1376.6 546.5h0M1355.1 546.5h0M1400.9 546.2h0M1373.3 546.1h0M1431.2 546.6h0M1360.1 545.7h0M1380.3 546.5h0M1380.3 545.2h0M1360.1 546.6h0M1348.1 545.3h0M1375.4 546.5h0M1378.6 545.6h0M1369.8 546.5h0M1393.7 546.0h0M1395.7 546.6h0M1358.1 546.6h0M1361.6 546.5h0"/>
<path stroke="#e42c6a" d="M1395.7 545.2h0M1378.6 546.6h0M1414.1 545.6h0M1352.9 545.8h0M1346.1 545.3h0M1383.7 545.3h0M1427.6 546.2h0M1404.1 545.4h0M1376.6 546.2h0M1426.1 545.9h0M1400.9 545.3h0M1393.7 545.4h0"/>
<path stroke="#d42880" d="M1405.9 546.6h0M1336.0 545.4h0M1414.1 545.2h0"/>
<path stroke="#bd2597" d="M1344.5 545.9h0M1346.1 546.5h0M1434.5 545.1h0M1417.9 545.7h0M1313.8 545.3h0"/>
<path stroke="#408cf4" d="M1295.3 541.9h0M1295.3 543.7h0M1296.8 545.7h0M1293.9 556.3h0M1290.0 538.6h0M1288.7 545.9h0M1287.1 545.8h0M1293.9 550.0h0M1290.0 547.7h0M1291.7 534.5h0M1287.1 544.2h0M1296.8 540.1h0M1290.0 546.1h0M1288.7 549.1h0M1287.1 547.6h0M1290.0 540.4h0M1296.8 547.7h0M1293.9 552.0h0M1295.3 547.8h0M1290.0 543.9h0M1293.9 541.9h0M1291.7 545.8h0M1291.7 550.7h0M1290.0 551.4h0M1291.7 537.0h0M1290.0 542.3h0M1296.8 551.7h0M1293.9 548.2h0M1295.3 546.1h0"/>
<path stroke="#408cf4" d="M1290.0 553.2h0M1285.3 545.2h0M1293.9 544.0h0M1291.7 543.4h0M1291.7 538.8h0M1290.0 549.5h0M1295.3 538.3h0M1293.9 545.6h0M1296.8 542.2h0M1291.7 557.3h0M1293.9 554.1h0M1296.8 550.1h0M1288.7 547.3h0M1291.7 548.4h0M1288.7 544.3h0M1285.3 546.6h0M1291.7 541.6h0M1296.8 544.1h0M1291.7 552.6h0M1293.9 539.4h0M1293.9 537.7h0M1295.3 553.5h0M1295.3 549.9h0M1285.3 545.6h0M1288.7 542.6h0M1295.3 551.5h0M1291.7 555.2h0M1295.3 540.1h0M1293.9 535.5h0"/>
<path stroke="#bd2597" d="M1319.0 581.5h0M1310.4 581.2h0M1317.4 581.4h0M1306.9 581.1h0"/>
<path stroke="#ea2d60" d="M1349.9 580.8h0M1322.2 580.8h0M1324.5 581.5h0M1351.6 581.4h0M1371.5 581.0h0M1365.0 580.7h0M1339.3 580.8h0M1361.7 581.0h0M1322.2 581.5h0"/>
<path stroke="#e42c6a" d="M1326.0 580.7h0M1343.1 581.1h0M1317.4 580.8h0"/>
<path stroke="#ec2e59" d="M1332.9 580.7h0M1383.8 581.5h0M1356.3 581.4h0M1361.7 581.6h0M1370.3 580.7h0M1381.7 581.4h0M1341.2 581.5h0M1341.2 581.3h0M1373.6 581.4h0M1404.2 581.5h0M1365.0 581.3h0M1354.7 581.1h0"/>
<path stroke="#de2a74" d="M1351.6 580.7h0M1315.4 580.7h0M1317.4 580.8h0"/>
<path stroke="#ca268c" d="M1312.0 581.4h0"/>
<path stroke="#d42880" d="M1320.8 581.0h0M1309.2 581.2h0M1322.2 581.3h0M1305.5 580.8h0M1358.2 581.4h0"/>
<path stroke="#ee3052" d="M1339.3 581.4h0M1511.3 580.9h0M1512.9 580.7h0M1390.6 581.2h0M1518.1 581.1h0M1329.2 580.7h0M1485.7 580.6h0M1395.7 581.4h0M1375.1 580.7h0M1479.0 581.3h0M1387.1 580.8h0M1465.5 581.4h0M1480.9 581.2h0M1508.2 580.8h0M1399.0 581.5h0M1343.1 580.8h0M1509.7 581.2h0M1499.8 581.1h0M1383.8 580.7h0M1519.9 580.6h0M1380.1 580.9h0M1467.1 580.6h0M1506.0 581.5h0M1487.5 580.6h0M1335.8 581.4h0M1480.9 580.7h0M1509.7 581.5h0M1373.6 580.7h0M1502.7 580.8h0M1409.0 581.2h0M1495.9 580.8h0M1370.3 581.4h0M1501.2 581.5h0M1326.0 581.2h0M1525.2 581.2h0M1373.6 580.8h0M1376.8 580.7h0M1523.4 580.7h0M1461.8 581.4h0M1338.0 581.4h0M1512.9 581.1h0M1502.7 580.8h0M1499.8 580.8h0M1494.6 580.8h0M1463.5 580.8h0M1480.9 581.5h0M1499.8 581.5h0M1397.1 581.5h0M1484.2 580.7h0M1404.2 580.8h0M1368.6 580.7h0M1470.4 581.6h0M1504.6 580.7h0M1511.3 580.8h0M1479.0 581.4h0M1327.2 580.9h0M1463.5 581.5h0M1467.1 581.5h0M1474.1 580.6h0M1506.0 580.8h0M1460.4 581.3h0M1511.3 581.4h0M1525.2 581.4h0M1477.3 580.8h0M1363.2 580.9h0"/>
<path stroke="#ea2d60" d="M1399.0 581.1h0M1327.2 580.7h0M1331.3 581.4h0M1370.3 580.9h0M1361.7 580.7h0M1359.9 580.6h0M1346.0 580.8h0M1392.3 580.8h0M1354.7 581.5h0M1371.5 581.4h0"/>
<path stroke="#d42880" d="M1319.0 580.9h0M1346.0 581.2h0M1305.5 581.1h0M1313.7 581.0h0"/>
<path stroke="#bd2597" d="M1309.2 580.7h0"/>
<path stroke="#ee3052" d="M1359.9 581.3h0M1385.4 580.7h0M1506.0 580.7h0M1472.2 580.6h0M1387.1 580.6h0M1410.9 580.8h0M1368.6 581.4h0M1331.3 580.7h0M1495.9 580.9h0M1491.2 580.7h0M1395.7 581.1h0M1468.9 580.6h0M1461.8 580.9h0M1508.2 581.4h0M1468.9 581.0h0M1376.8 581.2h0M1368.6 581.4h0M1315.4 581.5h0M1334.2 581.4h0M1460.4 580.8h0M1516.1 581.2h0M1525.2 580.8h0M1482.2 581.0h0M1461.8 580.8h0M1489.6 581.6h0M1492.7 580.7h0M1492.7 581.3h0M1521.3 580.8h0M1521.3 580.8h0M1494.6 581.5h0M1504.6 581.3h0M1399.0 580.8h0M1523.4 581.5h0M1519.9 581.2h0M1487.5 581.0h0M1489.6 581.2h0M1492.7 581.5h0M1485.7 581.6h0M1497.6 580.8h0M1397.1 580.7h0M1487.5 581.5h0M1380.1 581.5h0M1400.5 580.7h0M1519.9 581.6h0M1516.1 581.5h0M1365.0 581.5h0M1491.2 580.8h0M1523.4 581.1h0M1402.3 580.9h0M1335.8 581.2h0M1400.5 581.1h0M1378.5 580.7h0M1497.6 581.3h0M1385.4 581.4h0M1509.7 580.7h0M1460.4 581.0h0M1375.1 581.4h0M1501.2 580.7h0M1514.5 581.5h0M1395.7 580.7h0M1332.9 581.0h0M1489.6 580.7h0M1465.5 580.8h0M1376.8 581.5h0M1404.2 580.9h0M1494.6 581.3h0"/>
<path stroke="#e42c6a" d="M1388.8 581.2h0M1310.4 580.8h0M1306.9 581.5h0M1358.2 580.7h0"/>
<path stroke="#ec2e59" d="M1326.0 581.5h0M1309.2 581.5h0M1406.1 581.3h0M1349.9 580.8h0M1344.8 581.4h0M1324.5 581.0h0M1341.2 580.8h0M1397.1 581.3h0M1371.5 580.7h0M1402.3 581.5h0M1344.8 581.4h0M1352.9 581.4h0M1406.1 580.7h0"/>
<path stroke="#ca268c" d="M1305.5 581.5h0M1312.0 580.7h0M1319.0 580.7h0M1352.9 580.8h0"/>
<path stroke="#ca268c" d="M1320.8 580.7h0"/>
<path stroke="#ec2e59" d="M1338.0 580.7h0M1359.9 581.5h0M1334.2 580.7h0M1392.3 580.7h0M1366.7 581.4h0M1381.7 581.0h0M1331.3 581.2h0M1338.0 581.1h0M1392.3 581.4h0M1356.3 581.1h0M1394.0 581.1h0M1400.5 581.6h0"/>
<path stroke="#e42c6a" d="M1356.3 580.8h0M1354.7 580.8h0M1343.1 581.4h0"/>
<path stroke="#ee3052" d="M1394.0 580.7h0M1383.8 581.2h0M1482.2 580.7h0M1358.2 581.0h0M1491.2 581.5h0M1329.2 581.5h0M1380.1 580.7h0M1477.3 581.3h0M1472.2 581.0h0M1518.1 581.5h0M1388.8 581.5h0M1335.8 580.8h0M1385.4 581.5h0M1474.1 581.6h0M1339.3 580.8h0M1512.9 581.5h0M1334.2 581.0h0M1390.6 581.4h0M1468.9 581.6h0M1484.2 581.1h0M1467.1 581.1h0M1470.4 580.6h0M1479.0 580.8h0M1475.9 580.7h0M1516.1 580.7h0M1485.7 581.4h0M1495.9 581.5h0M1409.0 581.4h0M1502.7 581.4h0M1514.5 580.9h0M1474.1 581.3h0M1465.5 581.2h0M1410.9 581.4h0M1366.7 581.2h0M1470.4 581.0h0M1363.2 580.6h0M1407.3 581.2h0M1472.2 581.5h0M1388.8 580.7h0M1375.1 581.1h0M1521.3 581.4h0M1402.3 580.7h0M1463.5 580.9h0M1329.2 581.1h0M1324.5 580.7h0M1482.2 581.5h0M1475.9 581.5h0M1501.2 580.8h0M1407.3 581.5h0M1381.7 580.6h0M1477.3 581.4h0M1484.2 581.5h0M1327.2 581.6h0M1378.5 581.5h0M1514.5 580.7h0M1518.1 580.6h0M1508.2 581.2h0M1497.6 581.4h0M1387.1 581.5h0M1504.6 581.6h0M1409.0 580.8h0M1475.9 581.2h0M1407.3 580.7h0"/>
<path stroke="#bd2597" d="M1310.4 581.6h0"/>
<path stroke="#ea2d60" d="M1378.5 581.2h0M1410.9 581.3h0M1312.0 581.5h0M1406.1 581.5h0M1390.6 580.8h0M1348.1 581.0h0M1366.7 580.8h0M1352.9 580.9h0M1349.9 581.4h0M1394.0 581.5h0M1332.9 581.4h0M1363.2 581.5h0M1315.4 581.3h0M1346.0 581.5h0"/>
<path stroke="#d42880" d="M1313.7 581.6h0M1313.7 580.7h0M1306.9 580.7h0M1320.8 581.5h0"/>
<path stroke="#de2a74" d="M1348.1 580.7h0M1351.6 581.0h0M1348.1 581.5h0M1344.8 580.7h0"/>
<path stroke="#408cf4" d="M1297.8 577.0h0M1291.4 586.6h0M1291.4 573.8h0M1296.0 575.1h0M1292.9 576.8h0M1294.5 574.7h0M1291.4 581.0h0M1294.5 570.4h0M1294.5 581.3h0M1296.0 571.5h0M1296.0 577.2h0M1294.5 576.6h0M1291.4 575.5h0M1297.8 587.3h0M1292.9 572.9h0M1294.5 583.0h0M1291.4 579.4h0M1294.5 591.8h0M1294.5 585.3h0M1297.8 579.0h0M1292.9 574.9h0M1291.4 583.1h0M1292.9 587.2h0M1297.8 585.3h0M1292.9 581.1h0M1292.9 568.6h0"/>
<path stroke="#408cf4" d="M1292.9 593.6h0M1291.4 584.8h0M1296.0 573.2h0M1292.9 579.3h0M1294.5 593.8h0M1297.8 574.8h0M1297.8 581.1h0M1294.5 589.5h0M1292.9 591.5h0M1297.8 583.5h0M1292.9 585.4h0M1296.0 586.7h0M1291.4 588.5h0M1294.5 579.3h0M1294.5 587.7h0M1296.0 585.0h0M1292.9 589.4h0M1296.0 582.8h0M1296.0 590.8h0M1296.0 580.8h0M1292.9 570.9h0M1292.9 583.5h0M1291.4 577.7h0M1294.5 572.3h0M1296.0 579.2h0M1294.5 568.4h0M1296.0 588.9h0"/>
<path stroke="#ee3052" d="M1426.6 581.1h0M1427.8 581.1h0M1446.2 581.1h0M1536.6 581.1h0M1543.7 581.1h0"/>
<path stroke="#de2a74" d="M1341.6 616.4h0"/>
<path stroke="#5a56d8" d="M1324.4 616.2h0"/>
<path stroke="#8637be" d="M1322.6 615.4h0M1317.5 617.2h0M1305.9 615.7h0"/>
<path stroke="#ca268c" d="M1334.6 617.1h0M1339.9 615.3h0"/>
<path stroke="#e42c6a" d="M1338.1 617.3h0M1351.6 616.6h0M1349.8 615.7h0"/>
<path stroke="#ea2d60" d="M1284.1 616.0h0M1349.8 616.8h0M1275.5 616.1h0"/>
<path stroke="#bd2597" d="M1314.6 615.7h0M1307.8 615.6h0"/>
<path stroke="#942cb4" d="M1331.3 615.4h0M1311.1 615.7h0M1319.2 615.4h0M1343.5 615.5h0"/>
<path stroke="#a228ab" d="M1311.1 616.4h0M1315.8 615.7h0"/>
<path stroke="#ee3052" d="M1339.9 617.3h0M1282.2 616.5h0M1274.0 616.4h0M1348.3 615.7h0M1354.9 615.6h0"/>
<path stroke="#ec2e59" d="M1356.9 616.0h0M1351.6 615.5h0M1272.0 616.4h0M1345.0 616.2h0"/>
<path stroke="#b024a2" d="M1326.2 615.5h0"/>
<path stroke="#d42880" d="M1314.6 616.9h0"/>
<path stroke="#3664e6" d="M1309.1 617.0h0"/>
<path stroke="#8637be" d="M1321.1 616.4h0"/>
<path stroke="#942cb4" d="M1322.6 616.2h0M1319.2 616.5h0M1341.6 615.5h0M1305.9 617.0h0M1321.1 617.1h0"/>
<path stroke="#5a56d8" d="M1315.8 616.0h0"/>
<path stroke="#ee3052" d="M1351.6 617.0h0M1353.4 616.1h0M1353.4 617.0h0M1280.8 616.3h0M1343.5 616.1h0"/>
<path stroke="#ec2e59" d="M1345.0 615.5h0M1353.4 615.6h0M1354.9 616.1h0M1354.9 616.9h0M1278.8 616.5h0"/>
<path stroke="#ea2d60" d="M1322.6 617.1h0M1348.3 616.3h0"/>
<path stroke="#e42c6a" d="M1329.7 616.5h0"/>
<path stroke="#b024a2" d="M1338.1 616.5h0M1329.7 615.3h0M1312.9 616.9h0M1343.5 617.1h0M1336.8 616.5h0"/>
<path stroke="#d42880" d="M1333.2 615.4h0"/>
<path stroke="#bd2597" d="M1309.1 615.7h0"/>
<path stroke="#3664e6" d="M1324.4 615.5h0"/>
<path stroke="#a228ab" d="M1314.6 616.3h0M1305.9 616.5h0M1333.2 617.2h0"/>
<path stroke="#ca268c" d="M1345.0 617.0h0M1307.8 616.6h0"/>
<path stroke="#316bea" d="M1329.7 617.3h0"/>
<path stroke="#694cd0" d="M1311.1 617.0h0"/>
<path stroke="#942cb4" d="M1334.6 616.5h0"/>
<path stroke="#d42880" d="M1307.8 617.0h0"/>
<path stroke="#316bea" d="M1339.9 616.1h0M1324.4 617.2h0"/>
<path stroke="#bd2597" d="M1334.6 615.5h0"/>
<path stroke="#ee3052" d="M1346.9 617.1h0M1356.9 616.2h0M1328.1 615.3h0"/>
<path stroke="#ec2e59" d="M1349.8 616.3h0M1356.9 616.8h0M1348.3 616.9h0M1276.9 616.3h0M1346.9 615.6h0"/>
<path stroke="#3664e6" d="M1319.2 617.1h0"/>
<path stroke="#7842c8" d="M1309.1 616.6h0"/>
<path stroke="#ea2d60" d="M1312.9 616.1h0"/>
<path stroke="#ca268c" d="M1321.1 615.5h0M1333.2 616.3h0M1341.6 617.1h0M1326.2 617.1h0"/>
<path stroke="#5a56d8" d="M1315.8 616.9h0"/>
<path stroke="#de2a74" d="M1336.8 615.3h0M1312.9 615.6h0M1328.1 616.2h0M1338.1 615.4h0"/>
<path stroke="#a228ab" d="M1336.8 617.2h0"/>
<path stroke="#e42c6a" d="M1326.2 616.3h0M1346.9 616.3h0"/>
<path stroke="#8637be" d="M1328.1 617.3h0"/>
<path stroke="#b024a2" d="M1317.5 616.4h0M1317.5 615.5h0M1331.3 616.5h0M1331.3 617.3h0"/>
<path stroke="#408cf4" d="M1294.0 627.0h0M1299.2 616.0h0M1291.0 612.5h0M1291.0 616.4h0M1297.5 612.7h0M1299.2 619.6h0M1294.0 603.3h0M1294.0 629.3h0M1287.3 616.4h0M1289.0 620.4h0M1299.2 614.9h0M1294.0 624.7h0M1297.5 610.9h0M1295.4 607.6h0M1294.0 605.3h0M1292.2 616.2h0M1292.2 609.9h0M1295.4 624.9h0M1294.0 616.4h0M1291.0 621.9h0M1295.4 618.5h0M1291.0 610.7h0M1291.0 618.4h0M1292.2 611.8h0M1295.4 622.6h0M1292.2 603.1h0M1292.2 618.3h0M1287.3 617.9h0M1292.2 605.1h0M1291.0 624.0h0M1292.2 620.9h0M1297.5 616.2h0M1294.0 612.1h0"/>
<path stroke="#408cf4" d="M1295.4 616.3h0M1295.4 612.1h0M1289.0 616.2h0M1294.0 622.9h0M1291.0 614.6h0M1294.0 610.0h0M1294.0 607.5h0M1295.4 614.4h0M1291.0 608.7h0M1289.0 618.3h0M1291.0 619.9h0M1297.5 617.9h0M1297.5 621.7h0M1292.2 607.7h0M1295.4 620.6h0M1292.2 623.1h0M1294.0 614.4h0M1295.4 609.9h0M1291.0 606.7h0M1299.2 617.8h0M1292.2 627.3h0M1297.5 619.8h0M1297.5 614.7h0M1292.2 629.6h0M1289.0 614.4h0M1294.0 620.7h0M1292.2 614.4h0M1289.0 612.3h0M1287.3 614.6h0M1292.2 625.3h0M1294.0 618.6h0M1291.0 625.8h0M1299.2 613.1h0"/>
<path stroke="#a228ab" d="M1304.1 647.4h0"/>
<path stroke="#bd2597" d="M1310.6 651.3h0"/>
<path stroke="#5a56d8" d="M1300.4 643.8h0M1297.2 649.5h0M1302.4 647.2h0M1298.6 647.9h0"/>
<path stroke="#ca268c" d="M1310.6 653.7h0"/>
<path stroke="#8637be" d="M1305.9 649.7h0M1305.9 653.6h0M1307.2 651.5h0"/>
<path stroke="#ec2e59" d="M1319.4 652.2h0M1340.0 650.8h0M1329.9 650.6h0M1321.4 652.2h0M1322.7 652.2h0M1341.4 651.7h0M1341.4 650.5h0"/>
<path stroke="#ea2d60" d="M1315.7 652.3h0"/>
<path stroke="#408cf4" d="M1283.9 648.8h0M1263.4 651.1h0M1300.4 657.0h0M1274.9 650.6h0M1276.9 651.4h0M1265.1 651.4h0M1281.9 651.8h0"/>
<path stroke="#367ff1" d="M1266.6 652.0h0M1280.0 651.6h0M1273.2 651.3h0M1304.1 657.6h0M1273.2 650.8h0M1287.0 654.4h0M1288.5 652.9h0M1281.9 653.7h0M1283.9 651.2h0M1291.9 648.3h0M1280.0 649.3h0M1285.3 654.3h0M1290.3 652.7h0M1274.9 652.5h0M1280.0 653.7h0M1291.9 654.6h0M1288.5 651.4h0M1274.9 651.3h0M1276.9 649.9h0M1281.9 652.4h0M1271.9 650.8h0M1280.0 652.7h0M1278.4 649.9h0"/>
<path stroke="#3664e6" d="M1304.1 655.8h0M1302.4 641.5h0M1298.6 645.7h0M1300.4 660.8h0"/>
<path stroke="#7842c8" d="M1312.8 650.1h0M1304.1 649.5h0"/>
<path stroke="#ee3052" d="M1345.1 652.1h0M1355.0 650.8h0M1355.0 652.1h0M1353.5 652.2h0M1346.5 652.1h0M1349.6 652.1h0M1345.1 651.8h0M1355.0 651.4h0"/>
<path stroke="#b024a2" d="M1309.1 651.6h0"/>
<path stroke="#de2a74" d="M1314.5 652.7h0M1314.5 651.3h0"/>
<path stroke="#942cb4" d="M1304.1 651.2h0"/>
<path stroke="#316bea" d="M1294.1 651.8h0M1300.4 655.2h0M1297.2 647.2h0"/>
<path stroke="#2c72ee" d="M1288.5 650.0h0M1290.3 648.6h0M1297.2 653.5h0"/>
<path stroke="#485ddf" d="M1295.5 656.0h0M1298.6 657.2h0M1300.4 645.9h0"/>
<path stroke="#694cd0" d="M1307.2 649.5h0M1304.1 653.6h0M1304.1 645.3h0"/>
<path stroke="#485ddf" d="M1298.6 651.7h0M1298.6 655.7h0M1298.6 653.6h0"/>
<path stroke="#ca268c" d="M1312.8 651.4h0"/>
<path stroke="#b024a2" d="M1304.1 643.5h0"/>
<path stroke="#942cb4" d="M1307.2 653.8h0M1309.1 652.8h0M1309.1 648.7h0"/>
<path stroke="#ee3052" d="M1348.3 650.8h0M1329.9 652.4h0M1317.5 651.4h0M1351.6 651.7h0M1331.4 650.6h0M1351.6 652.1h0M1346.5 651.3h0M1327.9 652.4h0M1346.5 651.0h0M1322.7 651.2h0M1348.3 652.1h0M1351.6 650.9h0M1349.6 651.3h0M1334.5 651.6h0M1348.3 651.7h0M1334.5 652.4h0M1349.6 650.9h0M1341.4 652.5h0M1336.4 650.6h0M1315.7 650.7h0M1340.0 651.3h0"/>
<path stroke="#de2a74" d="M1314.5 650.2h0"/>
<path stroke="#694cd0" d="M1305.9 657.4h0M1302.4 663.5h0M1302.4 661.3h0"/>
<path stroke="#ea2d60" d="M1329.9 651.7h0"/>
<path stroke="#408cf4" d="M1261.4 651.9h0M1258.5 651.5h0M1263.4 651.5h0M1256.8 651.3h0M1266.6 651.0h0M1276.9 653.2h0M1270.2 650.7h0M1258.5 651.1h0M1265.1 651.0h0M1260.0 651.8h0M1263.4 651.9h0"/>
<path stroke="#7842c8" d="M1302.4 645.8h0"/>
<path stroke="#316bea" d="M1302.4 651.3h0M1294.1 653.5h0"/>
<path stroke="#3664e6" d="M1302.4 657.4h0M1300.4 651.2h0M1302.4 643.2h0"/>
<path stroke="#ec2e59" d="M1345.1 650.8h0M1331.4 652.4h0M1333.2 650.6h0M1336.4 651.7h0M1326.0 651.2h0M1333.2 651.6h0M1319.4 651.8h0M1337.9 650.7h0M1334.5 650.6h0M1321.4 650.8h0M1317.5 652.3h0M1319.4 650.9h0M1324.8 652.4h0M1327.9 650.6h0"/>
<path stroke="#2c72ee" d="M1295.5 651.6h0"/>
<path stroke="#5a56d8" d="M1302.4 639.4h0M1302.4 655.4h0"/>
<path stroke="#367ff1" d="M1283.9 650.2h0M1273.2 652.3h0M1281.9 649.3h0M1290.3 654.4h0M1290.3 651.4h0M1287.0 653.2h0M1268.2 652.0h0M1285.3 650.0h0M1268.2 651.0h0M1290.3 649.8h0"/>
<path stroke="#367ff1" d="M1288.5 654.3h0M1300.4 647.6h0M1280.0 650.5h0M1283.9 654.1h0M1285.3 648.9h0M1291.9 653.3h0M1285.3 652.8h0M1271.9 652.3h0M1271.9 651.4h0M1270.2 652.3h0M1298.6 649.3h0M1270.2 651.6h0M1287.0 648.6h0M1283.9 653.0h0M1287.0 651.8h0M1285.3 651.4h0M1291.9 649.8h0"/>
<path stroke="#ec2e59" d="M1337.9 652.2h0M1324.8 651.3h0M1333.2 652.4h0M1322.7 650.8h0M1336.4 652.4h0M1331.4 651.5h0M1327.9 651.6h0M1324.8 650.5h0M1326.0 650.4h0M1340.0 652.3h0"/>
<path stroke="#5a56d8" d="M1295.5 647.1h0M1305.9 647.2h0M1300.4 653.5h0M1305.9 645.5h0"/>
<path stroke="#485ddf" d="M1302.4 659.5h0M1294.1 649.4h0M1305.9 651.7h0M1295.5 649.5h0"/>
<path stroke="#2c72ee" d="M1297.2 655.8h0M1291.9 651.4h0M1294.1 647.8h0"/>
<path stroke="#a228ab" d="M1307.2 655.7h0"/>
<path stroke="#408cf4" d="M1266.6 651.8h0M1265.1 652.0h0M1261.4 651.1h0M1268.2 651.7h0M1261.4 651.6h0M1281.9 650.4h0M1254.8 651.8h0M1288.5 648.8h0M1260.0 651.2h0M1258.5 651.9h0M1287.0 650.1h0M1278.4 653.1h0M1278.4 651.4h0M1260.0 651.3h0"/>
<path stroke="#b024a2" d="M1310.6 649.2h0M1309.1 654.2h0"/>
<path stroke="#bd2597" d="M1312.8 652.9h0"/>
<path stroke="#7842c8" d="M1309.1 650.4h0M1307.2 647.3h0M1305.9 655.2h0"/>
<path stroke="#ee3052" d="M1343.4 651.6h0M1337.9 651.7h0M1326.0 652.5h0M1343.4 650.7h0M1353.5 651.5h0M1321.4 651.6h0M1353.5 650.9h0M1343.4 652.3h0"/>
<path stroke="#ea2d60" d="M1317.5 650.7h0M1315.7 651.5h0"/>
<path stroke="#3664e6" d="M1302.4 653.5h0M1300.4 658.7h0M1300.4 649.6h0M1297.2 651.4h0"/>
<path stroke="#694cd0" d="M1302.4 649.6h0"/>
<path stroke="#316bea" d="M1295.5 653.9h0M1300.4 642.2h0M1304.1 659.5h0M1294.1 655.2h0"/>
<path stroke="#de2a74" d="M1254.5 686.4h0M1248.0 686.3h0M1257.9 687.0h0"/>
<path stroke="#d42880" d="M1283.4 686.3h0M1271.7 686.8h0"/>
<path stroke="#ec2e59" d="M1285.7 687.1h0M1282.3 686.6h0M1263.4 686.3h0M1257.9 687.1h0"/>
<path stroke="#ca268c" d="M1261.5 686.5h0M1253.0 686.3h0"/>
<path stroke="#ee3052" d="M1275.0 686.4h0M1285.7 686.4h0M1283.4 687.0h0"/>
<path stroke="#ea2d60" d="M1261.5 687.1h0M1292.3 687.0h0M1249.5 687.2h0M1275.0 687.1h0M1289.0 686.7h0"/>
<path stroke="#b024a2" d="M1265.1 686.3h0M1263.4 686.7h0"/>
<path stroke="#e42c6a" d="M1290.7 686.5h0M1268.1 685.8h0M1251.2 687.0h0M1282.3 686.4h0"/>
<path stroke="#bd2597" d="M1280.2 686.3h0M1270.0 686.7h0M1277.1 686.4h0"/>
<path stroke="#de2a74" d="M1270.0 687.9h0M1273.8 687.0h0"/>
<path stroke="#d42880" d="M1248.0 686.9h0M1253.0 687.1h0M1256.3 686.9h0M1259.9 686.7h0"/>
<path stroke="#bd2597" d="M1254.5 686.5h0"/>
<path stroke="#ec2e59" d="M1292.3 686.4h0M1277.1 687.1h0M1266.8 686.7h0"/>
<path stroke="#e42c6a" d="M1266.8 687.4h0M1270.0 685.6h0M1287.0 686.7h0M1265.1 687.1h0M1268.1 687.5h0M1273.8 686.4h0M1278.6 687.0h0"/>
<path stroke="#ca268c" d="M1254.5 687.0h0M1268.1 686.6h0M1277.1 686.6h0M1253.0 686.5h0M1280.2 687.1h0M1249.5 686.8h0"/>
<path stroke="#b024a2" d="M1278.6 686.4h0M1280.2 686.7h0"/>
<path stroke="#ee3052" d="M1287.0 686.4h0M1292.3 687.0h0M1251.2 686.4h0"/>
<path stroke="#ec2e59" d="M1263.4 687.1h0M1273.8 686.9h0M1293.7 686.4h0M1266.8 686.1h0"/>
<path stroke="#a228ab" d="M1265.1 686.9h0"/>
<path stroke="#de2a74" d="M1283.4 686.6h0M1257.9 686.3h0"/>
<path stroke="#ee3052" d="M1285.7 686.9h0M1287.0 687.1h0M1293.7 687.1h0M1290.7 686.3h0M1289.0 686.2h0"/>
<path stroke="#e42c6a" d="M1282.3 687.0h0"/>
<path stroke="#ea2d60" d="M1249.5 686.4h0M1289.0 687.2h0M1290.7 687.0h0M1275.0 687.0h0M1293.7 686.9h0"/>
<path stroke="#d42880" d="M1256.3 687.2h0M1261.5 686.4h0M1251.2 686.3h0M1259.9 686.3h0M1271.7 687.6h0"/>
<path stroke="#ca268c" d="M1248.0 687.1h0M1271.7 685.8h0M1259.9 687.1h0"/>
<path stroke="#bd2597" d="M1256.3 686.3h0"/>
<path stroke="#b024a2" d="M1278.6 686.5h0"/>
<path stroke="#408cf4" d="M1306.2 692.7h0M1304.3 684.5h0M1304.3 693.3h0M1306.2 690.8h0M1307.9 685.0h0M1304.3 682.0h0M1309.4 685.0h0M1300.8 687.0h0M1306.2 684.8h0M1307.9 688.1h0M1300.8 685.7h0M1306.2 698.7h0M1306.2 686.8h0M1304.3 690.9h0M1304.3 688.8h0M1306.2 676.4h0M1306.2 674.6h0"/>
<path stroke="#408cf4" d="M1307.9 683.6h0M1306.2 696.9h0M1306.2 680.9h0M1302.2 684.7h0M1300.8 687.6h0M1307.9 686.6h0M1306.2 678.8h0M1306.2 682.4h0M1304.3 680.1h0M1309.4 686.7h0M1309.4 688.4h0M1306.2 688.7h0M1304.3 686.9h0M1302.2 688.6h0M1306.2 694.6h0M1302.2 686.9h0M1307.9 689.8h0"/>
<path stroke="#bd2597" d="M1294.3 721.5h0M1292.5 722.0h0M1290.8 721.5h0"/>
<path stroke="#e42c6a" d="M1278.8 722.2h0M1275.8 721.6h0"/>
<path stroke="#de2a74" d="M1287.2 721.6h0"/>
<path stroke="#ea2d60" d="M1282.3 722.0h0M1272.1 722.3h0M1282.3 721.6h0M1260.2 722.3h0M1275.8 722.3h0M1248.4 721.5h0"/>
<path stroke="#ee3052" d="M1241.7 721.6h0M1280.7 722.1h0M1255.0 722.3h0M1249.9 721.5h0M1253.4 722.2h0M1273.9 722.2h0M1269.0 722.3h0M1277.4 722.4h0M1260.2 721.6h0M1263.6 722.3h0M1248.4 722.3h0M1245.3 722.3h0"/>
<path stroke="#ec2e59" d="M1272.1 721.9h0M1246.8 721.7h0M1265.4 721.5h0M1251.6 722.3h0M1266.9 721.5h0M1282.3 722.3h0M1245.3 721.6h0M1261.7 722.2h0"/>
<path stroke="#ca268c" d="M1292.5 721.5h0"/>
<path stroke="#e42c6a" d="M1292.5 722.3h0M1286.1 721.5h0M1283.8 722.2h0M1277.4 721.5h0"/>
<path stroke="#ea2d60" d="M1277.4 721.9h0M1251.6 721.6h0M1280.7 722.2h0M1278.8 721.6h0"/>
<path stroke="#ec2e59" d="M1269.0 721.7h0M1256.9 722.0h0M1275.8 721.5h0M1241.7 722.3h0M1263.6 722.2h0M1258.8 722.1h0M1261.7 722.3h0M1245.3 721.7h0"/>
<path stroke="#de2a74" d="M1287.2 721.6h0M1283.8 722.0h0"/>
<path stroke="#ee3052" d="M1249.9 722.3h0M1266.9 722.3h0M1246.8 721.6h0M1261.7 721.6h0M1270.6 721.5h0M1265.4 721.7h0M1243.4 721.6h0M1263.6 721.6h0M1246.8 722.2h0M1258.8 721.6h0"/>
<path stroke="#ca268c" d="M1289.5 721.5h0M1286.1 722.2h0"/>
<path stroke="#d42880" d="M1289.5 721.9h0M1294.3 721.8h0M1290.8 722.2h0"/>
<path stroke="#e42c6a" d="M1258.8 722.3h0M1265.4 722.2h0M1286.1 721.9h0"/>
<path stroke="#ec2e59" d="M1249.9 722.1h0M1239.9 722.2h0M1273.9 721.6h0M1243.4 721.8h0M1256.9 721.6h0M1260.2 722.0h0M1269.0 721.4h0M1253.4 721.5h0M1278.8 721.9h0M1255.0 721.6h0M1255.0 721.8h0"/>
<path stroke="#ee3052" d="M1239.9 721.4h0M1248.4 721.9h0M1253.4 721.7h0M1241.7 721.5h0M1243.4 722.3h0M1251.6 722.1h0M1266.9 721.7h0M1239.9 722.4h0M1272.1 721.4h0M1256.9 722.3h0"/>
<path stroke="#d42880" d="M1289.5 722.3h0M1287.2 722.3h0M1290.8 721.6h0M1294.3 722.3h0"/>
<path stroke="#ea2d60" d="M1283.8 721.6h0M1270.6 722.4h0M1273.9 721.4h0M1270.6 722.1h0M1280.7 721.5h0"/>
<path stroke="#408cf4" d="M1307.0 725.9h0M1301.7 722.2h0M1301.7 718.0h0M1305.2 721.7h0M1305.2 713.7h0M1307.0 715.4h0M1308.7 721.6h0M1308.7 725.5h0M1305.2 732.2h0M1303.2 727.9h0M1308.7 716.5h0M1305.2 729.8h0M1307.0 709.5h0M1307.0 724.0h0M1303.2 718.1h0M1305.2 726.1h0M1307.0 728.1h0M1301.7 723.8h0M1305.2 709.8h0M1307.0 713.8h0M1303.2 715.8h0M1307.0 734.4h0M1305.2 734.0h0"/>
<path stroke="#408cf4" d="M1308.7 718.0h0M1305.2 720.1h0M1307.0 719.8h0M1305.2 723.7h0M1305.2 717.5h0M1308.7 720.1h0M1307.0 721.6h0M1303.2 722.0h0M1305.2 711.7h0M1303.2 723.8h0M1307.0 717.7h0M1305.2 715.5h0M1301.7 720.0h0M1308.7 723.4h0M1303.2 725.9h0M1308.7 727.3h0M1303.2 729.7h0M1303.2 719.6h0M1301.7 725.7h0M1303.2 714.0h0M1305.2 728.0h0M1307.0 711.5h0M1307.0 732.6h0M1307.0 730.3h0"/>
<path stroke="#408cf4" d="M1313.5 758.4h0M1328.6 757.1h0M1306.8 759.8h0M1311.7 757.2h0M1327.2 756.0h0M1321.9 755.5h0M1308.8 756.0h0M1304.7 754.0h0M1332.5 758.0h0M1328.6 758.2h0M1311.7 754.7h0M1313.5 759.5h0M1313.5 754.8h0M1303.3 758.4h0M1308.8 754.5h0"/>
<path stroke="#e42c6a" d="M1278.1 756.8h0M1272.9 757.5h0"/>
<path stroke="#ee3052" d="M1276.3 756.7h0M1349.0 757.4h0M1352.6 757.5h0M1339.4 757.7h0M1345.9 757.8h0M1333.9 756.1h0M1320.4 759.0h0M1347.7 757.5h0M1330.7 757.9h0M1351.2 756.7h0"/>
<path stroke="#d42880" d="M1285.1 757.6h0"/>
<path stroke="#ec2e59" d="M1347.7 757.1h0M1354.6 756.8h0"/>
<path stroke="#367ff1" d="M1317.0 758.9h0M1315.3 757.0h0M1337.0 756.5h0M1319.0 757.1h0M1327.2 758.3h0M1306.8 755.9h0M1319.0 755.2h0"/>
<path stroke="#bd2597" d="M1274.3 757.5h0M1278.1 757.5h0"/>
<path stroke="#ca268c" d="M1283.0 757.5h0"/>
<path stroke="#de2a74" d="M1281.6 757.4h0M1274.3 757.4h0M1283.0 756.7h0"/>
<path stroke="#d42880" d="M1279.6 756.8h0M1279.6 757.4h0"/>
<path stroke="#ec2e59" d="M1340.9 757.7h0"/>
<path stroke="#408cf4" d="M1304.7 755.8h0M1317.0 757.4h0M1320.4 755.3h0M1310.4 757.3h0M1306.8 757.0h0M1323.8 758.5h0M1325.5 756.0h0M1323.8 757.2h0M1317.0 755.3h0M1310.4 759.8h0M1304.7 756.9h0M1303.3 760.1h0M1308.8 758.2h0M1304.7 760.2h0M1308.8 756.8h0M1315.3 755.1h0M1330.7 756.4h0"/>
<path stroke="#ca268c" d="M1285.1 756.6h0"/>
<path stroke="#b024a2" d="M1276.3 757.4h0"/>
<path stroke="#e42c6a" d="M1272.9 756.7h0M1272.9 757.1h0M1281.6 756.9h0"/>
<path stroke="#367ff1" d="M1303.3 755.6h0M1310.4 756.0h0"/>
<path stroke="#de2a74" d="M1283.0 757.1h0"/>
<path stroke="#ee3052" d="M1352.6 756.7h0M1335.8 756.5h0M1328.6 756.0h0M1347.7 756.7h0M1345.9 756.4h0M1306.8 758.7h0M1337.0 756.9h0M1339.4 756.5h0M1333.9 756.9h0M1342.1 756.5h0M1330.7 757.2h0M1344.2 757.1h0M1344.2 757.7h0M1340.9 756.4h0M1354.6 757.5h0"/>
<path stroke="#bd2597" d="M1278.1 757.0h0"/>
<path stroke="#ec2e59" d="M1351.2 757.5h0M1327.2 757.3h0"/>
<path stroke="#367ff1" d="M1304.7 758.6h0M1303.3 757.0h0M1310.4 758.6h0M1321.9 758.8h0"/>
<path stroke="#d42880" d="M1276.3 757.1h0"/>
<path stroke="#ee3052" d="M1349.0 756.7h0M1339.4 757.0h0M1352.6 757.2h0M1325.5 757.0h0M1337.0 757.7h0M1345.9 756.9h0M1342.1 757.8h0M1325.5 758.3h0M1351.2 757.0h0M1342.1 757.3h0M1344.2 756.4h0M1340.9 757.2h0M1349.0 757.5h0M1333.9 758.1h0M1354.6 757.0h0M1335.8 757.4h0"/>
<path stroke="#de2a74" d="M1274.3 756.8h0M1279.6 757.1h0"/>
<path stroke="#408cf4" d="M1332.5 756.1h0M1308.8 759.6h0M1320.4 757.4h0M1319.0 759.1h0M1313.5 756.0h0M1315.3 759.1h0M1306.8 754.3h0M1332.5 756.9h0M1323.8 755.7h0M1335.8 757.8h0M1321.9 756.9h0M1313.5 757.0h0M1311.7 759.5h0M1311.7 758.5h0M1311.7 756.0h0M1310.4 754.4h0M1303.3 754.0h0"/>
<path stroke="#ea2d60" d="M1285.1 756.9h0"/>
<path stroke="#b024a2" d="M1281.6 756.7h0"/>
<path stroke="#de2a74" d="M1295.9 761.3h0"/>
<path stroke="#8637be" d="M1293.8 764.9h0M1293.8 766.9h0M1297.2 765.2h0"/>
<path stroke="#b024a2" d="M1293.8 759.3h0M1295.9 744.3h0M1297.2 755.0h0"/>
<path stroke="#a228ab" d="M1290.8 755.5h0M1292.4 761.8h0"/>
<path stroke="#942cb4" d="M1293.8 753.4h0M1295.9 767.6h0M1292.4 750.4h0M1297.2 757.4h0"/>
<path stroke="#316bea" d="M1297.2 759.0h0M1293.8 763.1h0"/>
<path stroke="#7842c8" d="M1297.2 763.2h0M1293.8 760.9h0M1295.9 769.9h0M1293.8 754.9h0M1290.8 753.6h0M1290.8 758.7h0M1293.8 749.1h0"/>
<path stroke="#694cd0" d="M1295.9 748.8h0"/>
<path stroke="#a228ab" d="M1295.9 750.9h0"/>
<path stroke="#942cb4" d="M1293.8 757.1h0M1295.9 759.3h0M1292.4 754.8h0M1292.4 757.3h0"/>
<path stroke="#b024a2" d="M1297.2 750.9h0"/>
<path stroke="#485ddf" d="M1292.4 752.5h0"/>
<path stroke="#bd2597" d="M1297.2 752.9h0M1297.2 748.9h0"/>
<path stroke="#8637be" d="M1290.8 760.5h0M1292.4 759.1h0M1295.9 765.7h0M1295.9 755.2h0M1293.8 751.3h0M1295.9 752.9h0M1290.8 757.2h0"/>
<path stroke="#7842c8" d="M1292.4 763.8h0M1295.9 757.3h0M1293.8 747.3h0M1297.2 761.2h0M1295.9 746.7h0"/>
<path stroke="#ca268c" d="M1295.9 763.4h0"/>
</g>
<path d="M997.5 792.6H1596.6" stroke="#000" stroke-width="1.7" fill="none"/>
<text class="xt" x="1014.7" y="826.4">−2</text>
<text class="xt" x="1158.1" y="826.4">−1</text>
<text class="xt" x="1301.6" y="826.4">0</text>
<text class="xt" x="1445.0" y="826.4">1</text>
<text class="xt" x="1588.5" y="826.4">2</text>
<path d="M1014.7 792.6v8.0M1158.1 792.6v8.0M1301.6 792.6v8.0M1445.0 792.6v8.0M1588.5 792.6v8.0" stroke="#000" stroke-width="1.7" fill="none"/>
<text class="xl" x="1296.4" y="861.8">Shapley value (impact on model output)</text>
<rect x="1678.4" y="37.8" width="9.6" height="845" fill="url(#cbg)"/>
<text class="cb" x="1695.8" y="46.9">High</text>
<text class="cb" x="1695.9" y="891.8">Low</text>
<text class="fv" transform="translate(1771.0 459.2) rotate(-90)">Feature value</text>
</g>
</svg></body></html>
